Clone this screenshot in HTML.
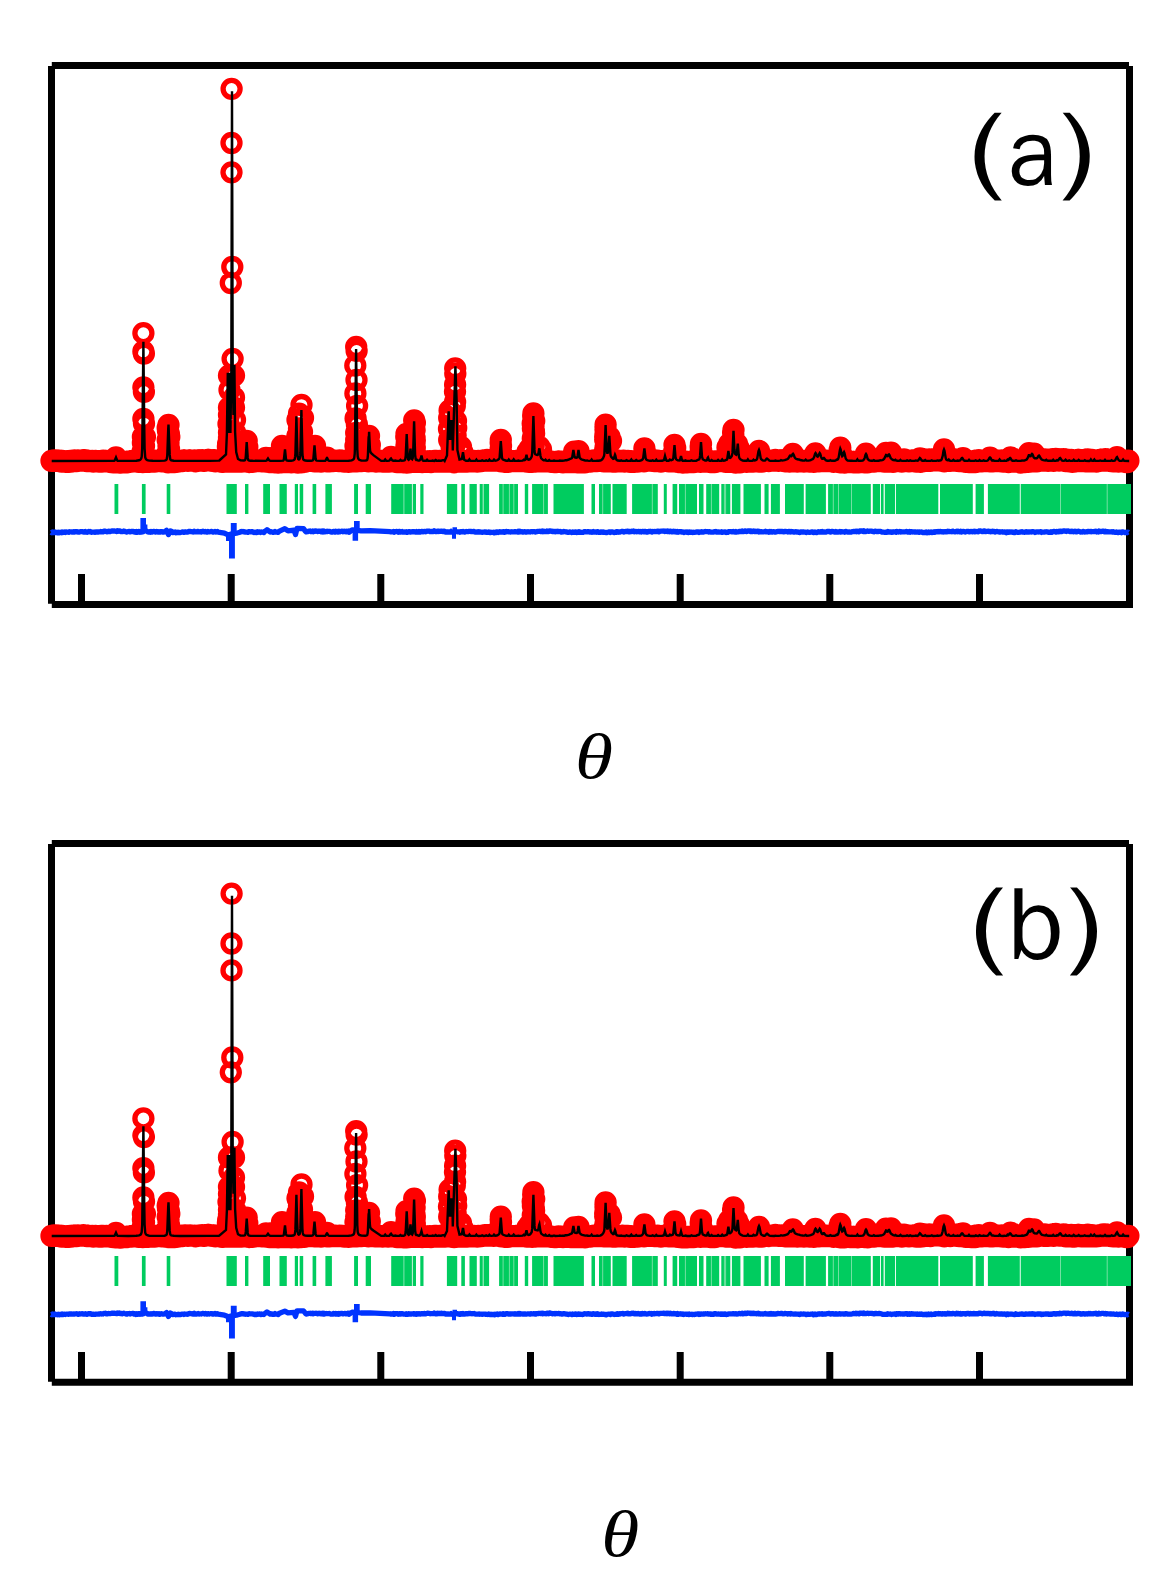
<!DOCTYPE html>
<html><head><meta charset="utf-8"><style>
html,body{margin:0;padding:0;background:#fff;}
body{width:1170px;height:1578px;overflow:hidden;position:relative;}
svg{position:absolute;left:0;top:0;}
.lab{font-family:"WenQuanYi Zen Hei","Liberation Sans",sans-serif;font-size:100px;fill:#000;}
.th{font-family:"Liberation Serif",serif;font-style:italic;font-size:100px;fill:#000;}
</style></head><body>
<svg width="1170" height="1578" viewBox="0 0 1170 1578">
<rect width="1170" height="1578" fill="#fff"/>
<path d="M51.8 65.5H1129M51.5 66V603.7M1129.5 66V607.7M51.8 604.4H1133" stroke="#000" stroke-width="7" fill="none"/>
<path d="M81.5 574V601M231.2 574V601M380.8 574V601M530.5 574V601M680.2 574V601M829.8 574V601M979.5 574V601" stroke="#000" stroke-width="7"/>
<path d="M43 460.8a8.5 8.5 0 1 0 17 0a8.5 8.5 0 1 0-17 0M44.1 460.6a8.5 8.5 0 1 0 17 0a8.5 8.5 0 1 0-17 0M45.2 460.3a8.5 8.5 0 1 0 17 0a8.5 8.5 0 1 0-17 0M46.3 460.8a8.5 8.5 0 1 0 17 0a8.5 8.5 0 1 0-17 0M47.4 460.4a8.5 8.5 0 1 0 17 0a8.5 8.5 0 1 0-17 0M48.5 460.9a8.5 8.5 0 1 0 17 0a8.5 8.5 0 1 0-17 0M49.6 460.6a8.5 8.5 0 1 0 17 0a8.5 8.5 0 1 0-17 0M50.7 460.7a8.5 8.5 0 1 0 17 0a8.5 8.5 0 1 0-17 0M51.8 461.1a8.5 8.5 0 1 0 17 0a8.5 8.5 0 1 0-17 0M52.9 461.6a8.5 8.5 0 1 0 17 0a8.5 8.5 0 1 0-17 0M54 461a8.5 8.5 0 1 0 17 0a8.5 8.5 0 1 0-17 0M55.1 461.1a8.5 8.5 0 1 0 17 0a8.5 8.5 0 1 0-17 0M56.2 461.6a8.5 8.5 0 1 0 17 0a8.5 8.5 0 1 0-17 0M57.3 461.9a8.5 8.5 0 1 0 17 0a8.5 8.5 0 1 0-17 0M58.4 461.5a8.5 8.5 0 1 0 17 0a8.5 8.5 0 1 0-17 0M59.5 461.3a8.5 8.5 0 1 0 17 0a8.5 8.5 0 1 0-17 0M60.6 461.9a8.5 8.5 0 1 0 17 0a8.5 8.5 0 1 0-17 0M61.7 460.9a8.5 8.5 0 1 0 17 0a8.5 8.5 0 1 0-17 0M62.8 461.6a8.5 8.5 0 1 0 17 0a8.5 8.5 0 1 0-17 0M63.9 460.9a8.5 8.5 0 1 0 17 0a8.5 8.5 0 1 0-17 0M65 460.7a8.5 8.5 0 1 0 17 0a8.5 8.5 0 1 0-17 0M66.1 460.5a8.5 8.5 0 1 0 17 0a8.5 8.5 0 1 0-17 0M67.2 460.6a8.5 8.5 0 1 0 17 0a8.5 8.5 0 1 0-17 0M68.3 461a8.5 8.5 0 1 0 17 0a8.5 8.5 0 1 0-17 0M69.4 460.3a8.5 8.5 0 1 0 17 0a8.5 8.5 0 1 0-17 0M70.5 460.7a8.5 8.5 0 1 0 17 0a8.5 8.5 0 1 0-17 0M71.6 460.7a8.5 8.5 0 1 0 17 0a8.5 8.5 0 1 0-17 0M72.7 460.4a8.5 8.5 0 1 0 17 0a8.5 8.5 0 1 0-17 0M73.8 460.6a8.5 8.5 0 1 0 17 0a8.5 8.5 0 1 0-17 0M74.9 460.2a8.5 8.5 0 1 0 17 0a8.5 8.5 0 1 0-17 0M76 460.2a8.5 8.5 0 1 0 17 0a8.5 8.5 0 1 0-17 0M77.1 460.4a8.5 8.5 0 1 0 17 0a8.5 8.5 0 1 0-17 0M78.2 461a8.5 8.5 0 1 0 17 0a8.5 8.5 0 1 0-17 0M79.3 460.8a8.5 8.5 0 1 0 17 0a8.5 8.5 0 1 0-17 0M80.4 460.8a8.5 8.5 0 1 0 17 0a8.5 8.5 0 1 0-17 0M81.5 461.1a8.5 8.5 0 1 0 17 0a8.5 8.5 0 1 0-17 0M82.6 461.1a8.5 8.5 0 1 0 17 0a8.5 8.5 0 1 0-17 0M83.7 460.9a8.5 8.5 0 1 0 17 0a8.5 8.5 0 1 0-17 0M84.8 461.5a8.5 8.5 0 1 0 17 0a8.5 8.5 0 1 0-17 0M85.9 461.4a8.5 8.5 0 1 0 17 0a8.5 8.5 0 1 0-17 0M87 460.9a8.5 8.5 0 1 0 17 0a8.5 8.5 0 1 0-17 0M88.1 461.3a8.5 8.5 0 1 0 17 0a8.5 8.5 0 1 0-17 0M89.2 461.2a8.5 8.5 0 1 0 17 0a8.5 8.5 0 1 0-17 0M90.3 461.5a8.5 8.5 0 1 0 17 0a8.5 8.5 0 1 0-17 0M91.4 461.3a8.5 8.5 0 1 0 17 0a8.5 8.5 0 1 0-17 0M92.5 460.9a8.5 8.5 0 1 0 17 0a8.5 8.5 0 1 0-17 0M93.6 461.6a8.5 8.5 0 1 0 17 0a8.5 8.5 0 1 0-17 0M94.7 460.7a8.5 8.5 0 1 0 17 0a8.5 8.5 0 1 0-17 0M95.8 461a8.5 8.5 0 1 0 17 0a8.5 8.5 0 1 0-17 0M96.9 461.4a8.5 8.5 0 1 0 17 0a8.5 8.5 0 1 0-17 0M98 460.9a8.5 8.5 0 1 0 17 0a8.5 8.5 0 1 0-17 0M99.1 461.3a8.5 8.5 0 1 0 17 0a8.5 8.5 0 1 0-17 0M100.2 461a8.5 8.5 0 1 0 17 0a8.5 8.5 0 1 0-17 0M101.3 461.7a8.5 8.5 0 1 0 17 0a8.5 8.5 0 1 0-17 0M102.4 462a8.5 8.5 0 1 0 17 0a8.5 8.5 0 1 0-17 0M103.5 461.9a8.5 8.5 0 1 0 17 0a8.5 8.5 0 1 0-17 0M104.6 462.3a8.5 8.5 0 1 0 17 0a8.5 8.5 0 1 0-17 0M105.7 461.9a8.5 8.5 0 1 0 17 0a8.5 8.5 0 1 0-17 0M106.8 462.3a8.5 8.5 0 1 0 17 0a8.5 8.5 0 1 0-17 0M107.9 462.3a8.5 8.5 0 1 0 17 0a8.5 8.5 0 1 0-17 0M109 462.4a8.5 8.5 0 1 0 17 0a8.5 8.5 0 1 0-17 0M110.1 462.3a8.5 8.5 0 1 0 17 0a8.5 8.5 0 1 0-17 0M111.2 462.6a8.5 8.5 0 1 0 17 0a8.5 8.5 0 1 0-17 0M112.3 462.7a8.5 8.5 0 1 0 17 0a8.5 8.5 0 1 0-17 0M113.4 462.2a8.5 8.5 0 1 0 17 0a8.5 8.5 0 1 0-17 0M114.5 462.3a8.5 8.5 0 1 0 17 0a8.5 8.5 0 1 0-17 0M115.6 461.6a8.5 8.5 0 1 0 17 0a8.5 8.5 0 1 0-17 0M116.7 462.2a8.5 8.5 0 1 0 17 0a8.5 8.5 0 1 0-17 0M117.8 462a8.5 8.5 0 1 0 17 0a8.5 8.5 0 1 0-17 0M118.9 462.3a8.5 8.5 0 1 0 17 0a8.5 8.5 0 1 0-17 0M120 462a8.5 8.5 0 1 0 17 0a8.5 8.5 0 1 0-17 0M121.1 461.4a8.5 8.5 0 1 0 17 0a8.5 8.5 0 1 0-17 0M122.2 461.4a8.5 8.5 0 1 0 17 0a8.5 8.5 0 1 0-17 0M123.3 461.7a8.5 8.5 0 1 0 17 0a8.5 8.5 0 1 0-17 0M124.4 461a8.5 8.5 0 1 0 17 0a8.5 8.5 0 1 0-17 0M125.5 461.4a8.5 8.5 0 1 0 17 0a8.5 8.5 0 1 0-17 0M126.6 461.1a8.5 8.5 0 1 0 17 0a8.5 8.5 0 1 0-17 0M127.7 461.1a8.5 8.5 0 1 0 17 0a8.5 8.5 0 1 0-17 0M128.8 461.1a8.5 8.5 0 1 0 17 0a8.5 8.5 0 1 0-17 0M129.9 461.9a8.5 8.5 0 1 0 17 0a8.5 8.5 0 1 0-17 0M131 461.3a8.5 8.5 0 1 0 17 0a8.5 8.5 0 1 0-17 0M132.1 461.4a8.5 8.5 0 1 0 17 0a8.5 8.5 0 1 0-17 0M133.2 461.6a8.5 8.5 0 1 0 17 0a8.5 8.5 0 1 0-17 0M134.3 462.1a8.5 8.5 0 1 0 17 0a8.5 8.5 0 1 0-17 0M135.4 461.3a8.5 8.5 0 1 0 17 0a8.5 8.5 0 1 0-17 0M136.5 461.6a8.5 8.5 0 1 0 17 0a8.5 8.5 0 1 0-17 0M137.6 461.7a8.5 8.5 0 1 0 17 0a8.5 8.5 0 1 0-17 0M138.7 461.9a8.5 8.5 0 1 0 17 0a8.5 8.5 0 1 0-17 0M139.8 461.8a8.5 8.5 0 1 0 17 0a8.5 8.5 0 1 0-17 0M140.9 461.8a8.5 8.5 0 1 0 17 0a8.5 8.5 0 1 0-17 0M142 461.1a8.5 8.5 0 1 0 17 0a8.5 8.5 0 1 0-17 0M143.1 461.2a8.5 8.5 0 1 0 17 0a8.5 8.5 0 1 0-17 0M144.2 461a8.5 8.5 0 1 0 17 0a8.5 8.5 0 1 0-17 0M145.3 461.5a8.5 8.5 0 1 0 17 0a8.5 8.5 0 1 0-17 0M146.4 461.6a8.5 8.5 0 1 0 17 0a8.5 8.5 0 1 0-17 0M147.5 460.7a8.5 8.5 0 1 0 17 0a8.5 8.5 0 1 0-17 0M148.6 460.8a8.5 8.5 0 1 0 17 0a8.5 8.5 0 1 0-17 0M149.7 460.9a8.5 8.5 0 1 0 17 0a8.5 8.5 0 1 0-17 0M150.8 460.9a8.5 8.5 0 1 0 17 0a8.5 8.5 0 1 0-17 0M151.9 461.2a8.5 8.5 0 1 0 17 0a8.5 8.5 0 1 0-17 0M153 461.4a8.5 8.5 0 1 0 17 0a8.5 8.5 0 1 0-17 0M154.1 461.2a8.5 8.5 0 1 0 17 0a8.5 8.5 0 1 0-17 0M155.2 461a8.5 8.5 0 1 0 17 0a8.5 8.5 0 1 0-17 0M156.3 461.5a8.5 8.5 0 1 0 17 0a8.5 8.5 0 1 0-17 0M157.4 461.6a8.5 8.5 0 1 0 17 0a8.5 8.5 0 1 0-17 0M158.5 461.9a8.5 8.5 0 1 0 17 0a8.5 8.5 0 1 0-17 0M159.6 462.3a8.5 8.5 0 1 0 17 0a8.5 8.5 0 1 0-17 0M160.7 462.1a8.5 8.5 0 1 0 17 0a8.5 8.5 0 1 0-17 0M161.8 461.9a8.5 8.5 0 1 0 17 0a8.5 8.5 0 1 0-17 0M162.9 462a8.5 8.5 0 1 0 17 0a8.5 8.5 0 1 0-17 0M164 462a8.5 8.5 0 1 0 17 0a8.5 8.5 0 1 0-17 0M165.1 461.3a8.5 8.5 0 1 0 17 0a8.5 8.5 0 1 0-17 0M166.2 462.1a8.5 8.5 0 1 0 17 0a8.5 8.5 0 1 0-17 0M167.3 461.9a8.5 8.5 0 1 0 17 0a8.5 8.5 0 1 0-17 0M168.4 461.9a8.5 8.5 0 1 0 17 0a8.5 8.5 0 1 0-17 0M169.5 461.7a8.5 8.5 0 1 0 17 0a8.5 8.5 0 1 0-17 0M170.6 461.2a8.5 8.5 0 1 0 17 0a8.5 8.5 0 1 0-17 0M171.7 461.1a8.5 8.5 0 1 0 17 0a8.5 8.5 0 1 0-17 0M172.8 460.7a8.5 8.5 0 1 0 17 0a8.5 8.5 0 1 0-17 0M173.9 461.2a8.5 8.5 0 1 0 17 0a8.5 8.5 0 1 0-17 0M175 460.5a8.5 8.5 0 1 0 17 0a8.5 8.5 0 1 0-17 0M176.1 460.5a8.5 8.5 0 1 0 17 0a8.5 8.5 0 1 0-17 0M177.2 460.6a8.5 8.5 0 1 0 17 0a8.5 8.5 0 1 0-17 0M178.3 460.6a8.5 8.5 0 1 0 17 0a8.5 8.5 0 1 0-17 0M179.4 460.8a8.5 8.5 0 1 0 17 0a8.5 8.5 0 1 0-17 0M180.5 460.5a8.5 8.5 0 1 0 17 0a8.5 8.5 0 1 0-17 0M181.6 460.5a8.5 8.5 0 1 0 17 0a8.5 8.5 0 1 0-17 0M182.7 460.7a8.5 8.5 0 1 0 17 0a8.5 8.5 0 1 0-17 0M183.8 460.6a8.5 8.5 0 1 0 17 0a8.5 8.5 0 1 0-17 0M184.9 460.9a8.5 8.5 0 1 0 17 0a8.5 8.5 0 1 0-17 0M186 460.5a8.5 8.5 0 1 0 17 0a8.5 8.5 0 1 0-17 0M187.1 461.3a8.5 8.5 0 1 0 17 0a8.5 8.5 0 1 0-17 0M188.2 461a8.5 8.5 0 1 0 17 0a8.5 8.5 0 1 0-17 0M189.3 460.5a8.5 8.5 0 1 0 17 0a8.5 8.5 0 1 0-17 0M190.4 460.5a8.5 8.5 0 1 0 17 0a8.5 8.5 0 1 0-17 0M191.5 460.5a8.5 8.5 0 1 0 17 0a8.5 8.5 0 1 0-17 0M192.6 460.5a8.5 8.5 0 1 0 17 0a8.5 8.5 0 1 0-17 0M193.7 460.1a8.5 8.5 0 1 0 17 0a8.5 8.5 0 1 0-17 0M194.8 460.8a8.5 8.5 0 1 0 17 0a8.5 8.5 0 1 0-17 0M195.9 460.8a8.5 8.5 0 1 0 17 0a8.5 8.5 0 1 0-17 0M197 460.3a8.5 8.5 0 1 0 17 0a8.5 8.5 0 1 0-17 0M198.1 460.2a8.5 8.5 0 1 0 17 0a8.5 8.5 0 1 0-17 0M199.2 459.8a8.5 8.5 0 1 0 17 0a8.5 8.5 0 1 0-17 0M200.3 459.9a8.5 8.5 0 1 0 17 0a8.5 8.5 0 1 0-17 0M201.4 460.1a8.5 8.5 0 1 0 17 0a8.5 8.5 0 1 0-17 0M202.5 460.1a8.5 8.5 0 1 0 17 0a8.5 8.5 0 1 0-17 0M203.6 460.8a8.5 8.5 0 1 0 17 0a8.5 8.5 0 1 0-17 0M204.7 460.2a8.5 8.5 0 1 0 17 0a8.5 8.5 0 1 0-17 0M205.8 460.2a8.5 8.5 0 1 0 17 0a8.5 8.5 0 1 0-17 0M206.9 461.3a8.5 8.5 0 1 0 17 0a8.5 8.5 0 1 0-17 0M208 461a8.5 8.5 0 1 0 17 0a8.5 8.5 0 1 0-17 0M209.1 460.7a8.5 8.5 0 1 0 17 0a8.5 8.5 0 1 0-17 0M210.2 461.2a8.5 8.5 0 1 0 17 0a8.5 8.5 0 1 0-17 0M211.3 460.8a8.5 8.5 0 1 0 17 0a8.5 8.5 0 1 0-17 0M212.4 461.4a8.5 8.5 0 1 0 17 0a8.5 8.5 0 1 0-17 0M213.5 461.9a8.5 8.5 0 1 0 17 0a8.5 8.5 0 1 0-17 0M214.6 461.8a8.5 8.5 0 1 0 17 0a8.5 8.5 0 1 0-17 0M215.7 461.6a8.5 8.5 0 1 0 17 0a8.5 8.5 0 1 0-17 0M216.8 461.2a8.5 8.5 0 1 0 17 0a8.5 8.5 0 1 0-17 0M217.9 461.3a8.5 8.5 0 1 0 17 0a8.5 8.5 0 1 0-17 0M219 461a8.5 8.5 0 1 0 17 0a8.5 8.5 0 1 0-17 0M220.1 461.6a8.5 8.5 0 1 0 17 0a8.5 8.5 0 1 0-17 0M221.2 461.3a8.5 8.5 0 1 0 17 0a8.5 8.5 0 1 0-17 0M222.3 461.5a8.5 8.5 0 1 0 17 0a8.5 8.5 0 1 0-17 0M223.4 461a8.5 8.5 0 1 0 17 0a8.5 8.5 0 1 0-17 0M224.5 460.9a8.5 8.5 0 1 0 17 0a8.5 8.5 0 1 0-17 0M225.6 461.5a8.5 8.5 0 1 0 17 0a8.5 8.5 0 1 0-17 0M226.7 461.7a8.5 8.5 0 1 0 17 0a8.5 8.5 0 1 0-17 0M227.8 461.6a8.5 8.5 0 1 0 17 0a8.5 8.5 0 1 0-17 0M228.9 461.6a8.5 8.5 0 1 0 17 0a8.5 8.5 0 1 0-17 0M230 461.6a8.5 8.5 0 1 0 17 0a8.5 8.5 0 1 0-17 0M231.1 461.6a8.5 8.5 0 1 0 17 0a8.5 8.5 0 1 0-17 0M232.2 461.2a8.5 8.5 0 1 0 17 0a8.5 8.5 0 1 0-17 0M233.3 461.5a8.5 8.5 0 1 0 17 0a8.5 8.5 0 1 0-17 0M234.4 461.4a8.5 8.5 0 1 0 17 0a8.5 8.5 0 1 0-17 0M235.5 461.1a8.5 8.5 0 1 0 17 0a8.5 8.5 0 1 0-17 0M236.6 461.2a8.5 8.5 0 1 0 17 0a8.5 8.5 0 1 0-17 0M237.7 461.4a8.5 8.5 0 1 0 17 0a8.5 8.5 0 1 0-17 0M238.8 461.4a8.5 8.5 0 1 0 17 0a8.5 8.5 0 1 0-17 0M239.9 461.8a8.5 8.5 0 1 0 17 0a8.5 8.5 0 1 0-17 0M241 462a8.5 8.5 0 1 0 17 0a8.5 8.5 0 1 0-17 0M242.1 461.4a8.5 8.5 0 1 0 17 0a8.5 8.5 0 1 0-17 0M243.2 461.9a8.5 8.5 0 1 0 17 0a8.5 8.5 0 1 0-17 0M244.3 461.8a8.5 8.5 0 1 0 17 0a8.5 8.5 0 1 0-17 0M245.4 461.7a8.5 8.5 0 1 0 17 0a8.5 8.5 0 1 0-17 0M246.5 461a8.5 8.5 0 1 0 17 0a8.5 8.5 0 1 0-17 0M247.6 460.8a8.5 8.5 0 1 0 17 0a8.5 8.5 0 1 0-17 0M248.7 460.7a8.5 8.5 0 1 0 17 0a8.5 8.5 0 1 0-17 0M249.8 460.7a8.5 8.5 0 1 0 17 0a8.5 8.5 0 1 0-17 0M250.9 460.7a8.5 8.5 0 1 0 17 0a8.5 8.5 0 1 0-17 0M252 461.1a8.5 8.5 0 1 0 17 0a8.5 8.5 0 1 0-17 0M253.1 461.4a8.5 8.5 0 1 0 17 0a8.5 8.5 0 1 0-17 0M254.2 461.4a8.5 8.5 0 1 0 17 0a8.5 8.5 0 1 0-17 0M255.3 461.1a8.5 8.5 0 1 0 17 0a8.5 8.5 0 1 0-17 0M256.4 461.4a8.5 8.5 0 1 0 17 0a8.5 8.5 0 1 0-17 0M257.5 461.7a8.5 8.5 0 1 0 17 0a8.5 8.5 0 1 0-17 0M258.6 461.1a8.5 8.5 0 1 0 17 0a8.5 8.5 0 1 0-17 0M259.7 461.8a8.5 8.5 0 1 0 17 0a8.5 8.5 0 1 0-17 0M260.8 462.1a8.5 8.5 0 1 0 17 0a8.5 8.5 0 1 0-17 0M261.9 462.1a8.5 8.5 0 1 0 17 0a8.5 8.5 0 1 0-17 0M263 462.2a8.5 8.5 0 1 0 17 0a8.5 8.5 0 1 0-17 0M264.1 461.9a8.5 8.5 0 1 0 17 0a8.5 8.5 0 1 0-17 0M265.2 461.7a8.5 8.5 0 1 0 17 0a8.5 8.5 0 1 0-17 0M266.3 462.3a8.5 8.5 0 1 0 17 0a8.5 8.5 0 1 0-17 0M267.4 461.9a8.5 8.5 0 1 0 17 0a8.5 8.5 0 1 0-17 0M268.5 462.3a8.5 8.5 0 1 0 17 0a8.5 8.5 0 1 0-17 0M269.6 462.5a8.5 8.5 0 1 0 17 0a8.5 8.5 0 1 0-17 0M270.7 461.9a8.5 8.5 0 1 0 17 0a8.5 8.5 0 1 0-17 0M271.8 461.8a8.5 8.5 0 1 0 17 0a8.5 8.5 0 1 0-17 0M272.9 462.3a8.5 8.5 0 1 0 17 0a8.5 8.5 0 1 0-17 0M274 462a8.5 8.5 0 1 0 17 0a8.5 8.5 0 1 0-17 0M275.1 461.5a8.5 8.5 0 1 0 17 0a8.5 8.5 0 1 0-17 0M276.2 461.4a8.5 8.5 0 1 0 17 0a8.5 8.5 0 1 0-17 0M277.3 461.4a8.5 8.5 0 1 0 17 0a8.5 8.5 0 1 0-17 0M278.4 462.2a8.5 8.5 0 1 0 17 0a8.5 8.5 0 1 0-17 0M279.5 462.1a8.5 8.5 0 1 0 17 0a8.5 8.5 0 1 0-17 0M280.6 461.5a8.5 8.5 0 1 0 17 0a8.5 8.5 0 1 0-17 0M281.7 462.2a8.5 8.5 0 1 0 17 0a8.5 8.5 0 1 0-17 0M282.8 462.4a8.5 8.5 0 1 0 17 0a8.5 8.5 0 1 0-17 0M283.9 462.1a8.5 8.5 0 1 0 17 0a8.5 8.5 0 1 0-17 0M285 461.9a8.5 8.5 0 1 0 17 0a8.5 8.5 0 1 0-17 0M286.1 462.1a8.5 8.5 0 1 0 17 0a8.5 8.5 0 1 0-17 0M287.2 461.7a8.5 8.5 0 1 0 17 0a8.5 8.5 0 1 0-17 0M288.3 461.6a8.5 8.5 0 1 0 17 0a8.5 8.5 0 1 0-17 0M289.4 462.5a8.5 8.5 0 1 0 17 0a8.5 8.5 0 1 0-17 0M290.5 462.2a8.5 8.5 0 1 0 17 0a8.5 8.5 0 1 0-17 0M291.6 462a8.5 8.5 0 1 0 17 0a8.5 8.5 0 1 0-17 0M292.7 462.3a8.5 8.5 0 1 0 17 0a8.5 8.5 0 1 0-17 0M293.8 461.7a8.5 8.5 0 1 0 17 0a8.5 8.5 0 1 0-17 0M294.9 462a8.5 8.5 0 1 0 17 0a8.5 8.5 0 1 0-17 0M296 461.8a8.5 8.5 0 1 0 17 0a8.5 8.5 0 1 0-17 0M297.1 461a8.5 8.5 0 1 0 17 0a8.5 8.5 0 1 0-17 0M298.2 460.9a8.5 8.5 0 1 0 17 0a8.5 8.5 0 1 0-17 0M299.3 460.9a8.5 8.5 0 1 0 17 0a8.5 8.5 0 1 0-17 0M300.4 460.7a8.5 8.5 0 1 0 17 0a8.5 8.5 0 1 0-17 0M301.5 460.9a8.5 8.5 0 1 0 17 0a8.5 8.5 0 1 0-17 0M302.6 460.5a8.5 8.5 0 1 0 17 0a8.5 8.5 0 1 0-17 0M303.7 460.7a8.5 8.5 0 1 0 17 0a8.5 8.5 0 1 0-17 0M304.8 460.4a8.5 8.5 0 1 0 17 0a8.5 8.5 0 1 0-17 0M305.9 461.1a8.5 8.5 0 1 0 17 0a8.5 8.5 0 1 0-17 0M307 460.6a8.5 8.5 0 1 0 17 0a8.5 8.5 0 1 0-17 0M308.1 460.8a8.5 8.5 0 1 0 17 0a8.5 8.5 0 1 0-17 0M309.2 460.9a8.5 8.5 0 1 0 17 0a8.5 8.5 0 1 0-17 0M310.3 461.3a8.5 8.5 0 1 0 17 0a8.5 8.5 0 1 0-17 0M311.4 460.9a8.5 8.5 0 1 0 17 0a8.5 8.5 0 1 0-17 0M312.5 461.5a8.5 8.5 0 1 0 17 0a8.5 8.5 0 1 0-17 0M313.6 461.1a8.5 8.5 0 1 0 17 0a8.5 8.5 0 1 0-17 0M314.7 461.2a8.5 8.5 0 1 0 17 0a8.5 8.5 0 1 0-17 0M315.8 461.2a8.5 8.5 0 1 0 17 0a8.5 8.5 0 1 0-17 0M316.9 460.7a8.5 8.5 0 1 0 17 0a8.5 8.5 0 1 0-17 0M318 461.1a8.5 8.5 0 1 0 17 0a8.5 8.5 0 1 0-17 0M319.1 460.8a8.5 8.5 0 1 0 17 0a8.5 8.5 0 1 0-17 0M320.2 460.6a8.5 8.5 0 1 0 17 0a8.5 8.5 0 1 0-17 0M321.3 461.4a8.5 8.5 0 1 0 17 0a8.5 8.5 0 1 0-17 0M322.4 460.7a8.5 8.5 0 1 0 17 0a8.5 8.5 0 1 0-17 0M323.5 460.9a8.5 8.5 0 1 0 17 0a8.5 8.5 0 1 0-17 0M324.6 461.1a8.5 8.5 0 1 0 17 0a8.5 8.5 0 1 0-17 0M325.7 460.9a8.5 8.5 0 1 0 17 0a8.5 8.5 0 1 0-17 0M326.8 460.7a8.5 8.5 0 1 0 17 0a8.5 8.5 0 1 0-17 0M327.9 460.9a8.5 8.5 0 1 0 17 0a8.5 8.5 0 1 0-17 0M329 460.9a8.5 8.5 0 1 0 17 0a8.5 8.5 0 1 0-17 0M330.1 461.2a8.5 8.5 0 1 0 17 0a8.5 8.5 0 1 0-17 0M331.2 460.5a8.5 8.5 0 1 0 17 0a8.5 8.5 0 1 0-17 0M332.3 461.1a8.5 8.5 0 1 0 17 0a8.5 8.5 0 1 0-17 0M333.4 460.8a8.5 8.5 0 1 0 17 0a8.5 8.5 0 1 0-17 0M334.5 460.9a8.5 8.5 0 1 0 17 0a8.5 8.5 0 1 0-17 0M335.6 461.5a8.5 8.5 0 1 0 17 0a8.5 8.5 0 1 0-17 0M336.7 461.3a8.5 8.5 0 1 0 17 0a8.5 8.5 0 1 0-17 0M337.8 461.4a8.5 8.5 0 1 0 17 0a8.5 8.5 0 1 0-17 0M338.9 461.7a8.5 8.5 0 1 0 17 0a8.5 8.5 0 1 0-17 0M340 461.9a8.5 8.5 0 1 0 17 0a8.5 8.5 0 1 0-17 0M341.1 461.4a8.5 8.5 0 1 0 17 0a8.5 8.5 0 1 0-17 0M342.2 461.5a8.5 8.5 0 1 0 17 0a8.5 8.5 0 1 0-17 0M343.3 461.4a8.5 8.5 0 1 0 17 0a8.5 8.5 0 1 0-17 0M344.4 461.3a8.5 8.5 0 1 0 17 0a8.5 8.5 0 1 0-17 0M345.5 461.4a8.5 8.5 0 1 0 17 0a8.5 8.5 0 1 0-17 0M346.6 461.1a8.5 8.5 0 1 0 17 0a8.5 8.5 0 1 0-17 0M347.7 461a8.5 8.5 0 1 0 17 0a8.5 8.5 0 1 0-17 0M348.8 460.9a8.5 8.5 0 1 0 17 0a8.5 8.5 0 1 0-17 0M349.9 461.2a8.5 8.5 0 1 0 17 0a8.5 8.5 0 1 0-17 0M351 460.9a8.5 8.5 0 1 0 17 0a8.5 8.5 0 1 0-17 0M352.1 461a8.5 8.5 0 1 0 17 0a8.5 8.5 0 1 0-17 0M353.2 461a8.5 8.5 0 1 0 17 0a8.5 8.5 0 1 0-17 0M354.3 460.2a8.5 8.5 0 1 0 17 0a8.5 8.5 0 1 0-17 0M355.4 460.5a8.5 8.5 0 1 0 17 0a8.5 8.5 0 1 0-17 0M356.5 460.9a8.5 8.5 0 1 0 17 0a8.5 8.5 0 1 0-17 0M357.6 460.8a8.5 8.5 0 1 0 17 0a8.5 8.5 0 1 0-17 0M358.7 460.2a8.5 8.5 0 1 0 17 0a8.5 8.5 0 1 0-17 0M359.8 460.2a8.5 8.5 0 1 0 17 0a8.5 8.5 0 1 0-17 0M360.9 460.6a8.5 8.5 0 1 0 17 0a8.5 8.5 0 1 0-17 0M362 460.3a8.5 8.5 0 1 0 17 0a8.5 8.5 0 1 0-17 0M363.1 460.6a8.5 8.5 0 1 0 17 0a8.5 8.5 0 1 0-17 0M364.2 460.5a8.5 8.5 0 1 0 17 0a8.5 8.5 0 1 0-17 0M365.3 461.1a8.5 8.5 0 1 0 17 0a8.5 8.5 0 1 0-17 0M366.4 461.3a8.5 8.5 0 1 0 17 0a8.5 8.5 0 1 0-17 0M367.5 461.5a8.5 8.5 0 1 0 17 0a8.5 8.5 0 1 0-17 0M368.6 460.7a8.5 8.5 0 1 0 17 0a8.5 8.5 0 1 0-17 0M369.7 461.3a8.5 8.5 0 1 0 17 0a8.5 8.5 0 1 0-17 0M370.8 461.3a8.5 8.5 0 1 0 17 0a8.5 8.5 0 1 0-17 0M371.9 460.7a8.5 8.5 0 1 0 17 0a8.5 8.5 0 1 0-17 0M373 461.4a8.5 8.5 0 1 0 17 0a8.5 8.5 0 1 0-17 0M374.1 461.5a8.5 8.5 0 1 0 17 0a8.5 8.5 0 1 0-17 0M375.2 460.7a8.5 8.5 0 1 0 17 0a8.5 8.5 0 1 0-17 0M376.3 461.5a8.5 8.5 0 1 0 17 0a8.5 8.5 0 1 0-17 0M377.4 460.9a8.5 8.5 0 1 0 17 0a8.5 8.5 0 1 0-17 0M378.5 461a8.5 8.5 0 1 0 17 0a8.5 8.5 0 1 0-17 0M379.6 461.6a8.5 8.5 0 1 0 17 0a8.5 8.5 0 1 0-17 0M380.7 461.5a8.5 8.5 0 1 0 17 0a8.5 8.5 0 1 0-17 0M381.8 460.9a8.5 8.5 0 1 0 17 0a8.5 8.5 0 1 0-17 0M382.9 461.2a8.5 8.5 0 1 0 17 0a8.5 8.5 0 1 0-17 0M384 461.4a8.5 8.5 0 1 0 17 0a8.5 8.5 0 1 0-17 0M385.1 461.4a8.5 8.5 0 1 0 17 0a8.5 8.5 0 1 0-17 0M386.2 461.4a8.5 8.5 0 1 0 17 0a8.5 8.5 0 1 0-17 0M387.3 461.6a8.5 8.5 0 1 0 17 0a8.5 8.5 0 1 0-17 0M388.4 462.1a8.5 8.5 0 1 0 17 0a8.5 8.5 0 1 0-17 0M389.5 461.5a8.5 8.5 0 1 0 17 0a8.5 8.5 0 1 0-17 0M390.6 462.2a8.5 8.5 0 1 0 17 0a8.5 8.5 0 1 0-17 0M391.7 462.1a8.5 8.5 0 1 0 17 0a8.5 8.5 0 1 0-17 0M392.8 461.7a8.5 8.5 0 1 0 17 0a8.5 8.5 0 1 0-17 0M393.9 462.1a8.5 8.5 0 1 0 17 0a8.5 8.5 0 1 0-17 0M395 462.3a8.5 8.5 0 1 0 17 0a8.5 8.5 0 1 0-17 0M396.1 462.2a8.5 8.5 0 1 0 17 0a8.5 8.5 0 1 0-17 0M397.2 461.7a8.5 8.5 0 1 0 17 0a8.5 8.5 0 1 0-17 0M398.3 462.5a8.5 8.5 0 1 0 17 0a8.5 8.5 0 1 0-17 0M399.4 462.2a8.5 8.5 0 1 0 17 0a8.5 8.5 0 1 0-17 0M400.5 462.3a8.5 8.5 0 1 0 17 0a8.5 8.5 0 1 0-17 0M401.6 461.4a8.5 8.5 0 1 0 17 0a8.5 8.5 0 1 0-17 0M402.7 461.4a8.5 8.5 0 1 0 17 0a8.5 8.5 0 1 0-17 0M403.8 461.1a8.5 8.5 0 1 0 17 0a8.5 8.5 0 1 0-17 0M404.9 461.8a8.5 8.5 0 1 0 17 0a8.5 8.5 0 1 0-17 0M406 461.2a8.5 8.5 0 1 0 17 0a8.5 8.5 0 1 0-17 0M407.1 461.1a8.5 8.5 0 1 0 17 0a8.5 8.5 0 1 0-17 0M408.2 461.3a8.5 8.5 0 1 0 17 0a8.5 8.5 0 1 0-17 0M409.3 461.8a8.5 8.5 0 1 0 17 0a8.5 8.5 0 1 0-17 0M410.4 461.8a8.5 8.5 0 1 0 17 0a8.5 8.5 0 1 0-17 0M411.5 461.3a8.5 8.5 0 1 0 17 0a8.5 8.5 0 1 0-17 0M412.6 461.2a8.5 8.5 0 1 0 17 0a8.5 8.5 0 1 0-17 0M413.7 462a8.5 8.5 0 1 0 17 0a8.5 8.5 0 1 0-17 0M414.8 461.7a8.5 8.5 0 1 0 17 0a8.5 8.5 0 1 0-17 0M415.9 461.9a8.5 8.5 0 1 0 17 0a8.5 8.5 0 1 0-17 0M417 461.3a8.5 8.5 0 1 0 17 0a8.5 8.5 0 1 0-17 0M418.1 461.3a8.5 8.5 0 1 0 17 0a8.5 8.5 0 1 0-17 0M419.2 461.9a8.5 8.5 0 1 0 17 0a8.5 8.5 0 1 0-17 0M420.3 461.6a8.5 8.5 0 1 0 17 0a8.5 8.5 0 1 0-17 0M421.4 461.2a8.5 8.5 0 1 0 17 0a8.5 8.5 0 1 0-17 0M422.5 462a8.5 8.5 0 1 0 17 0a8.5 8.5 0 1 0-17 0M423.6 461.6a8.5 8.5 0 1 0 17 0a8.5 8.5 0 1 0-17 0M424.7 461.7a8.5 8.5 0 1 0 17 0a8.5 8.5 0 1 0-17 0M425.8 461a8.5 8.5 0 1 0 17 0a8.5 8.5 0 1 0-17 0M426.9 461.7a8.5 8.5 0 1 0 17 0a8.5 8.5 0 1 0-17 0M428 460.8a8.5 8.5 0 1 0 17 0a8.5 8.5 0 1 0-17 0M429.1 461.6a8.5 8.5 0 1 0 17 0a8.5 8.5 0 1 0-17 0M430.2 461.1a8.5 8.5 0 1 0 17 0a8.5 8.5 0 1 0-17 0M431.3 461a8.5 8.5 0 1 0 17 0a8.5 8.5 0 1 0-17 0M432.4 461.3a8.5 8.5 0 1 0 17 0a8.5 8.5 0 1 0-17 0M433.5 461.7a8.5 8.5 0 1 0 17 0a8.5 8.5 0 1 0-17 0M434.6 461.1a8.5 8.5 0 1 0 17 0a8.5 8.5 0 1 0-17 0M435.7 461a8.5 8.5 0 1 0 17 0a8.5 8.5 0 1 0-17 0M436.8 461.5a8.5 8.5 0 1 0 17 0a8.5 8.5 0 1 0-17 0M437.9 461.3a8.5 8.5 0 1 0 17 0a8.5 8.5 0 1 0-17 0M439 461.3a8.5 8.5 0 1 0 17 0a8.5 8.5 0 1 0-17 0M440.1 461.5a8.5 8.5 0 1 0 17 0a8.5 8.5 0 1 0-17 0M441.2 461.4a8.5 8.5 0 1 0 17 0a8.5 8.5 0 1 0-17 0M442.3 461.6a8.5 8.5 0 1 0 17 0a8.5 8.5 0 1 0-17 0M443.4 461.8a8.5 8.5 0 1 0 17 0a8.5 8.5 0 1 0-17 0M444.5 461.8a8.5 8.5 0 1 0 17 0a8.5 8.5 0 1 0-17 0M445.6 462.3a8.5 8.5 0 1 0 17 0a8.5 8.5 0 1 0-17 0M446.7 461.8a8.5 8.5 0 1 0 17 0a8.5 8.5 0 1 0-17 0M447.8 461.9a8.5 8.5 0 1 0 17 0a8.5 8.5 0 1 0-17 0M448.9 461.5a8.5 8.5 0 1 0 17 0a8.5 8.5 0 1 0-17 0M450 461.6a8.5 8.5 0 1 0 17 0a8.5 8.5 0 1 0-17 0M451.1 461.2a8.5 8.5 0 1 0 17 0a8.5 8.5 0 1 0-17 0M452.2 461.3a8.5 8.5 0 1 0 17 0a8.5 8.5 0 1 0-17 0M453.3 460.9a8.5 8.5 0 1 0 17 0a8.5 8.5 0 1 0-17 0M454.4 461.6a8.5 8.5 0 1 0 17 0a8.5 8.5 0 1 0-17 0M455.5 461.3a8.5 8.5 0 1 0 17 0a8.5 8.5 0 1 0-17 0M456.6 460.8a8.5 8.5 0 1 0 17 0a8.5 8.5 0 1 0-17 0M457.7 461.1a8.5 8.5 0 1 0 17 0a8.5 8.5 0 1 0-17 0M458.8 461.5a8.5 8.5 0 1 0 17 0a8.5 8.5 0 1 0-17 0M459.9 460.6a8.5 8.5 0 1 0 17 0a8.5 8.5 0 1 0-17 0M461 461.3a8.5 8.5 0 1 0 17 0a8.5 8.5 0 1 0-17 0M462.1 460.9a8.5 8.5 0 1 0 17 0a8.5 8.5 0 1 0-17 0M463.2 461a8.5 8.5 0 1 0 17 0a8.5 8.5 0 1 0-17 0M464.3 461.4a8.5 8.5 0 1 0 17 0a8.5 8.5 0 1 0-17 0M465.4 460.9a8.5 8.5 0 1 0 17 0a8.5 8.5 0 1 0-17 0M466.5 461.1a8.5 8.5 0 1 0 17 0a8.5 8.5 0 1 0-17 0M467.6 461.3a8.5 8.5 0 1 0 17 0a8.5 8.5 0 1 0-17 0M468.7 461.5a8.5 8.5 0 1 0 17 0a8.5 8.5 0 1 0-17 0M469.8 460.9a8.5 8.5 0 1 0 17 0a8.5 8.5 0 1 0-17 0M470.9 461.3a8.5 8.5 0 1 0 17 0a8.5 8.5 0 1 0-17 0M472 461.1a8.5 8.5 0 1 0 17 0a8.5 8.5 0 1 0-17 0M473.1 461a8.5 8.5 0 1 0 17 0a8.5 8.5 0 1 0-17 0M474.2 460.7a8.5 8.5 0 1 0 17 0a8.5 8.5 0 1 0-17 0M475.3 460.5a8.5 8.5 0 1 0 17 0a8.5 8.5 0 1 0-17 0M476.4 460.2a8.5 8.5 0 1 0 17 0a8.5 8.5 0 1 0-17 0M477.5 460.1a8.5 8.5 0 1 0 17 0a8.5 8.5 0 1 0-17 0M478.6 460a8.5 8.5 0 1 0 17 0a8.5 8.5 0 1 0-17 0M479.7 460.6a8.5 8.5 0 1 0 17 0a8.5 8.5 0 1 0-17 0M480.8 460.1a8.5 8.5 0 1 0 17 0a8.5 8.5 0 1 0-17 0M481.9 459.9a8.5 8.5 0 1 0 17 0a8.5 8.5 0 1 0-17 0M483 459.8a8.5 8.5 0 1 0 17 0a8.5 8.5 0 1 0-17 0M484.1 460.6a8.5 8.5 0 1 0 17 0a8.5 8.5 0 1 0-17 0M485.2 460.7a8.5 8.5 0 1 0 17 0a8.5 8.5 0 1 0-17 0M486.3 460.6a8.5 8.5 0 1 0 17 0a8.5 8.5 0 1 0-17 0M487.4 460.3a8.5 8.5 0 1 0 17 0a8.5 8.5 0 1 0-17 0M488.5 460.4a8.5 8.5 0 1 0 17 0a8.5 8.5 0 1 0-17 0M489.6 460.5a8.5 8.5 0 1 0 17 0a8.5 8.5 0 1 0-17 0M490.7 460.8a8.5 8.5 0 1 0 17 0a8.5 8.5 0 1 0-17 0M491.8 460.6a8.5 8.5 0 1 0 17 0a8.5 8.5 0 1 0-17 0M492.9 461a8.5 8.5 0 1 0 17 0a8.5 8.5 0 1 0-17 0M494 461a8.5 8.5 0 1 0 17 0a8.5 8.5 0 1 0-17 0M495.1 461.7a8.5 8.5 0 1 0 17 0a8.5 8.5 0 1 0-17 0M496.2 461.8a8.5 8.5 0 1 0 17 0a8.5 8.5 0 1 0-17 0M497.3 461.4a8.5 8.5 0 1 0 17 0a8.5 8.5 0 1 0-17 0M498.4 461.1a8.5 8.5 0 1 0 17 0a8.5 8.5 0 1 0-17 0M499.5 461.9a8.5 8.5 0 1 0 17 0a8.5 8.5 0 1 0-17 0M500.6 461.2a8.5 8.5 0 1 0 17 0a8.5 8.5 0 1 0-17 0M501.7 461.2a8.5 8.5 0 1 0 17 0a8.5 8.5 0 1 0-17 0M502.8 460.8a8.5 8.5 0 1 0 17 0a8.5 8.5 0 1 0-17 0M503.9 461.1a8.5 8.5 0 1 0 17 0a8.5 8.5 0 1 0-17 0M505 461.2a8.5 8.5 0 1 0 17 0a8.5 8.5 0 1 0-17 0M506.1 461.1a8.5 8.5 0 1 0 17 0a8.5 8.5 0 1 0-17 0M507.2 460.8a8.5 8.5 0 1 0 17 0a8.5 8.5 0 1 0-17 0M508.3 461.1a8.5 8.5 0 1 0 17 0a8.5 8.5 0 1 0-17 0M509.4 460.6a8.5 8.5 0 1 0 17 0a8.5 8.5 0 1 0-17 0M510.5 460.9a8.5 8.5 0 1 0 17 0a8.5 8.5 0 1 0-17 0M511.6 460.7a8.5 8.5 0 1 0 17 0a8.5 8.5 0 1 0-17 0M512.7 461.1a8.5 8.5 0 1 0 17 0a8.5 8.5 0 1 0-17 0M513.8 460.8a8.5 8.5 0 1 0 17 0a8.5 8.5 0 1 0-17 0M514.9 460.8a8.5 8.5 0 1 0 17 0a8.5 8.5 0 1 0-17 0M516 461.2a8.5 8.5 0 1 0 17 0a8.5 8.5 0 1 0-17 0M517.1 461.1a8.5 8.5 0 1 0 17 0a8.5 8.5 0 1 0-17 0M518.2 461.5a8.5 8.5 0 1 0 17 0a8.5 8.5 0 1 0-17 0M519.3 461.5a8.5 8.5 0 1 0 17 0a8.5 8.5 0 1 0-17 0M520.4 461.8a8.5 8.5 0 1 0 17 0a8.5 8.5 0 1 0-17 0M521.5 461.7a8.5 8.5 0 1 0 17 0a8.5 8.5 0 1 0-17 0M522.6 461.7a8.5 8.5 0 1 0 17 0a8.5 8.5 0 1 0-17 0M523.7 461.8a8.5 8.5 0 1 0 17 0a8.5 8.5 0 1 0-17 0M524.8 461.3a8.5 8.5 0 1 0 17 0a8.5 8.5 0 1 0-17 0M525.9 461.2a8.5 8.5 0 1 0 17 0a8.5 8.5 0 1 0-17 0M527 461.7a8.5 8.5 0 1 0 17 0a8.5 8.5 0 1 0-17 0M528.1 460.8a8.5 8.5 0 1 0 17 0a8.5 8.5 0 1 0-17 0M529.2 461.3a8.5 8.5 0 1 0 17 0a8.5 8.5 0 1 0-17 0M530.3 461.2a8.5 8.5 0 1 0 17 0a8.5 8.5 0 1 0-17 0M531.4 460.5a8.5 8.5 0 1 0 17 0a8.5 8.5 0 1 0-17 0M532.5 461.2a8.5 8.5 0 1 0 17 0a8.5 8.5 0 1 0-17 0M533.6 461.3a8.5 8.5 0 1 0 17 0a8.5 8.5 0 1 0-17 0M534.7 461a8.5 8.5 0 1 0 17 0a8.5 8.5 0 1 0-17 0M535.8 461.1a8.5 8.5 0 1 0 17 0a8.5 8.5 0 1 0-17 0M536.9 461.3a8.5 8.5 0 1 0 17 0a8.5 8.5 0 1 0-17 0M538 460.7a8.5 8.5 0 1 0 17 0a8.5 8.5 0 1 0-17 0M539.1 461.2a8.5 8.5 0 1 0 17 0a8.5 8.5 0 1 0-17 0M540.2 461.2a8.5 8.5 0 1 0 17 0a8.5 8.5 0 1 0-17 0M541.3 461.7a8.5 8.5 0 1 0 17 0a8.5 8.5 0 1 0-17 0M542.4 461.8a8.5 8.5 0 1 0 17 0a8.5 8.5 0 1 0-17 0M543.5 461.9a8.5 8.5 0 1 0 17 0a8.5 8.5 0 1 0-17 0M544.6 461.8a8.5 8.5 0 1 0 17 0a8.5 8.5 0 1 0-17 0M545.7 462.2a8.5 8.5 0 1 0 17 0a8.5 8.5 0 1 0-17 0M546.8 462.1a8.5 8.5 0 1 0 17 0a8.5 8.5 0 1 0-17 0M547.9 462.2a8.5 8.5 0 1 0 17 0a8.5 8.5 0 1 0-17 0M549 461.7a8.5 8.5 0 1 0 17 0a8.5 8.5 0 1 0-17 0M550.1 461.6a8.5 8.5 0 1 0 17 0a8.5 8.5 0 1 0-17 0M551.2 461.7a8.5 8.5 0 1 0 17 0a8.5 8.5 0 1 0-17 0M552.3 461.9a8.5 8.5 0 1 0 17 0a8.5 8.5 0 1 0-17 0M553.4 461.6a8.5 8.5 0 1 0 17 0a8.5 8.5 0 1 0-17 0M554.5 462.3a8.5 8.5 0 1 0 17 0a8.5 8.5 0 1 0-17 0M555.6 462a8.5 8.5 0 1 0 17 0a8.5 8.5 0 1 0-17 0M556.7 462a8.5 8.5 0 1 0 17 0a8.5 8.5 0 1 0-17 0M557.8 462a8.5 8.5 0 1 0 17 0a8.5 8.5 0 1 0-17 0M558.9 462a8.5 8.5 0 1 0 17 0a8.5 8.5 0 1 0-17 0M560 461.8a8.5 8.5 0 1 0 17 0a8.5 8.5 0 1 0-17 0M561.1 461.3a8.5 8.5 0 1 0 17 0a8.5 8.5 0 1 0-17 0M562.2 462.1a8.5 8.5 0 1 0 17 0a8.5 8.5 0 1 0-17 0M563.3 462.1a8.5 8.5 0 1 0 17 0a8.5 8.5 0 1 0-17 0M564.4 461.9a8.5 8.5 0 1 0 17 0a8.5 8.5 0 1 0-17 0M565.5 462a8.5 8.5 0 1 0 17 0a8.5 8.5 0 1 0-17 0M566.6 462.2a8.5 8.5 0 1 0 17 0a8.5 8.5 0 1 0-17 0M567.7 461.6a8.5 8.5 0 1 0 17 0a8.5 8.5 0 1 0-17 0M568.8 462.3a8.5 8.5 0 1 0 17 0a8.5 8.5 0 1 0-17 0M569.9 461.9a8.5 8.5 0 1 0 17 0a8.5 8.5 0 1 0-17 0M571 461.7a8.5 8.5 0 1 0 17 0a8.5 8.5 0 1 0-17 0M572.1 461.9a8.5 8.5 0 1 0 17 0a8.5 8.5 0 1 0-17 0M573.2 462.3a8.5 8.5 0 1 0 17 0a8.5 8.5 0 1 0-17 0M574.3 461.7a8.5 8.5 0 1 0 17 0a8.5 8.5 0 1 0-17 0M575.4 462.2a8.5 8.5 0 1 0 17 0a8.5 8.5 0 1 0-17 0M576.5 462.3a8.5 8.5 0 1 0 17 0a8.5 8.5 0 1 0-17 0M577.6 461.7a8.5 8.5 0 1 0 17 0a8.5 8.5 0 1 0-17 0M578.7 461.5a8.5 8.5 0 1 0 17 0a8.5 8.5 0 1 0-17 0M579.8 461.5a8.5 8.5 0 1 0 17 0a8.5 8.5 0 1 0-17 0M580.9 461.5a8.5 8.5 0 1 0 17 0a8.5 8.5 0 1 0-17 0M582 461.5a8.5 8.5 0 1 0 17 0a8.5 8.5 0 1 0-17 0M583.1 461.2a8.5 8.5 0 1 0 17 0a8.5 8.5 0 1 0-17 0M584.2 461.1a8.5 8.5 0 1 0 17 0a8.5 8.5 0 1 0-17 0M585.3 460.5a8.5 8.5 0 1 0 17 0a8.5 8.5 0 1 0-17 0M586.4 460.5a8.5 8.5 0 1 0 17 0a8.5 8.5 0 1 0-17 0M587.5 460.6a8.5 8.5 0 1 0 17 0a8.5 8.5 0 1 0-17 0M588.6 461.1a8.5 8.5 0 1 0 17 0a8.5 8.5 0 1 0-17 0M589.7 460.6a8.5 8.5 0 1 0 17 0a8.5 8.5 0 1 0-17 0M590.8 460.9a8.5 8.5 0 1 0 17 0a8.5 8.5 0 1 0-17 0M591.9 460.4a8.5 8.5 0 1 0 17 0a8.5 8.5 0 1 0-17 0M593 460.6a8.5 8.5 0 1 0 17 0a8.5 8.5 0 1 0-17 0M594.1 460.8a8.5 8.5 0 1 0 17 0a8.5 8.5 0 1 0-17 0M595.2 461.3a8.5 8.5 0 1 0 17 0a8.5 8.5 0 1 0-17 0M596.3 461.4a8.5 8.5 0 1 0 17 0a8.5 8.5 0 1 0-17 0M597.4 461.4a8.5 8.5 0 1 0 17 0a8.5 8.5 0 1 0-17 0M598.5 461.1a8.5 8.5 0 1 0 17 0a8.5 8.5 0 1 0-17 0M599.6 461.3a8.5 8.5 0 1 0 17 0a8.5 8.5 0 1 0-17 0M600.7 461.3a8.5 8.5 0 1 0 17 0a8.5 8.5 0 1 0-17 0M601.8 461.3a8.5 8.5 0 1 0 17 0a8.5 8.5 0 1 0-17 0M602.9 460.9a8.5 8.5 0 1 0 17 0a8.5 8.5 0 1 0-17 0M604 461.6a8.5 8.5 0 1 0 17 0a8.5 8.5 0 1 0-17 0M605.1 460.9a8.5 8.5 0 1 0 17 0a8.5 8.5 0 1 0-17 0M606.2 461.6a8.5 8.5 0 1 0 17 0a8.5 8.5 0 1 0-17 0M607.3 461.5a8.5 8.5 0 1 0 17 0a8.5 8.5 0 1 0-17 0M608.4 460.5a8.5 8.5 0 1 0 17 0a8.5 8.5 0 1 0-17 0M609.5 460.9a8.5 8.5 0 1 0 17 0a8.5 8.5 0 1 0-17 0M610.6 461.3a8.5 8.5 0 1 0 17 0a8.5 8.5 0 1 0-17 0M611.7 461.4a8.5 8.5 0 1 0 17 0a8.5 8.5 0 1 0-17 0M612.8 460.9a8.5 8.5 0 1 0 17 0a8.5 8.5 0 1 0-17 0M613.9 460.8a8.5 8.5 0 1 0 17 0a8.5 8.5 0 1 0-17 0M615 460.7a8.5 8.5 0 1 0 17 0a8.5 8.5 0 1 0-17 0M616.1 461.5a8.5 8.5 0 1 0 17 0a8.5 8.5 0 1 0-17 0M617.2 460.9a8.5 8.5 0 1 0 17 0a8.5 8.5 0 1 0-17 0M618.3 461.3a8.5 8.5 0 1 0 17 0a8.5 8.5 0 1 0-17 0M619.4 460.9a8.5 8.5 0 1 0 17 0a8.5 8.5 0 1 0-17 0M620.5 461.4a8.5 8.5 0 1 0 17 0a8.5 8.5 0 1 0-17 0M621.6 461.9a8.5 8.5 0 1 0 17 0a8.5 8.5 0 1 0-17 0M622.7 461.1a8.5 8.5 0 1 0 17 0a8.5 8.5 0 1 0-17 0M623.8 461.8a8.5 8.5 0 1 0 17 0a8.5 8.5 0 1 0-17 0M624.9 461.5a8.5 8.5 0 1 0 17 0a8.5 8.5 0 1 0-17 0M626 461.8a8.5 8.5 0 1 0 17 0a8.5 8.5 0 1 0-17 0M627.1 461.6a8.5 8.5 0 1 0 17 0a8.5 8.5 0 1 0-17 0M628.2 461a8.5 8.5 0 1 0 17 0a8.5 8.5 0 1 0-17 0M629.3 461.6a8.5 8.5 0 1 0 17 0a8.5 8.5 0 1 0-17 0M630.4 461a8.5 8.5 0 1 0 17 0a8.5 8.5 0 1 0-17 0M631.5 460.5a8.5 8.5 0 1 0 17 0a8.5 8.5 0 1 0-17 0M632.6 460.3a8.5 8.5 0 1 0 17 0a8.5 8.5 0 1 0-17 0M633.7 460.7a8.5 8.5 0 1 0 17 0a8.5 8.5 0 1 0-17 0M634.8 460.5a8.5 8.5 0 1 0 17 0a8.5 8.5 0 1 0-17 0M635.9 460.3a8.5 8.5 0 1 0 17 0a8.5 8.5 0 1 0-17 0M637 460.1a8.5 8.5 0 1 0 17 0a8.5 8.5 0 1 0-17 0M638.1 460.2a8.5 8.5 0 1 0 17 0a8.5 8.5 0 1 0-17 0M639.2 460.2a8.5 8.5 0 1 0 17 0a8.5 8.5 0 1 0-17 0M640.3 460.7a8.5 8.5 0 1 0 17 0a8.5 8.5 0 1 0-17 0M641.4 459.9a8.5 8.5 0 1 0 17 0a8.5 8.5 0 1 0-17 0M642.5 460.7a8.5 8.5 0 1 0 17 0a8.5 8.5 0 1 0-17 0M643.6 460.9a8.5 8.5 0 1 0 17 0a8.5 8.5 0 1 0-17 0M644.7 460.2a8.5 8.5 0 1 0 17 0a8.5 8.5 0 1 0-17 0M645.8 461.1a8.5 8.5 0 1 0 17 0a8.5 8.5 0 1 0-17 0M646.9 461a8.5 8.5 0 1 0 17 0a8.5 8.5 0 1 0-17 0M648 461.2a8.5 8.5 0 1 0 17 0a8.5 8.5 0 1 0-17 0M649.1 460.7a8.5 8.5 0 1 0 17 0a8.5 8.5 0 1 0-17 0M650.2 460.8a8.5 8.5 0 1 0 17 0a8.5 8.5 0 1 0-17 0M651.3 460.9a8.5 8.5 0 1 0 17 0a8.5 8.5 0 1 0-17 0M652.4 461.5a8.5 8.5 0 1 0 17 0a8.5 8.5 0 1 0-17 0M653.5 461.1a8.5 8.5 0 1 0 17 0a8.5 8.5 0 1 0-17 0M654.6 460.9a8.5 8.5 0 1 0 17 0a8.5 8.5 0 1 0-17 0M655.7 460.9a8.5 8.5 0 1 0 17 0a8.5 8.5 0 1 0-17 0M656.8 460.7a8.5 8.5 0 1 0 17 0a8.5 8.5 0 1 0-17 0M657.9 460.5a8.5 8.5 0 1 0 17 0a8.5 8.5 0 1 0-17 0M659 460.5a8.5 8.5 0 1 0 17 0a8.5 8.5 0 1 0-17 0M660.1 461.3a8.5 8.5 0 1 0 17 0a8.5 8.5 0 1 0-17 0M661.2 460.7a8.5 8.5 0 1 0 17 0a8.5 8.5 0 1 0-17 0M662.3 461.4a8.5 8.5 0 1 0 17 0a8.5 8.5 0 1 0-17 0M663.4 460.7a8.5 8.5 0 1 0 17 0a8.5 8.5 0 1 0-17 0M664.5 460.8a8.5 8.5 0 1 0 17 0a8.5 8.5 0 1 0-17 0M665.6 461.2a8.5 8.5 0 1 0 17 0a8.5 8.5 0 1 0-17 0M666.7 460.9a8.5 8.5 0 1 0 17 0a8.5 8.5 0 1 0-17 0M667.8 461.2a8.5 8.5 0 1 0 17 0a8.5 8.5 0 1 0-17 0M668.9 461.9a8.5 8.5 0 1 0 17 0a8.5 8.5 0 1 0-17 0M670 462a8.5 8.5 0 1 0 17 0a8.5 8.5 0 1 0-17 0M671.1 462.1a8.5 8.5 0 1 0 17 0a8.5 8.5 0 1 0-17 0M672.2 462a8.5 8.5 0 1 0 17 0a8.5 8.5 0 1 0-17 0M673.3 462.4a8.5 8.5 0 1 0 17 0a8.5 8.5 0 1 0-17 0M674.4 462.5a8.5 8.5 0 1 0 17 0a8.5 8.5 0 1 0-17 0M675.5 462.1a8.5 8.5 0 1 0 17 0a8.5 8.5 0 1 0-17 0M676.6 462.3a8.5 8.5 0 1 0 17 0a8.5 8.5 0 1 0-17 0M677.7 461.7a8.5 8.5 0 1 0 17 0a8.5 8.5 0 1 0-17 0M678.8 462.3a8.5 8.5 0 1 0 17 0a8.5 8.5 0 1 0-17 0M679.9 462a8.5 8.5 0 1 0 17 0a8.5 8.5 0 1 0-17 0M681 462.2a8.5 8.5 0 1 0 17 0a8.5 8.5 0 1 0-17 0M682.1 462.1a8.5 8.5 0 1 0 17 0a8.5 8.5 0 1 0-17 0M683.2 461.6a8.5 8.5 0 1 0 17 0a8.5 8.5 0 1 0-17 0M684.3 461.3a8.5 8.5 0 1 0 17 0a8.5 8.5 0 1 0-17 0M685.4 462.1a8.5 8.5 0 1 0 17 0a8.5 8.5 0 1 0-17 0M686.5 461.2a8.5 8.5 0 1 0 17 0a8.5 8.5 0 1 0-17 0M687.6 461.4a8.5 8.5 0 1 0 17 0a8.5 8.5 0 1 0-17 0M688.7 461.3a8.5 8.5 0 1 0 17 0a8.5 8.5 0 1 0-17 0M689.8 461.2a8.5 8.5 0 1 0 17 0a8.5 8.5 0 1 0-17 0M690.9 461.6a8.5 8.5 0 1 0 17 0a8.5 8.5 0 1 0-17 0M692 461.8a8.5 8.5 0 1 0 17 0a8.5 8.5 0 1 0-17 0M693.1 461.1a8.5 8.5 0 1 0 17 0a8.5 8.5 0 1 0-17 0M694.2 461.6a8.5 8.5 0 1 0 17 0a8.5 8.5 0 1 0-17 0M695.3 461.3a8.5 8.5 0 1 0 17 0a8.5 8.5 0 1 0-17 0M696.4 461.6a8.5 8.5 0 1 0 17 0a8.5 8.5 0 1 0-17 0M697.5 461.5a8.5 8.5 0 1 0 17 0a8.5 8.5 0 1 0-17 0M698.6 461.3a8.5 8.5 0 1 0 17 0a8.5 8.5 0 1 0-17 0M699.7 461.3a8.5 8.5 0 1 0 17 0a8.5 8.5 0 1 0-17 0M700.8 461.4a8.5 8.5 0 1 0 17 0a8.5 8.5 0 1 0-17 0M701.9 462.1a8.5 8.5 0 1 0 17 0a8.5 8.5 0 1 0-17 0M703 461.7a8.5 8.5 0 1 0 17 0a8.5 8.5 0 1 0-17 0M704.1 461.4a8.5 8.5 0 1 0 17 0a8.5 8.5 0 1 0-17 0M705.2 462a8.5 8.5 0 1 0 17 0a8.5 8.5 0 1 0-17 0M706.3 462.1a8.5 8.5 0 1 0 17 0a8.5 8.5 0 1 0-17 0M707.4 461.5a8.5 8.5 0 1 0 17 0a8.5 8.5 0 1 0-17 0M708.5 461.1a8.5 8.5 0 1 0 17 0a8.5 8.5 0 1 0-17 0M709.6 461.1a8.5 8.5 0 1 0 17 0a8.5 8.5 0 1 0-17 0M710.7 460.9a8.5 8.5 0 1 0 17 0a8.5 8.5 0 1 0-17 0M711.8 461.1a8.5 8.5 0 1 0 17 0a8.5 8.5 0 1 0-17 0M712.9 460.9a8.5 8.5 0 1 0 17 0a8.5 8.5 0 1 0-17 0M714 461a8.5 8.5 0 1 0 17 0a8.5 8.5 0 1 0-17 0M715.1 461a8.5 8.5 0 1 0 17 0a8.5 8.5 0 1 0-17 0M716.2 461.4a8.5 8.5 0 1 0 17 0a8.5 8.5 0 1 0-17 0M717.3 461.8a8.5 8.5 0 1 0 17 0a8.5 8.5 0 1 0-17 0M718.4 461.7a8.5 8.5 0 1 0 17 0a8.5 8.5 0 1 0-17 0M719.5 461.5a8.5 8.5 0 1 0 17 0a8.5 8.5 0 1 0-17 0M720.6 461.6a8.5 8.5 0 1 0 17 0a8.5 8.5 0 1 0-17 0M721.7 461.8a8.5 8.5 0 1 0 17 0a8.5 8.5 0 1 0-17 0M722.8 461.7a8.5 8.5 0 1 0 17 0a8.5 8.5 0 1 0-17 0M723.9 461.8a8.5 8.5 0 1 0 17 0a8.5 8.5 0 1 0-17 0M725 461.6a8.5 8.5 0 1 0 17 0a8.5 8.5 0 1 0-17 0M726.1 461.9a8.5 8.5 0 1 0 17 0a8.5 8.5 0 1 0-17 0M727.2 462.6a8.5 8.5 0 1 0 17 0a8.5 8.5 0 1 0-17 0M728.3 461.8a8.5 8.5 0 1 0 17 0a8.5 8.5 0 1 0-17 0M729.4 462.1a8.5 8.5 0 1 0 17 0a8.5 8.5 0 1 0-17 0M730.5 462.2a8.5 8.5 0 1 0 17 0a8.5 8.5 0 1 0-17 0M731.6 462.4a8.5 8.5 0 1 0 17 0a8.5 8.5 0 1 0-17 0M732.7 461.6a8.5 8.5 0 1 0 17 0a8.5 8.5 0 1 0-17 0M733.8 461.6a8.5 8.5 0 1 0 17 0a8.5 8.5 0 1 0-17 0M734.9 461.5a8.5 8.5 0 1 0 17 0a8.5 8.5 0 1 0-17 0M736 461.5a8.5 8.5 0 1 0 17 0a8.5 8.5 0 1 0-17 0M737.1 461.4a8.5 8.5 0 1 0 17 0a8.5 8.5 0 1 0-17 0M738.2 461.8a8.5 8.5 0 1 0 17 0a8.5 8.5 0 1 0-17 0M739.3 461.6a8.5 8.5 0 1 0 17 0a8.5 8.5 0 1 0-17 0M740.4 461.6a8.5 8.5 0 1 0 17 0a8.5 8.5 0 1 0-17 0M741.5 460.7a8.5 8.5 0 1 0 17 0a8.5 8.5 0 1 0-17 0M742.6 460.6a8.5 8.5 0 1 0 17 0a8.5 8.5 0 1 0-17 0M743.7 461.3a8.5 8.5 0 1 0 17 0a8.5 8.5 0 1 0-17 0M744.8 461.5a8.5 8.5 0 1 0 17 0a8.5 8.5 0 1 0-17 0M745.9 461.1a8.5 8.5 0 1 0 17 0a8.5 8.5 0 1 0-17 0M747 461.2a8.5 8.5 0 1 0 17 0a8.5 8.5 0 1 0-17 0M748.1 460.6a8.5 8.5 0 1 0 17 0a8.5 8.5 0 1 0-17 0M749.2 461a8.5 8.5 0 1 0 17 0a8.5 8.5 0 1 0-17 0M750.3 461.6a8.5 8.5 0 1 0 17 0a8.5 8.5 0 1 0-17 0M751.4 461.5a8.5 8.5 0 1 0 17 0a8.5 8.5 0 1 0-17 0M752.5 461.5a8.5 8.5 0 1 0 17 0a8.5 8.5 0 1 0-17 0M753.6 461.6a8.5 8.5 0 1 0 17 0a8.5 8.5 0 1 0-17 0M754.7 460.8a8.5 8.5 0 1 0 17 0a8.5 8.5 0 1 0-17 0M755.8 460.6a8.5 8.5 0 1 0 17 0a8.5 8.5 0 1 0-17 0M756.9 460.6a8.5 8.5 0 1 0 17 0a8.5 8.5 0 1 0-17 0M758 460.8a8.5 8.5 0 1 0 17 0a8.5 8.5 0 1 0-17 0M759.1 460.9a8.5 8.5 0 1 0 17 0a8.5 8.5 0 1 0-17 0M760.2 461.1a8.5 8.5 0 1 0 17 0a8.5 8.5 0 1 0-17 0M761.3 460.7a8.5 8.5 0 1 0 17 0a8.5 8.5 0 1 0-17 0M762.4 460.6a8.5 8.5 0 1 0 17 0a8.5 8.5 0 1 0-17 0M763.5 460.6a8.5 8.5 0 1 0 17 0a8.5 8.5 0 1 0-17 0M764.6 460.3a8.5 8.5 0 1 0 17 0a8.5 8.5 0 1 0-17 0M765.7 460.4a8.5 8.5 0 1 0 17 0a8.5 8.5 0 1 0-17 0M766.8 459.9a8.5 8.5 0 1 0 17 0a8.5 8.5 0 1 0-17 0M767.9 460.6a8.5 8.5 0 1 0 17 0a8.5 8.5 0 1 0-17 0M769 460.1a8.5 8.5 0 1 0 17 0a8.5 8.5 0 1 0-17 0M770.1 460.9a8.5 8.5 0 1 0 17 0a8.5 8.5 0 1 0-17 0M771.2 460.7a8.5 8.5 0 1 0 17 0a8.5 8.5 0 1 0-17 0M772.3 460.5a8.5 8.5 0 1 0 17 0a8.5 8.5 0 1 0-17 0M773.4 460.4a8.5 8.5 0 1 0 17 0a8.5 8.5 0 1 0-17 0M774.5 460.7a8.5 8.5 0 1 0 17 0a8.5 8.5 0 1 0-17 0M775.6 461.2a8.5 8.5 0 1 0 17 0a8.5 8.5 0 1 0-17 0M776.7 461.3a8.5 8.5 0 1 0 17 0a8.5 8.5 0 1 0-17 0M777.8 460.8a8.5 8.5 0 1 0 17 0a8.5 8.5 0 1 0-17 0M778.9 460.9a8.5 8.5 0 1 0 17 0a8.5 8.5 0 1 0-17 0M780 461.4a8.5 8.5 0 1 0 17 0a8.5 8.5 0 1 0-17 0M781.1 461.5a8.5 8.5 0 1 0 17 0a8.5 8.5 0 1 0-17 0M782.2 461.3a8.5 8.5 0 1 0 17 0a8.5 8.5 0 1 0-17 0M783.3 461.1a8.5 8.5 0 1 0 17 0a8.5 8.5 0 1 0-17 0M784.4 461.4a8.5 8.5 0 1 0 17 0a8.5 8.5 0 1 0-17 0M785.5 460.8a8.5 8.5 0 1 0 17 0a8.5 8.5 0 1 0-17 0M786.6 461a8.5 8.5 0 1 0 17 0a8.5 8.5 0 1 0-17 0M787.7 461.1a8.5 8.5 0 1 0 17 0a8.5 8.5 0 1 0-17 0M788.8 461.6a8.5 8.5 0 1 0 17 0a8.5 8.5 0 1 0-17 0M789.9 461.2a8.5 8.5 0 1 0 17 0a8.5 8.5 0 1 0-17 0M791 461.4a8.5 8.5 0 1 0 17 0a8.5 8.5 0 1 0-17 0M792.1 461a8.5 8.5 0 1 0 17 0a8.5 8.5 0 1 0-17 0M793.2 460.7a8.5 8.5 0 1 0 17 0a8.5 8.5 0 1 0-17 0M794.3 460.7a8.5 8.5 0 1 0 17 0a8.5 8.5 0 1 0-17 0M795.4 461.5a8.5 8.5 0 1 0 17 0a8.5 8.5 0 1 0-17 0M796.5 461.3a8.5 8.5 0 1 0 17 0a8.5 8.5 0 1 0-17 0M797.6 460.9a8.5 8.5 0 1 0 17 0a8.5 8.5 0 1 0-17 0M798.7 460.7a8.5 8.5 0 1 0 17 0a8.5 8.5 0 1 0-17 0M799.8 461.2a8.5 8.5 0 1 0 17 0a8.5 8.5 0 1 0-17 0M800.9 461.5a8.5 8.5 0 1 0 17 0a8.5 8.5 0 1 0-17 0M802 461.3a8.5 8.5 0 1 0 17 0a8.5 8.5 0 1 0-17 0M803.1 461.1a8.5 8.5 0 1 0 17 0a8.5 8.5 0 1 0-17 0M804.2 461.6a8.5 8.5 0 1 0 17 0a8.5 8.5 0 1 0-17 0M805.3 461.8a8.5 8.5 0 1 0 17 0a8.5 8.5 0 1 0-17 0M806.4 461.1a8.5 8.5 0 1 0 17 0a8.5 8.5 0 1 0-17 0M807.5 460.8a8.5 8.5 0 1 0 17 0a8.5 8.5 0 1 0-17 0M808.6 461.1a8.5 8.5 0 1 0 17 0a8.5 8.5 0 1 0-17 0M809.7 461.1a8.5 8.5 0 1 0 17 0a8.5 8.5 0 1 0-17 0M810.8 461.3a8.5 8.5 0 1 0 17 0a8.5 8.5 0 1 0-17 0M811.9 460.7a8.5 8.5 0 1 0 17 0a8.5 8.5 0 1 0-17 0M813 461.2a8.5 8.5 0 1 0 17 0a8.5 8.5 0 1 0-17 0M814.1 461.1a8.5 8.5 0 1 0 17 0a8.5 8.5 0 1 0-17 0M815.2 460.8a8.5 8.5 0 1 0 17 0a8.5 8.5 0 1 0-17 0M816.3 460.5a8.5 8.5 0 1 0 17 0a8.5 8.5 0 1 0-17 0M817.4 461.2a8.5 8.5 0 1 0 17 0a8.5 8.5 0 1 0-17 0M818.5 460.6a8.5 8.5 0 1 0 17 0a8.5 8.5 0 1 0-17 0M819.6 461.1a8.5 8.5 0 1 0 17 0a8.5 8.5 0 1 0-17 0M820.7 460.6a8.5 8.5 0 1 0 17 0a8.5 8.5 0 1 0-17 0M821.8 460.7a8.5 8.5 0 1 0 17 0a8.5 8.5 0 1 0-17 0M822.9 461.4a8.5 8.5 0 1 0 17 0a8.5 8.5 0 1 0-17 0M824 461a8.5 8.5 0 1 0 17 0a8.5 8.5 0 1 0-17 0M825.1 461.8a8.5 8.5 0 1 0 17 0a8.5 8.5 0 1 0-17 0M826.2 461.5a8.5 8.5 0 1 0 17 0a8.5 8.5 0 1 0-17 0M827.3 461.3a8.5 8.5 0 1 0 17 0a8.5 8.5 0 1 0-17 0M828.4 461.4a8.5 8.5 0 1 0 17 0a8.5 8.5 0 1 0-17 0M829.5 461.7a8.5 8.5 0 1 0 17 0a8.5 8.5 0 1 0-17 0M830.6 462.1a8.5 8.5 0 1 0 17 0a8.5 8.5 0 1 0-17 0M831.7 462.4a8.5 8.5 0 1 0 17 0a8.5 8.5 0 1 0-17 0M832.8 461.6a8.5 8.5 0 1 0 17 0a8.5 8.5 0 1 0-17 0M833.9 461.9a8.5 8.5 0 1 0 17 0a8.5 8.5 0 1 0-17 0M835 461.7a8.5 8.5 0 1 0 17 0a8.5 8.5 0 1 0-17 0M836.1 462.5a8.5 8.5 0 1 0 17 0a8.5 8.5 0 1 0-17 0M837.2 461.6a8.5 8.5 0 1 0 17 0a8.5 8.5 0 1 0-17 0M838.3 461.5a8.5 8.5 0 1 0 17 0a8.5 8.5 0 1 0-17 0M839.4 461.4a8.5 8.5 0 1 0 17 0a8.5 8.5 0 1 0-17 0M840.5 461.7a8.5 8.5 0 1 0 17 0a8.5 8.5 0 1 0-17 0M841.6 462.2a8.5 8.5 0 1 0 17 0a8.5 8.5 0 1 0-17 0M842.7 462.2a8.5 8.5 0 1 0 17 0a8.5 8.5 0 1 0-17 0M843.8 462a8.5 8.5 0 1 0 17 0a8.5 8.5 0 1 0-17 0M844.9 462.3a8.5 8.5 0 1 0 17 0a8.5 8.5 0 1 0-17 0M846 462.3a8.5 8.5 0 1 0 17 0a8.5 8.5 0 1 0-17 0M847.1 461.7a8.5 8.5 0 1 0 17 0a8.5 8.5 0 1 0-17 0M848.2 461.6a8.5 8.5 0 1 0 17 0a8.5 8.5 0 1 0-17 0M849.3 462.4a8.5 8.5 0 1 0 17 0a8.5 8.5 0 1 0-17 0M850.4 462.3a8.5 8.5 0 1 0 17 0a8.5 8.5 0 1 0-17 0M851.5 461.4a8.5 8.5 0 1 0 17 0a8.5 8.5 0 1 0-17 0M852.6 461.3a8.5 8.5 0 1 0 17 0a8.5 8.5 0 1 0-17 0M853.7 460.9a8.5 8.5 0 1 0 17 0a8.5 8.5 0 1 0-17 0M854.8 460.8a8.5 8.5 0 1 0 17 0a8.5 8.5 0 1 0-17 0M855.9 462.3a8.5 8.5 0 1 0 17 0a8.5 8.5 0 1 0-17 0M857 462.1a8.5 8.5 0 1 0 17 0a8.5 8.5 0 1 0-17 0M858.1 461a8.5 8.5 0 1 0 17 0a8.5 8.5 0 1 0-17 0M859.2 462.4a8.5 8.5 0 1 0 17 0a8.5 8.5 0 1 0-17 0M860.3 460.5a8.5 8.5 0 1 0 17 0a8.5 8.5 0 1 0-17 0M861.4 461a8.5 8.5 0 1 0 17 0a8.5 8.5 0 1 0-17 0M862.5 461a8.5 8.5 0 1 0 17 0a8.5 8.5 0 1 0-17 0M863.6 461.6a8.5 8.5 0 1 0 17 0a8.5 8.5 0 1 0-17 0M864.7 460.2a8.5 8.5 0 1 0 17 0a8.5 8.5 0 1 0-17 0M865.8 461.5a8.5 8.5 0 1 0 17 0a8.5 8.5 0 1 0-17 0M866.9 459.3a8.5 8.5 0 1 0 17 0a8.5 8.5 0 1 0-17 0M868 460.9a8.5 8.5 0 1 0 17 0a8.5 8.5 0 1 0-17 0M869.1 460.7a8.5 8.5 0 1 0 17 0a8.5 8.5 0 1 0-17 0M870.2 460.5a8.5 8.5 0 1 0 17 0a8.5 8.5 0 1 0-17 0M871.3 461a8.5 8.5 0 1 0 17 0a8.5 8.5 0 1 0-17 0M872.4 460.1a8.5 8.5 0 1 0 17 0a8.5 8.5 0 1 0-17 0M873.5 460.3a8.5 8.5 0 1 0 17 0a8.5 8.5 0 1 0-17 0M874.6 459.4a8.5 8.5 0 1 0 17 0a8.5 8.5 0 1 0-17 0M875.7 461.6a8.5 8.5 0 1 0 17 0a8.5 8.5 0 1 0-17 0M876.8 461.6a8.5 8.5 0 1 0 17 0a8.5 8.5 0 1 0-17 0M877.9 459.8a8.5 8.5 0 1 0 17 0a8.5 8.5 0 1 0-17 0M879 461.6a8.5 8.5 0 1 0 17 0a8.5 8.5 0 1 0-17 0M880.1 461.1a8.5 8.5 0 1 0 17 0a8.5 8.5 0 1 0-17 0M881.2 460.5a8.5 8.5 0 1 0 17 0a8.5 8.5 0 1 0-17 0M882.3 461.7a8.5 8.5 0 1 0 17 0a8.5 8.5 0 1 0-17 0M883.4 461.2a8.5 8.5 0 1 0 17 0a8.5 8.5 0 1 0-17 0M884.5 461.8a8.5 8.5 0 1 0 17 0a8.5 8.5 0 1 0-17 0M885.6 461.4a8.5 8.5 0 1 0 17 0a8.5 8.5 0 1 0-17 0M886.7 460.4a8.5 8.5 0 1 0 17 0a8.5 8.5 0 1 0-17 0M887.8 461.2a8.5 8.5 0 1 0 17 0a8.5 8.5 0 1 0-17 0M888.9 459.8a8.5 8.5 0 1 0 17 0a8.5 8.5 0 1 0-17 0M890 460.5a8.5 8.5 0 1 0 17 0a8.5 8.5 0 1 0-17 0M891.1 459.4a8.5 8.5 0 1 0 17 0a8.5 8.5 0 1 0-17 0M892.2 460.4a8.5 8.5 0 1 0 17 0a8.5 8.5 0 1 0-17 0M893.3 461.7a8.5 8.5 0 1 0 17 0a8.5 8.5 0 1 0-17 0M894.4 460.6a8.5 8.5 0 1 0 17 0a8.5 8.5 0 1 0-17 0M895.5 459.4a8.5 8.5 0 1 0 17 0a8.5 8.5 0 1 0-17 0M896.6 460.9a8.5 8.5 0 1 0 17 0a8.5 8.5 0 1 0-17 0M897.7 460.1a8.5 8.5 0 1 0 17 0a8.5 8.5 0 1 0-17 0M898.8 460.8a8.5 8.5 0 1 0 17 0a8.5 8.5 0 1 0-17 0M899.9 461.3a8.5 8.5 0 1 0 17 0a8.5 8.5 0 1 0-17 0M901 461.4a8.5 8.5 0 1 0 17 0a8.5 8.5 0 1 0-17 0M902.1 461.1a8.5 8.5 0 1 0 17 0a8.5 8.5 0 1 0-17 0M903.2 460.8a8.5 8.5 0 1 0 17 0a8.5 8.5 0 1 0-17 0M904.3 461.2a8.5 8.5 0 1 0 17 0a8.5 8.5 0 1 0-17 0M905.4 460.2a8.5 8.5 0 1 0 17 0a8.5 8.5 0 1 0-17 0M906.5 460.1a8.5 8.5 0 1 0 17 0a8.5 8.5 0 1 0-17 0M907.6 461.5a8.5 8.5 0 1 0 17 0a8.5 8.5 0 1 0-17 0M908.7 460.6a8.5 8.5 0 1 0 17 0a8.5 8.5 0 1 0-17 0M909.8 461.4a8.5 8.5 0 1 0 17 0a8.5 8.5 0 1 0-17 0M910.9 461.1a8.5 8.5 0 1 0 17 0a8.5 8.5 0 1 0-17 0M912 461.8a8.5 8.5 0 1 0 17 0a8.5 8.5 0 1 0-17 0M913.1 460.2a8.5 8.5 0 1 0 17 0a8.5 8.5 0 1 0-17 0M914.2 461.4a8.5 8.5 0 1 0 17 0a8.5 8.5 0 1 0-17 0M915.3 460a8.5 8.5 0 1 0 17 0a8.5 8.5 0 1 0-17 0M916.4 459.4a8.5 8.5 0 1 0 17 0a8.5 8.5 0 1 0-17 0M917.5 460.7a8.5 8.5 0 1 0 17 0a8.5 8.5 0 1 0-17 0M918.6 460.9a8.5 8.5 0 1 0 17 0a8.5 8.5 0 1 0-17 0M919.7 460.5a8.5 8.5 0 1 0 17 0a8.5 8.5 0 1 0-17 0M920.8 459.4a8.5 8.5 0 1 0 17 0a8.5 8.5 0 1 0-17 0M921.9 460.9a8.5 8.5 0 1 0 17 0a8.5 8.5 0 1 0-17 0M923 459.6a8.5 8.5 0 1 0 17 0a8.5 8.5 0 1 0-17 0M924.1 459.5a8.5 8.5 0 1 0 17 0a8.5 8.5 0 1 0-17 0M925.2 459.1a8.5 8.5 0 1 0 17 0a8.5 8.5 0 1 0-17 0M926.3 459.2a8.5 8.5 0 1 0 17 0a8.5 8.5 0 1 0-17 0M927.4 460.4a8.5 8.5 0 1 0 17 0a8.5 8.5 0 1 0-17 0M928.5 458.9a8.5 8.5 0 1 0 17 0a8.5 8.5 0 1 0-17 0M929.6 460.3a8.5 8.5 0 1 0 17 0a8.5 8.5 0 1 0-17 0M930.7 459.6a8.5 8.5 0 1 0 17 0a8.5 8.5 0 1 0-17 0M931.8 460.5a8.5 8.5 0 1 0 17 0a8.5 8.5 0 1 0-17 0M932.9 459.6a8.5 8.5 0 1 0 17 0a8.5 8.5 0 1 0-17 0M934 459.8a8.5 8.5 0 1 0 17 0a8.5 8.5 0 1 0-17 0M935.1 460.7a8.5 8.5 0 1 0 17 0a8.5 8.5 0 1 0-17 0M936.2 459.4a8.5 8.5 0 1 0 17 0a8.5 8.5 0 1 0-17 0M937.3 460.5a8.5 8.5 0 1 0 17 0a8.5 8.5 0 1 0-17 0M938.4 459.9a8.5 8.5 0 1 0 17 0a8.5 8.5 0 1 0-17 0M939.5 460.5a8.5 8.5 0 1 0 17 0a8.5 8.5 0 1 0-17 0M940.6 460.2a8.5 8.5 0 1 0 17 0a8.5 8.5 0 1 0-17 0M941.7 460.9a8.5 8.5 0 1 0 17 0a8.5 8.5 0 1 0-17 0M942.8 460.6a8.5 8.5 0 1 0 17 0a8.5 8.5 0 1 0-17 0M943.9 460.5a8.5 8.5 0 1 0 17 0a8.5 8.5 0 1 0-17 0M945 459.2a8.5 8.5 0 1 0 17 0a8.5 8.5 0 1 0-17 0M946.1 460.7a8.5 8.5 0 1 0 17 0a8.5 8.5 0 1 0-17 0M947.2 460.6a8.5 8.5 0 1 0 17 0a8.5 8.5 0 1 0-17 0M948.3 460.8a8.5 8.5 0 1 0 17 0a8.5 8.5 0 1 0-17 0M949.4 459.4a8.5 8.5 0 1 0 17 0a8.5 8.5 0 1 0-17 0M950.5 461a8.5 8.5 0 1 0 17 0a8.5 8.5 0 1 0-17 0M951.6 460.5a8.5 8.5 0 1 0 17 0a8.5 8.5 0 1 0-17 0M952.7 460.8a8.5 8.5 0 1 0 17 0a8.5 8.5 0 1 0-17 0M953.8 460.4a8.5 8.5 0 1 0 17 0a8.5 8.5 0 1 0-17 0M954.9 461a8.5 8.5 0 1 0 17 0a8.5 8.5 0 1 0-17 0M956 461a8.5 8.5 0 1 0 17 0a8.5 8.5 0 1 0-17 0M957.1 461.9a8.5 8.5 0 1 0 17 0a8.5 8.5 0 1 0-17 0M958.2 461.4a8.5 8.5 0 1 0 17 0a8.5 8.5 0 1 0-17 0M959.3 461.9a8.5 8.5 0 1 0 17 0a8.5 8.5 0 1 0-17 0M960.4 462a8.5 8.5 0 1 0 17 0a8.5 8.5 0 1 0-17 0M961.5 461.8a8.5 8.5 0 1 0 17 0a8.5 8.5 0 1 0-17 0M962.6 462.1a8.5 8.5 0 1 0 17 0a8.5 8.5 0 1 0-17 0M963.7 462.1a8.5 8.5 0 1 0 17 0a8.5 8.5 0 1 0-17 0M964.8 461.5a8.5 8.5 0 1 0 17 0a8.5 8.5 0 1 0-17 0M965.9 460.8a8.5 8.5 0 1 0 17 0a8.5 8.5 0 1 0-17 0M967 462.1a8.5 8.5 0 1 0 17 0a8.5 8.5 0 1 0-17 0M968.1 460.3a8.5 8.5 0 1 0 17 0a8.5 8.5 0 1 0-17 0M969.2 460.9a8.5 8.5 0 1 0 17 0a8.5 8.5 0 1 0-17 0M970.3 460.1a8.5 8.5 0 1 0 17 0a8.5 8.5 0 1 0-17 0M971.4 461a8.5 8.5 0 1 0 17 0a8.5 8.5 0 1 0-17 0M972.5 460.4a8.5 8.5 0 1 0 17 0a8.5 8.5 0 1 0-17 0M973.6 461.3a8.5 8.5 0 1 0 17 0a8.5 8.5 0 1 0-17 0M974.7 460.9a8.5 8.5 0 1 0 17 0a8.5 8.5 0 1 0-17 0M975.8 460.6a8.5 8.5 0 1 0 17 0a8.5 8.5 0 1 0-17 0M976.9 461.1a8.5 8.5 0 1 0 17 0a8.5 8.5 0 1 0-17 0M978 460.5a8.5 8.5 0 1 0 17 0a8.5 8.5 0 1 0-17 0M979.1 460.9a8.5 8.5 0 1 0 17 0a8.5 8.5 0 1 0-17 0M980.2 461a8.5 8.5 0 1 0 17 0a8.5 8.5 0 1 0-17 0M981.3 460.1a8.5 8.5 0 1 0 17 0a8.5 8.5 0 1 0-17 0M982.4 461.2a8.5 8.5 0 1 0 17 0a8.5 8.5 0 1 0-17 0M983.5 461.3a8.5 8.5 0 1 0 17 0a8.5 8.5 0 1 0-17 0M984.6 461.4a8.5 8.5 0 1 0 17 0a8.5 8.5 0 1 0-17 0M985.7 460.8a8.5 8.5 0 1 0 17 0a8.5 8.5 0 1 0-17 0M986.8 460.1a8.5 8.5 0 1 0 17 0a8.5 8.5 0 1 0-17 0M987.9 460.4a8.5 8.5 0 1 0 17 0a8.5 8.5 0 1 0-17 0M989 461.1a8.5 8.5 0 1 0 17 0a8.5 8.5 0 1 0-17 0M990.1 460.9a8.5 8.5 0 1 0 17 0a8.5 8.5 0 1 0-17 0M991.2 461a8.5 8.5 0 1 0 17 0a8.5 8.5 0 1 0-17 0M992.3 461.3a8.5 8.5 0 1 0 17 0a8.5 8.5 0 1 0-17 0M993.4 460.5a8.5 8.5 0 1 0 17 0a8.5 8.5 0 1 0-17 0M994.5 461.6a8.5 8.5 0 1 0 17 0a8.5 8.5 0 1 0-17 0M995.6 461.1a8.5 8.5 0 1 0 17 0a8.5 8.5 0 1 0-17 0M996.7 461.7a8.5 8.5 0 1 0 17 0a8.5 8.5 0 1 0-17 0M997.8 460.6a8.5 8.5 0 1 0 17 0a8.5 8.5 0 1 0-17 0M998.9 461.3a8.5 8.5 0 1 0 17 0a8.5 8.5 0 1 0-17 0M1000 462.1a8.5 8.5 0 1 0 17 0a8.5 8.5 0 1 0-17 0M1001.1 461.2a8.5 8.5 0 1 0 17 0a8.5 8.5 0 1 0-17 0M1002.2 460.7a8.5 8.5 0 1 0 17 0a8.5 8.5 0 1 0-17 0M1003.3 461.5a8.5 8.5 0 1 0 17 0a8.5 8.5 0 1 0-17 0M1004.4 461.6a8.5 8.5 0 1 0 17 0a8.5 8.5 0 1 0-17 0M1005.5 461.7a8.5 8.5 0 1 0 17 0a8.5 8.5 0 1 0-17 0M1006.6 461.1a8.5 8.5 0 1 0 17 0a8.5 8.5 0 1 0-17 0M1007.7 461.5a8.5 8.5 0 1 0 17 0a8.5 8.5 0 1 0-17 0M1008.8 461.4a8.5 8.5 0 1 0 17 0a8.5 8.5 0 1 0-17 0M1009.9 460.7a8.5 8.5 0 1 0 17 0a8.5 8.5 0 1 0-17 0M1011 460.8a8.5 8.5 0 1 0 17 0a8.5 8.5 0 1 0-17 0M1012.1 462.5a8.5 8.5 0 1 0 17 0a8.5 8.5 0 1 0-17 0M1013.2 461.5a8.5 8.5 0 1 0 17 0a8.5 8.5 0 1 0-17 0M1014.3 461.2a8.5 8.5 0 1 0 17 0a8.5 8.5 0 1 0-17 0M1015.4 461.9a8.5 8.5 0 1 0 17 0a8.5 8.5 0 1 0-17 0M1016.5 462a8.5 8.5 0 1 0 17 0a8.5 8.5 0 1 0-17 0M1017.6 461.6a8.5 8.5 0 1 0 17 0a8.5 8.5 0 1 0-17 0M1018.7 460.9a8.5 8.5 0 1 0 17 0a8.5 8.5 0 1 0-17 0M1019.8 461.9a8.5 8.5 0 1 0 17 0a8.5 8.5 0 1 0-17 0M1020.9 461.5a8.5 8.5 0 1 0 17 0a8.5 8.5 0 1 0-17 0M1022 461.6a8.5 8.5 0 1 0 17 0a8.5 8.5 0 1 0-17 0M1023.1 460.7a8.5 8.5 0 1 0 17 0a8.5 8.5 0 1 0-17 0M1024.2 460.9a8.5 8.5 0 1 0 17 0a8.5 8.5 0 1 0-17 0M1025.3 460.8a8.5 8.5 0 1 0 17 0a8.5 8.5 0 1 0-17 0M1026.4 460.8a8.5 8.5 0 1 0 17 0a8.5 8.5 0 1 0-17 0M1027.5 460.7a8.5 8.5 0 1 0 17 0a8.5 8.5 0 1 0-17 0M1028.6 461.3a8.5 8.5 0 1 0 17 0a8.5 8.5 0 1 0-17 0M1029.7 460.5a8.5 8.5 0 1 0 17 0a8.5 8.5 0 1 0-17 0M1030.8 459.3a8.5 8.5 0 1 0 17 0a8.5 8.5 0 1 0-17 0M1031.9 460.6a8.5 8.5 0 1 0 17 0a8.5 8.5 0 1 0-17 0M1033 460.7a8.5 8.5 0 1 0 17 0a8.5 8.5 0 1 0-17 0M1034.1 460.5a8.5 8.5 0 1 0 17 0a8.5 8.5 0 1 0-17 0M1035.2 460.7a8.5 8.5 0 1 0 17 0a8.5 8.5 0 1 0-17 0M1036.3 459.3a8.5 8.5 0 1 0 17 0a8.5 8.5 0 1 0-17 0M1037.4 459.8a8.5 8.5 0 1 0 17 0a8.5 8.5 0 1 0-17 0M1038.5 460a8.5 8.5 0 1 0 17 0a8.5 8.5 0 1 0-17 0M1039.6 460.8a8.5 8.5 0 1 0 17 0a8.5 8.5 0 1 0-17 0M1040.7 460.4a8.5 8.5 0 1 0 17 0a8.5 8.5 0 1 0-17 0M1041.8 459.7a8.5 8.5 0 1 0 17 0a8.5 8.5 0 1 0-17 0M1042.9 460.2a8.5 8.5 0 1 0 17 0a8.5 8.5 0 1 0-17 0M1044 459.1a8.5 8.5 0 1 0 17 0a8.5 8.5 0 1 0-17 0M1045.1 460.9a8.5 8.5 0 1 0 17 0a8.5 8.5 0 1 0-17 0M1046.2 460.1a8.5 8.5 0 1 0 17 0a8.5 8.5 0 1 0-17 0M1047.3 458.8a8.5 8.5 0 1 0 17 0a8.5 8.5 0 1 0-17 0M1048.4 460.2a8.5 8.5 0 1 0 17 0a8.5 8.5 0 1 0-17 0M1049.5 460a8.5 8.5 0 1 0 17 0a8.5 8.5 0 1 0-17 0M1050.6 460.6a8.5 8.5 0 1 0 17 0a8.5 8.5 0 1 0-17 0M1051.7 459.7a8.5 8.5 0 1 0 17 0a8.5 8.5 0 1 0-17 0M1052.8 459.6a8.5 8.5 0 1 0 17 0a8.5 8.5 0 1 0-17 0M1053.9 459.9a8.5 8.5 0 1 0 17 0a8.5 8.5 0 1 0-17 0M1055 459.1a8.5 8.5 0 1 0 17 0a8.5 8.5 0 1 0-17 0M1056.1 459.7a8.5 8.5 0 1 0 17 0a8.5 8.5 0 1 0-17 0M1057.2 461.2a8.5 8.5 0 1 0 17 0a8.5 8.5 0 1 0-17 0M1058.3 459.6a8.5 8.5 0 1 0 17 0a8.5 8.5 0 1 0-17 0M1059.4 460.7a8.5 8.5 0 1 0 17 0a8.5 8.5 0 1 0-17 0M1060.5 461.4a8.5 8.5 0 1 0 17 0a8.5 8.5 0 1 0-17 0M1061.6 460.1a8.5 8.5 0 1 0 17 0a8.5 8.5 0 1 0-17 0M1062.7 459.8a8.5 8.5 0 1 0 17 0a8.5 8.5 0 1 0-17 0M1063.8 461.8a8.5 8.5 0 1 0 17 0a8.5 8.5 0 1 0-17 0M1064.9 460.2a8.5 8.5 0 1 0 17 0a8.5 8.5 0 1 0-17 0M1066 461.7a8.5 8.5 0 1 0 17 0a8.5 8.5 0 1 0-17 0M1067.1 461.2a8.5 8.5 0 1 0 17 0a8.5 8.5 0 1 0-17 0M1068.2 460.2a8.5 8.5 0 1 0 17 0a8.5 8.5 0 1 0-17 0M1069.3 459.8a8.5 8.5 0 1 0 17 0a8.5 8.5 0 1 0-17 0M1070.4 459.9a8.5 8.5 0 1 0 17 0a8.5 8.5 0 1 0-17 0M1071.5 461.2a8.5 8.5 0 1 0 17 0a8.5 8.5 0 1 0-17 0M1072.6 461.2a8.5 8.5 0 1 0 17 0a8.5 8.5 0 1 0-17 0M1073.7 460.3a8.5 8.5 0 1 0 17 0a8.5 8.5 0 1 0-17 0M1074.8 460.9a8.5 8.5 0 1 0 17 0a8.5 8.5 0 1 0-17 0M1075.9 460a8.5 8.5 0 1 0 17 0a8.5 8.5 0 1 0-17 0M1077 461.4a8.5 8.5 0 1 0 17 0a8.5 8.5 0 1 0-17 0M1078.1 460.8a8.5 8.5 0 1 0 17 0a8.5 8.5 0 1 0-17 0M1079.2 459.5a8.5 8.5 0 1 0 17 0a8.5 8.5 0 1 0-17 0M1080.3 460.7a8.5 8.5 0 1 0 17 0a8.5 8.5 0 1 0-17 0M1081.4 461.4a8.5 8.5 0 1 0 17 0a8.5 8.5 0 1 0-17 0M1082.5 461.1a8.5 8.5 0 1 0 17 0a8.5 8.5 0 1 0-17 0M1083.6 460a8.5 8.5 0 1 0 17 0a8.5 8.5 0 1 0-17 0M1084.7 461.3a8.5 8.5 0 1 0 17 0a8.5 8.5 0 1 0-17 0M1085.8 461.2a8.5 8.5 0 1 0 17 0a8.5 8.5 0 1 0-17 0M1086.9 461.2a8.5 8.5 0 1 0 17 0a8.5 8.5 0 1 0-17 0M1088 461.5a8.5 8.5 0 1 0 17 0a8.5 8.5 0 1 0-17 0M1089.1 461a8.5 8.5 0 1 0 17 0a8.5 8.5 0 1 0-17 0M1090.2 461.1a8.5 8.5 0 1 0 17 0a8.5 8.5 0 1 0-17 0M1091.3 460a8.5 8.5 0 1 0 17 0a8.5 8.5 0 1 0-17 0M1092.4 460a8.5 8.5 0 1 0 17 0a8.5 8.5 0 1 0-17 0M1093.5 460.3a8.5 8.5 0 1 0 17 0a8.5 8.5 0 1 0-17 0M1094.6 459.3a8.5 8.5 0 1 0 17 0a8.5 8.5 0 1 0-17 0M1095.7 460.5a8.5 8.5 0 1 0 17 0a8.5 8.5 0 1 0-17 0M1096.8 459.1a8.5 8.5 0 1 0 17 0a8.5 8.5 0 1 0-17 0M1097.9 460.1a8.5 8.5 0 1 0 17 0a8.5 8.5 0 1 0-17 0M1099 460.7a8.5 8.5 0 1 0 17 0a8.5 8.5 0 1 0-17 0M1100.1 459.6a8.5 8.5 0 1 0 17 0a8.5 8.5 0 1 0-17 0M1101.2 460a8.5 8.5 0 1 0 17 0a8.5 8.5 0 1 0-17 0M1102.3 461.1a8.5 8.5 0 1 0 17 0a8.5 8.5 0 1 0-17 0M1103.4 459.9a8.5 8.5 0 1 0 17 0a8.5 8.5 0 1 0-17 0M1104.5 461.4a8.5 8.5 0 1 0 17 0a8.5 8.5 0 1 0-17 0M1105.6 460.2a8.5 8.5 0 1 0 17 0a8.5 8.5 0 1 0-17 0M1106.7 459.6a8.5 8.5 0 1 0 17 0a8.5 8.5 0 1 0-17 0M1107.8 460.8a8.5 8.5 0 1 0 17 0a8.5 8.5 0 1 0-17 0M1108.9 461.4a8.5 8.5 0 1 0 17 0a8.5 8.5 0 1 0-17 0M1110 461.5a8.5 8.5 0 1 0 17 0a8.5 8.5 0 1 0-17 0M1111.1 460.1a8.5 8.5 0 1 0 17 0a8.5 8.5 0 1 0-17 0M1112.2 461.3a8.5 8.5 0 1 0 17 0a8.5 8.5 0 1 0-17 0M1113.3 460.7a8.5 8.5 0 1 0 17 0a8.5 8.5 0 1 0-17 0M1114.4 460.4a8.5 8.5 0 1 0 17 0a8.5 8.5 0 1 0-17 0M1115.5 460.8a8.5 8.5 0 1 0 17 0a8.5 8.5 0 1 0-17 0M1116.6 461.4a8.5 8.5 0 1 0 17 0a8.5 8.5 0 1 0-17 0M1117.7 462.1a8.5 8.5 0 1 0 17 0a8.5 8.5 0 1 0-17 0M1118.8 462.1a8.5 8.5 0 1 0 17 0a8.5 8.5 0 1 0-17 0M1119.9 460.7a8.5 8.5 0 1 0 17 0a8.5 8.5 0 1 0-17 0M107.5 457.5a8.5 8.5 0 1 0 17 0a8.5 8.5 0 1 0-17 0M107.4 460.5a8.5 8.5 0 1 0 17 0a8.5 8.5 0 1 0-17 0M107.8 461.3a8.5 8.5 0 1 0 17 0a8.5 8.5 0 1 0-17 0M134.9 333.2a8.5 8.5 0 1 0 17 0a8.5 8.5 0 1 0-17 0M134.9 351.5a8.5 8.5 0 1 0 17 0a8.5 8.5 0 1 0-17 0M135.4 353.5a8.5 8.5 0 1 0 17 0a8.5 8.5 0 1 0-17 0M134.9 387.3a8.5 8.5 0 1 0 17 0a8.5 8.5 0 1 0-17 0M135.4 391.8a8.5 8.5 0 1 0 17 0a8.5 8.5 0 1 0-17 0M134.9 419a8.5 8.5 0 1 0 17 0a8.5 8.5 0 1 0-17 0M135.5 423.5a8.5 8.5 0 1 0 17 0a8.5 8.5 0 1 0-17 0M134.4 437a8.5 8.5 0 1 0 17 0a8.5 8.5 0 1 0-17 0M136.4 437a8.5 8.5 0 1 0 17 0a8.5 8.5 0 1 0-17 0M134.9 440a8.5 8.5 0 1 0 17 0a8.5 8.5 0 1 0-17 0M134.4 443a8.5 8.5 0 1 0 17 0a8.5 8.5 0 1 0-17 0M135.5 446a8.5 8.5 0 1 0 17 0a8.5 8.5 0 1 0-17 0M135 449a8.5 8.5 0 1 0 17 0a8.5 8.5 0 1 0-17 0M134 452a8.5 8.5 0 1 0 17 0a8.5 8.5 0 1 0-17 0M136 455a8.5 8.5 0 1 0 17 0a8.5 8.5 0 1 0-17 0M133.7 458a8.5 8.5 0 1 0 17 0a8.5 8.5 0 1 0-17 0M135.9 461a8.5 8.5 0 1 0 17 0a8.5 8.5 0 1 0-17 0M133.9 461.3a8.5 8.5 0 1 0 17 0a8.5 8.5 0 1 0-17 0M160 425a8.5 8.5 0 1 0 17 0a8.5 8.5 0 1 0-17 0M159.2 428a8.5 8.5 0 1 0 17 0a8.5 8.5 0 1 0-17 0M159.5 431a8.5 8.5 0 1 0 17 0a8.5 8.5 0 1 0-17 0M160.4 434a8.5 8.5 0 1 0 17 0a8.5 8.5 0 1 0-17 0M160.8 437a8.5 8.5 0 1 0 17 0a8.5 8.5 0 1 0-17 0M159.2 440a8.5 8.5 0 1 0 17 0a8.5 8.5 0 1 0-17 0M160 443a8.5 8.5 0 1 0 17 0a8.5 8.5 0 1 0-17 0M160 446a8.5 8.5 0 1 0 17 0a8.5 8.5 0 1 0-17 0M160.5 449a8.5 8.5 0 1 0 17 0a8.5 8.5 0 1 0-17 0M159.5 452a8.5 8.5 0 1 0 17 0a8.5 8.5 0 1 0-17 0M160 455a8.5 8.5 0 1 0 17 0a8.5 8.5 0 1 0-17 0M159.8 458a8.5 8.5 0 1 0 17 0a8.5 8.5 0 1 0-17 0M160.5 461a8.5 8.5 0 1 0 17 0a8.5 8.5 0 1 0-17 0M159.6 461.3a8.5 8.5 0 1 0 17 0a8.5 8.5 0 1 0-17 0M223.1 88.8a8.5 8.5 0 1 0 17 0a8.5 8.5 0 1 0-17 0M223 143a8.5 8.5 0 1 0 17 0a8.5 8.5 0 1 0-17 0M223 172.3a8.5 8.5 0 1 0 17 0a8.5 8.5 0 1 0-17 0M223.8 267a8.5 8.5 0 1 0 17 0a8.5 8.5 0 1 0-17 0M222.3 283a8.5 8.5 0 1 0 17 0a8.5 8.5 0 1 0-17 0M224.1 358.8a8.5 8.5 0 1 0 17 0a8.5 8.5 0 1 0-17 0M220.5 375.6a8.5 8.5 0 1 0 17 0a8.5 8.5 0 1 0-17 0M225.5 375.6a8.5 8.5 0 1 0 17 0a8.5 8.5 0 1 0-17 0M221 390a8.5 8.5 0 1 0 17 0a8.5 8.5 0 1 0-17 0M225.5 397.4a8.5 8.5 0 1 0 17 0a8.5 8.5 0 1 0-17 0M220.5 407.6a8.5 8.5 0 1 0 17 0a8.5 8.5 0 1 0-17 0M225.5 407.6a8.5 8.5 0 1 0 17 0a8.5 8.5 0 1 0-17 0M220.5 415a8.5 8.5 0 1 0 17 0a8.5 8.5 0 1 0-17 0M220.5 432.4a8.5 8.5 0 1 0 17 0a8.5 8.5 0 1 0-17 0M226.5 432.4a8.5 8.5 0 1 0 17 0a8.5 8.5 0 1 0-17 0M226.5 420a8.5 8.5 0 1 0 17 0a8.5 8.5 0 1 0-17 0M220 424a8.5 8.5 0 1 0 17 0a8.5 8.5 0 1 0-17 0M220.5 438a8.5 8.5 0 1 0 17 0a8.5 8.5 0 1 0-17 0M222.3 441a8.5 8.5 0 1 0 17 0a8.5 8.5 0 1 0-17 0M219.6 444a8.5 8.5 0 1 0 17 0a8.5 8.5 0 1 0-17 0M219.4 447a8.5 8.5 0 1 0 17 0a8.5 8.5 0 1 0-17 0M221.3 450a8.5 8.5 0 1 0 17 0a8.5 8.5 0 1 0-17 0M220.5 453a8.5 8.5 0 1 0 17 0a8.5 8.5 0 1 0-17 0M218.9 456a8.5 8.5 0 1 0 17 0a8.5 8.5 0 1 0-17 0M221 459a8.5 8.5 0 1 0 17 0a8.5 8.5 0 1 0-17 0M218.8 461.3a8.5 8.5 0 1 0 17 0a8.5 8.5 0 1 0-17 0M226 440a8.5 8.5 0 1 0 17 0a8.5 8.5 0 1 0-17 0M227.2 443a8.5 8.5 0 1 0 17 0a8.5 8.5 0 1 0-17 0M226.8 446a8.5 8.5 0 1 0 17 0a8.5 8.5 0 1 0-17 0M227.1 449a8.5 8.5 0 1 0 17 0a8.5 8.5 0 1 0-17 0M226.5 452a8.5 8.5 0 1 0 17 0a8.5 8.5 0 1 0-17 0M225.4 455a8.5 8.5 0 1 0 17 0a8.5 8.5 0 1 0-17 0M225.6 458a8.5 8.5 0 1 0 17 0a8.5 8.5 0 1 0-17 0M225.6 461a8.5 8.5 0 1 0 17 0a8.5 8.5 0 1 0-17 0M227.6 461.3a8.5 8.5 0 1 0 17 0a8.5 8.5 0 1 0-17 0M238.2 441a8.5 8.5 0 1 0 17 0a8.5 8.5 0 1 0-17 0M237.5 444a8.5 8.5 0 1 0 17 0a8.5 8.5 0 1 0-17 0M238.8 447a8.5 8.5 0 1 0 17 0a8.5 8.5 0 1 0-17 0M237.4 450a8.5 8.5 0 1 0 17 0a8.5 8.5 0 1 0-17 0M237.7 453a8.5 8.5 0 1 0 17 0a8.5 8.5 0 1 0-17 0M237.8 456a8.5 8.5 0 1 0 17 0a8.5 8.5 0 1 0-17 0M238.8 459a8.5 8.5 0 1 0 17 0a8.5 8.5 0 1 0-17 0M238.2 461.3a8.5 8.5 0 1 0 17 0a8.5 8.5 0 1 0-17 0M257.5 458a8.5 8.5 0 1 0 17 0a8.5 8.5 0 1 0-17 0M257.9 461a8.5 8.5 0 1 0 17 0a8.5 8.5 0 1 0-17 0M257.2 461.3a8.5 8.5 0 1 0 17 0a8.5 8.5 0 1 0-17 0M261.5 458.1a8.5 8.5 0 1 0 17 0a8.5 8.5 0 1 0-17 0M261.5 461.1a8.5 8.5 0 1 0 17 0a8.5 8.5 0 1 0-17 0M261.8 461.3a8.5 8.5 0 1 0 17 0a8.5 8.5 0 1 0-17 0M273.5 446a8.5 8.5 0 1 0 17 0a8.5 8.5 0 1 0-17 0M273.9 449a8.5 8.5 0 1 0 17 0a8.5 8.5 0 1 0-17 0M273.7 452a8.5 8.5 0 1 0 17 0a8.5 8.5 0 1 0-17 0M273.3 455a8.5 8.5 0 1 0 17 0a8.5 8.5 0 1 0-17 0M273.2 458a8.5 8.5 0 1 0 17 0a8.5 8.5 0 1 0-17 0M272.9 461a8.5 8.5 0 1 0 17 0a8.5 8.5 0 1 0-17 0M274 461.3a8.5 8.5 0 1 0 17 0a8.5 8.5 0 1 0-17 0M293 405a8.5 8.5 0 1 0 17 0a8.5 8.5 0 1 0-17 0M290.5 413.7a8.5 8.5 0 1 0 17 0a8.5 8.5 0 1 0-17 0M290.5 428.5a8.5 8.5 0 1 0 17 0a8.5 8.5 0 1 0-17 0M289 420a8.5 8.5 0 1 0 17 0a8.5 8.5 0 1 0-17 0M294.5 418a8.5 8.5 0 1 0 17 0a8.5 8.5 0 1 0-17 0M293.5 432a8.5 8.5 0 1 0 17 0a8.5 8.5 0 1 0-17 0M289 436a8.5 8.5 0 1 0 17 0a8.5 8.5 0 1 0-17 0M289.5 439a8.5 8.5 0 1 0 17 0a8.5 8.5 0 1 0-17 0M289.7 442a8.5 8.5 0 1 0 17 0a8.5 8.5 0 1 0-17 0M288 445a8.5 8.5 0 1 0 17 0a8.5 8.5 0 1 0-17 0M288.8 448a8.5 8.5 0 1 0 17 0a8.5 8.5 0 1 0-17 0M289.8 451a8.5 8.5 0 1 0 17 0a8.5 8.5 0 1 0-17 0M289.2 454a8.5 8.5 0 1 0 17 0a8.5 8.5 0 1 0-17 0M287.9 457a8.5 8.5 0 1 0 17 0a8.5 8.5 0 1 0-17 0M288.9 460a8.5 8.5 0 1 0 17 0a8.5 8.5 0 1 0-17 0M290.2 461.3a8.5 8.5 0 1 0 17 0a8.5 8.5 0 1 0-17 0M306.5 446a8.5 8.5 0 1 0 17 0a8.5 8.5 0 1 0-17 0M306.1 449a8.5 8.5 0 1 0 17 0a8.5 8.5 0 1 0-17 0M306 452a8.5 8.5 0 1 0 17 0a8.5 8.5 0 1 0-17 0M306.2 455a8.5 8.5 0 1 0 17 0a8.5 8.5 0 1 0-17 0M306.8 458a8.5 8.5 0 1 0 17 0a8.5 8.5 0 1 0-17 0M307 461a8.5 8.5 0 1 0 17 0a8.5 8.5 0 1 0-17 0M305.9 461.3a8.5 8.5 0 1 0 17 0a8.5 8.5 0 1 0-17 0M318.5 457.7a8.5 8.5 0 1 0 17 0a8.5 8.5 0 1 0-17 0M318.2 460.7a8.5 8.5 0 1 0 17 0a8.5 8.5 0 1 0-17 0M318.3 461.3a8.5 8.5 0 1 0 17 0a8.5 8.5 0 1 0-17 0M347.7 347a8.5 8.5 0 1 0 17 0a8.5 8.5 0 1 0-17 0M348.1 350.8a8.5 8.5 0 1 0 17 0a8.5 8.5 0 1 0-17 0M346.8 365.5a8.5 8.5 0 1 0 17 0a8.5 8.5 0 1 0-17 0M348 380a8.5 8.5 0 1 0 17 0a8.5 8.5 0 1 0-17 0M346.9 393.5a8.5 8.5 0 1 0 17 0a8.5 8.5 0 1 0-17 0M348.6 405.8a8.5 8.5 0 1 0 17 0a8.5 8.5 0 1 0-17 0M347.1 418.5a8.5 8.5 0 1 0 17 0a8.5 8.5 0 1 0-17 0M348.4 424.5a8.5 8.5 0 1 0 17 0a8.5 8.5 0 1 0-17 0M347.7 433a8.5 8.5 0 1 0 17 0a8.5 8.5 0 1 0-17 0M347.7 440a8.5 8.5 0 1 0 17 0a8.5 8.5 0 1 0-17 0M347.7 443a8.5 8.5 0 1 0 17 0a8.5 8.5 0 1 0-17 0M347 446a8.5 8.5 0 1 0 17 0a8.5 8.5 0 1 0-17 0M347.4 449a8.5 8.5 0 1 0 17 0a8.5 8.5 0 1 0-17 0M347.1 452a8.5 8.5 0 1 0 17 0a8.5 8.5 0 1 0-17 0M348.7 455a8.5 8.5 0 1 0 17 0a8.5 8.5 0 1 0-17 0M348.2 458a8.5 8.5 0 1 0 17 0a8.5 8.5 0 1 0-17 0M346.9 461a8.5 8.5 0 1 0 17 0a8.5 8.5 0 1 0-17 0M348.6 461.3a8.5 8.5 0 1 0 17 0a8.5 8.5 0 1 0-17 0M360.5 436a8.5 8.5 0 1 0 17 0a8.5 8.5 0 1 0-17 0M359.9 439a8.5 8.5 0 1 0 17 0a8.5 8.5 0 1 0-17 0M360.3 442a8.5 8.5 0 1 0 17 0a8.5 8.5 0 1 0-17 0M361.3 445a8.5 8.5 0 1 0 17 0a8.5 8.5 0 1 0-17 0M361 448a8.5 8.5 0 1 0 17 0a8.5 8.5 0 1 0-17 0M360.9 451a8.5 8.5 0 1 0 17 0a8.5 8.5 0 1 0-17 0M360.4 454a8.5 8.5 0 1 0 17 0a8.5 8.5 0 1 0-17 0M360 457a8.5 8.5 0 1 0 17 0a8.5 8.5 0 1 0-17 0M360.7 460a8.5 8.5 0 1 0 17 0a8.5 8.5 0 1 0-17 0M359.9 461.3a8.5 8.5 0 1 0 17 0a8.5 8.5 0 1 0-17 0M382.5 456.8a8.5 8.5 0 1 0 17 0a8.5 8.5 0 1 0-17 0M382.4 459.8a8.5 8.5 0 1 0 17 0a8.5 8.5 0 1 0-17 0M382 461.3a8.5 8.5 0 1 0 17 0a8.5 8.5 0 1 0-17 0M398 434a8.5 8.5 0 1 0 17 0a8.5 8.5 0 1 0-17 0M397.8 437a8.5 8.5 0 1 0 17 0a8.5 8.5 0 1 0-17 0M398.5 440a8.5 8.5 0 1 0 17 0a8.5 8.5 0 1 0-17 0M398.3 443a8.5 8.5 0 1 0 17 0a8.5 8.5 0 1 0-17 0M398 446a8.5 8.5 0 1 0 17 0a8.5 8.5 0 1 0-17 0M398.2 449a8.5 8.5 0 1 0 17 0a8.5 8.5 0 1 0-17 0M397.9 452a8.5 8.5 0 1 0 17 0a8.5 8.5 0 1 0-17 0M397.4 455a8.5 8.5 0 1 0 17 0a8.5 8.5 0 1 0-17 0M398.2 458a8.5 8.5 0 1 0 17 0a8.5 8.5 0 1 0-17 0M397.8 461a8.5 8.5 0 1 0 17 0a8.5 8.5 0 1 0-17 0M398.4 461.3a8.5 8.5 0 1 0 17 0a8.5 8.5 0 1 0-17 0M405.7 420.3a8.5 8.5 0 1 0 17 0a8.5 8.5 0 1 0-17 0M406.4 422.8a8.5 8.5 0 1 0 17 0a8.5 8.5 0 1 0-17 0M405.6 425.3a8.5 8.5 0 1 0 17 0a8.5 8.5 0 1 0-17 0M405.8 427.8a8.5 8.5 0 1 0 17 0a8.5 8.5 0 1 0-17 0M406.1 430.3a8.5 8.5 0 1 0 17 0a8.5 8.5 0 1 0-17 0M405.6 432.8a8.5 8.5 0 1 0 17 0a8.5 8.5 0 1 0-17 0M405.3 435.3a8.5 8.5 0 1 0 17 0a8.5 8.5 0 1 0-17 0M406.1 437.8a8.5 8.5 0 1 0 17 0a8.5 8.5 0 1 0-17 0M406.3 440.3a8.5 8.5 0 1 0 17 0a8.5 8.5 0 1 0-17 0M406.1 442.8a8.5 8.5 0 1 0 17 0a8.5 8.5 0 1 0-17 0M406 445.3a8.5 8.5 0 1 0 17 0a8.5 8.5 0 1 0-17 0M406.3 447.8a8.5 8.5 0 1 0 17 0a8.5 8.5 0 1 0-17 0M406 450.3a8.5 8.5 0 1 0 17 0a8.5 8.5 0 1 0-17 0M405.9 452.8a8.5 8.5 0 1 0 17 0a8.5 8.5 0 1 0-17 0M405.6 455.3a8.5 8.5 0 1 0 17 0a8.5 8.5 0 1 0-17 0M405.4 457.8a8.5 8.5 0 1 0 17 0a8.5 8.5 0 1 0-17 0M405.9 460.3a8.5 8.5 0 1 0 17 0a8.5 8.5 0 1 0-17 0M405.1 461.3a8.5 8.5 0 1 0 17 0a8.5 8.5 0 1 0-17 0M446.7 368.3a8.5 8.5 0 1 0 17 0a8.5 8.5 0 1 0-17 0M446.8 373.8a8.5 8.5 0 1 0 17 0a8.5 8.5 0 1 0-17 0M446.6 384.6a8.5 8.5 0 1 0 17 0a8.5 8.5 0 1 0-17 0M446.5 391.6a8.5 8.5 0 1 0 17 0a8.5 8.5 0 1 0-17 0M446.6 401.9a8.5 8.5 0 1 0 17 0a8.5 8.5 0 1 0-17 0M446.3 406a8.5 8.5 0 1 0 17 0a8.5 8.5 0 1 0-17 0M441.1 410.5a8.5 8.5 0 1 0 17 0a8.5 8.5 0 1 0-17 0M440.7 418a8.5 8.5 0 1 0 17 0a8.5 8.5 0 1 0-17 0M447.5 421a8.5 8.5 0 1 0 17 0a8.5 8.5 0 1 0-17 0M447.7 428a8.5 8.5 0 1 0 17 0a8.5 8.5 0 1 0-17 0M440.5 429a8.5 8.5 0 1 0 17 0a8.5 8.5 0 1 0-17 0M447.1 435.5a8.5 8.5 0 1 0 17 0a8.5 8.5 0 1 0-17 0M440.7 440a8.5 8.5 0 1 0 17 0a8.5 8.5 0 1 0-17 0M446.5 444a8.5 8.5 0 1 0 17 0a8.5 8.5 0 1 0-17 0M454 452.5a8.5 8.5 0 1 0 17 0a8.5 8.5 0 1 0-17 0M452.5 447a8.5 8.5 0 1 0 17 0a8.5 8.5 0 1 0-17 0M443.5 444a8.5 8.5 0 1 0 17 0a8.5 8.5 0 1 0-17 0M443.1 447a8.5 8.5 0 1 0 17 0a8.5 8.5 0 1 0-17 0M444.9 450a8.5 8.5 0 1 0 17 0a8.5 8.5 0 1 0-17 0M444.6 453a8.5 8.5 0 1 0 17 0a8.5 8.5 0 1 0-17 0M444.1 456a8.5 8.5 0 1 0 17 0a8.5 8.5 0 1 0-17 0M442.3 459a8.5 8.5 0 1 0 17 0a8.5 8.5 0 1 0-17 0M443.1 461.3a8.5 8.5 0 1 0 17 0a8.5 8.5 0 1 0-17 0M492.3 440a8.5 8.5 0 1 0 17 0a8.5 8.5 0 1 0-17 0M492.2 443a8.5 8.5 0 1 0 17 0a8.5 8.5 0 1 0-17 0M492.5 446a8.5 8.5 0 1 0 17 0a8.5 8.5 0 1 0-17 0M492.2 449a8.5 8.5 0 1 0 17 0a8.5 8.5 0 1 0-17 0M492.6 452a8.5 8.5 0 1 0 17 0a8.5 8.5 0 1 0-17 0M493 455a8.5 8.5 0 1 0 17 0a8.5 8.5 0 1 0-17 0M491.8 458a8.5 8.5 0 1 0 17 0a8.5 8.5 0 1 0-17 0M492.5 461a8.5 8.5 0 1 0 17 0a8.5 8.5 0 1 0-17 0M492.7 461.3a8.5 8.5 0 1 0 17 0a8.5 8.5 0 1 0-17 0M524.9 413.4a8.5 8.5 0 1 0 17 0a8.5 8.5 0 1 0-17 0M524.7 415.9a8.5 8.5 0 1 0 17 0a8.5 8.5 0 1 0-17 0M524.9 418.4a8.5 8.5 0 1 0 17 0a8.5 8.5 0 1 0-17 0M525.7 420.9a8.5 8.5 0 1 0 17 0a8.5 8.5 0 1 0-17 0M524.2 423.4a8.5 8.5 0 1 0 17 0a8.5 8.5 0 1 0-17 0M525 425.9a8.5 8.5 0 1 0 17 0a8.5 8.5 0 1 0-17 0M524.4 428.4a8.5 8.5 0 1 0 17 0a8.5 8.5 0 1 0-17 0M525.4 430.9a8.5 8.5 0 1 0 17 0a8.5 8.5 0 1 0-17 0M525.6 433.4a8.5 8.5 0 1 0 17 0a8.5 8.5 0 1 0-17 0M524.9 435.9a8.5 8.5 0 1 0 17 0a8.5 8.5 0 1 0-17 0M524.3 438.4a8.5 8.5 0 1 0 17 0a8.5 8.5 0 1 0-17 0M525 440.9a8.5 8.5 0 1 0 17 0a8.5 8.5 0 1 0-17 0M525 443.4a8.5 8.5 0 1 0 17 0a8.5 8.5 0 1 0-17 0M525.2 445.9a8.5 8.5 0 1 0 17 0a8.5 8.5 0 1 0-17 0M524.9 448.4a8.5 8.5 0 1 0 17 0a8.5 8.5 0 1 0-17 0M525.1 450.9a8.5 8.5 0 1 0 17 0a8.5 8.5 0 1 0-17 0M525.4 453.4a8.5 8.5 0 1 0 17 0a8.5 8.5 0 1 0-17 0M524.9 455.9a8.5 8.5 0 1 0 17 0a8.5 8.5 0 1 0-17 0M524.8 458.4a8.5 8.5 0 1 0 17 0a8.5 8.5 0 1 0-17 0M525.6 460.9a8.5 8.5 0 1 0 17 0a8.5 8.5 0 1 0-17 0M524.4 461.3a8.5 8.5 0 1 0 17 0a8.5 8.5 0 1 0-17 0M530.9 447a8.5 8.5 0 1 0 17 0a8.5 8.5 0 1 0-17 0M532.5 449.5a8.5 8.5 0 1 0 17 0a8.5 8.5 0 1 0-17 0M519 452a8.5 8.5 0 1 0 17 0a8.5 8.5 0 1 0-17 0M521 449a8.5 8.5 0 1 0 17 0a8.5 8.5 0 1 0-17 0M601 437a8.5 8.5 0 1 0 17 0a8.5 8.5 0 1 0-17 0M602.5 441a8.5 8.5 0 1 0 17 0a8.5 8.5 0 1 0-17 0M565.7 451.6a8.5 8.5 0 1 0 17 0a8.5 8.5 0 1 0-17 0M565.6 454.6a8.5 8.5 0 1 0 17 0a8.5 8.5 0 1 0-17 0M566 457.6a8.5 8.5 0 1 0 17 0a8.5 8.5 0 1 0-17 0M565.3 460.6a8.5 8.5 0 1 0 17 0a8.5 8.5 0 1 0-17 0M566.2 461.3a8.5 8.5 0 1 0 17 0a8.5 8.5 0 1 0-17 0M570 451.2a8.5 8.5 0 1 0 17 0a8.5 8.5 0 1 0-17 0M569.6 454.2a8.5 8.5 0 1 0 17 0a8.5 8.5 0 1 0-17 0M569.8 457.2a8.5 8.5 0 1 0 17 0a8.5 8.5 0 1 0-17 0M569.9 460.2a8.5 8.5 0 1 0 17 0a8.5 8.5 0 1 0-17 0M569.5 461.3a8.5 8.5 0 1 0 17 0a8.5 8.5 0 1 0-17 0M597.1 424.6a8.5 8.5 0 1 0 17 0a8.5 8.5 0 1 0-17 0M597 427.1a8.5 8.5 0 1 0 17 0a8.5 8.5 0 1 0-17 0M597 429.6a8.5 8.5 0 1 0 17 0a8.5 8.5 0 1 0-17 0M597.4 432.1a8.5 8.5 0 1 0 17 0a8.5 8.5 0 1 0-17 0M596.9 434.6a8.5 8.5 0 1 0 17 0a8.5 8.5 0 1 0-17 0M596.7 437.1a8.5 8.5 0 1 0 17 0a8.5 8.5 0 1 0-17 0M596.7 439.6a8.5 8.5 0 1 0 17 0a8.5 8.5 0 1 0-17 0M597.5 442.1a8.5 8.5 0 1 0 17 0a8.5 8.5 0 1 0-17 0M597.8 444.6a8.5 8.5 0 1 0 17 0a8.5 8.5 0 1 0-17 0M597.1 447.1a8.5 8.5 0 1 0 17 0a8.5 8.5 0 1 0-17 0M596.7 449.6a8.5 8.5 0 1 0 17 0a8.5 8.5 0 1 0-17 0M597.6 452.1a8.5 8.5 0 1 0 17 0a8.5 8.5 0 1 0-17 0M596.9 454.6a8.5 8.5 0 1 0 17 0a8.5 8.5 0 1 0-17 0M596.6 457.1a8.5 8.5 0 1 0 17 0a8.5 8.5 0 1 0-17 0M596.5 459.6a8.5 8.5 0 1 0 17 0a8.5 8.5 0 1 0-17 0M597.5 461.3a8.5 8.5 0 1 0 17 0a8.5 8.5 0 1 0-17 0M635.9 448.5a8.5 8.5 0 1 0 17 0a8.5 8.5 0 1 0-17 0M636.4 451.5a8.5 8.5 0 1 0 17 0a8.5 8.5 0 1 0-17 0M636.1 454.5a8.5 8.5 0 1 0 17 0a8.5 8.5 0 1 0-17 0M635.9 457.5a8.5 8.5 0 1 0 17 0a8.5 8.5 0 1 0-17 0M636 460.5a8.5 8.5 0 1 0 17 0a8.5 8.5 0 1 0-17 0M635.5 461.3a8.5 8.5 0 1 0 17 0a8.5 8.5 0 1 0-17 0M666 445a8.5 8.5 0 1 0 17 0a8.5 8.5 0 1 0-17 0M666.7 448a8.5 8.5 0 1 0 17 0a8.5 8.5 0 1 0-17 0M665.8 451a8.5 8.5 0 1 0 17 0a8.5 8.5 0 1 0-17 0M666.2 454a8.5 8.5 0 1 0 17 0a8.5 8.5 0 1 0-17 0M666.5 457a8.5 8.5 0 1 0 17 0a8.5 8.5 0 1 0-17 0M666.5 460a8.5 8.5 0 1 0 17 0a8.5 8.5 0 1 0-17 0M665.9 461.3a8.5 8.5 0 1 0 17 0a8.5 8.5 0 1 0-17 0M692.5 444a8.5 8.5 0 1 0 17 0a8.5 8.5 0 1 0-17 0M692.2 447a8.5 8.5 0 1 0 17 0a8.5 8.5 0 1 0-17 0M692.6 450a8.5 8.5 0 1 0 17 0a8.5 8.5 0 1 0-17 0M691.9 453a8.5 8.5 0 1 0 17 0a8.5 8.5 0 1 0-17 0M693 456a8.5 8.5 0 1 0 17 0a8.5 8.5 0 1 0-17 0M692.3 459a8.5 8.5 0 1 0 17 0a8.5 8.5 0 1 0-17 0M693.1 461.3a8.5 8.5 0 1 0 17 0a8.5 8.5 0 1 0-17 0M725 430a8.5 8.5 0 1 0 17 0a8.5 8.5 0 1 0-17 0M724.6 432.5a8.5 8.5 0 1 0 17 0a8.5 8.5 0 1 0-17 0M724.8 435a8.5 8.5 0 1 0 17 0a8.5 8.5 0 1 0-17 0M724.6 437.5a8.5 8.5 0 1 0 17 0a8.5 8.5 0 1 0-17 0M724.9 440a8.5 8.5 0 1 0 17 0a8.5 8.5 0 1 0-17 0M724.5 442.5a8.5 8.5 0 1 0 17 0a8.5 8.5 0 1 0-17 0M724.2 445a8.5 8.5 0 1 0 17 0a8.5 8.5 0 1 0-17 0M725.4 447.5a8.5 8.5 0 1 0 17 0a8.5 8.5 0 1 0-17 0M724.6 450a8.5 8.5 0 1 0 17 0a8.5 8.5 0 1 0-17 0M724.6 452.5a8.5 8.5 0 1 0 17 0a8.5 8.5 0 1 0-17 0M724.7 455a8.5 8.5 0 1 0 17 0a8.5 8.5 0 1 0-17 0M725 457.5a8.5 8.5 0 1 0 17 0a8.5 8.5 0 1 0-17 0M724.9 460a8.5 8.5 0 1 0 17 0a8.5 8.5 0 1 0-17 0M725.2 461.3a8.5 8.5 0 1 0 17 0a8.5 8.5 0 1 0-17 0M719 447.5a8.5 8.5 0 1 0 17 0a8.5 8.5 0 1 0-17 0M720.7 444a8.5 8.5 0 1 0 17 0a8.5 8.5 0 1 0-17 0M730 448a8.5 8.5 0 1 0 17 0a8.5 8.5 0 1 0-17 0M728.5 444a8.5 8.5 0 1 0 17 0a8.5 8.5 0 1 0-17 0M750.5 451a8.5 8.5 0 1 0 17 0a8.5 8.5 0 1 0-17 0M750.8 454a8.5 8.5 0 1 0 17 0a8.5 8.5 0 1 0-17 0M750.3 457a8.5 8.5 0 1 0 17 0a8.5 8.5 0 1 0-17 0M751.2 460a8.5 8.5 0 1 0 17 0a8.5 8.5 0 1 0-17 0M751.1 461.3a8.5 8.5 0 1 0 17 0a8.5 8.5 0 1 0-17 0M784.3 453.8a8.5 8.5 0 1 0 17 0a8.5 8.5 0 1 0-17 0M784.6 456.8a8.5 8.5 0 1 0 17 0a8.5 8.5 0 1 0-17 0M784.7 459.8a8.5 8.5 0 1 0 17 0a8.5 8.5 0 1 0-17 0M784.6 461.3a8.5 8.5 0 1 0 17 0a8.5 8.5 0 1 0-17 0M806.9 453.3a8.5 8.5 0 1 0 17 0a8.5 8.5 0 1 0-17 0M807.2 456.3a8.5 8.5 0 1 0 17 0a8.5 8.5 0 1 0-17 0M807 459.3a8.5 8.5 0 1 0 17 0a8.5 8.5 0 1 0-17 0M806.4 461.3a8.5 8.5 0 1 0 17 0a8.5 8.5 0 1 0-17 0M831.8 447.7a8.5 8.5 0 1 0 17 0a8.5 8.5 0 1 0-17 0M831 450.7a8.5 8.5 0 1 0 17 0a8.5 8.5 0 1 0-17 0M832.5 453.7a8.5 8.5 0 1 0 17 0a8.5 8.5 0 1 0-17 0M832 456.7a8.5 8.5 0 1 0 17 0a8.5 8.5 0 1 0-17 0M831.4 459.7a8.5 8.5 0 1 0 17 0a8.5 8.5 0 1 0-17 0M831.2 461.3a8.5 8.5 0 1 0 17 0a8.5 8.5 0 1 0-17 0M857.5 453.6a8.5 8.5 0 1 0 17 0a8.5 8.5 0 1 0-17 0M856.9 456.6a8.5 8.5 0 1 0 17 0a8.5 8.5 0 1 0-17 0M857.1 459.6a8.5 8.5 0 1 0 17 0a8.5 8.5 0 1 0-17 0M857.9 461.3a8.5 8.5 0 1 0 17 0a8.5 8.5 0 1 0-17 0M877.5 453a8.5 8.5 0 1 0 17 0a8.5 8.5 0 1 0-17 0M877.2 456a8.5 8.5 0 1 0 17 0a8.5 8.5 0 1 0-17 0M877.9 459a8.5 8.5 0 1 0 17 0a8.5 8.5 0 1 0-17 0M877.8 461.3a8.5 8.5 0 1 0 17 0a8.5 8.5 0 1 0-17 0M882.5 452.7a8.5 8.5 0 1 0 17 0a8.5 8.5 0 1 0-17 0M882.9 455.7a8.5 8.5 0 1 0 17 0a8.5 8.5 0 1 0-17 0M882.6 458.7a8.5 8.5 0 1 0 17 0a8.5 8.5 0 1 0-17 0M882.8 461.3a8.5 8.5 0 1 0 17 0a8.5 8.5 0 1 0-17 0M911.5 458.4a8.5 8.5 0 1 0 17 0a8.5 8.5 0 1 0-17 0M911.9 461.3a8.5 8.5 0 1 0 17 0a8.5 8.5 0 1 0-17 0M935.5 449.4a8.5 8.5 0 1 0 17 0a8.5 8.5 0 1 0-17 0M936 452.4a8.5 8.5 0 1 0 17 0a8.5 8.5 0 1 0-17 0M936 455.4a8.5 8.5 0 1 0 17 0a8.5 8.5 0 1 0-17 0M935 458.4a8.5 8.5 0 1 0 17 0a8.5 8.5 0 1 0-17 0M935.8 461.3a8.5 8.5 0 1 0 17 0a8.5 8.5 0 1 0-17 0M954.5 458.2a8.5 8.5 0 1 0 17 0a8.5 8.5 0 1 0-17 0M954.7 461.2a8.5 8.5 0 1 0 17 0a8.5 8.5 0 1 0-17 0M954.4 461.3a8.5 8.5 0 1 0 17 0a8.5 8.5 0 1 0-17 0M981.5 457.6a8.5 8.5 0 1 0 17 0a8.5 8.5 0 1 0-17 0M981.6 460.6a8.5 8.5 0 1 0 17 0a8.5 8.5 0 1 0-17 0M981.3 461.3a8.5 8.5 0 1 0 17 0a8.5 8.5 0 1 0-17 0M1002.2 457.4a8.5 8.5 0 1 0 17 0a8.5 8.5 0 1 0-17 0M1001.8 460.4a8.5 8.5 0 1 0 17 0a8.5 8.5 0 1 0-17 0M1002.2 461.3a8.5 8.5 0 1 0 17 0a8.5 8.5 0 1 0-17 0M1020.5 453.2a8.5 8.5 0 1 0 17 0a8.5 8.5 0 1 0-17 0M1020.5 456.2a8.5 8.5 0 1 0 17 0a8.5 8.5 0 1 0-17 0M1020.1 459.2a8.5 8.5 0 1 0 17 0a8.5 8.5 0 1 0-17 0M1020.5 461.3a8.5 8.5 0 1 0 17 0a8.5 8.5 0 1 0-17 0M1025.5 453.7a8.5 8.5 0 1 0 17 0a8.5 8.5 0 1 0-17 0M1025.5 456.7a8.5 8.5 0 1 0 17 0a8.5 8.5 0 1 0-17 0M1025.9 459.7a8.5 8.5 0 1 0 17 0a8.5 8.5 0 1 0-17 0M1025 461.3a8.5 8.5 0 1 0 17 0a8.5 8.5 0 1 0-17 0M1108.5 457.1a8.5 8.5 0 1 0 17 0a8.5 8.5 0 1 0-17 0M1108.5 460.1a8.5 8.5 0 1 0 17 0a8.5 8.5 0 1 0-17 0M1108.6 461.3a8.5 8.5 0 1 0 17 0a8.5 8.5 0 1 0-17 0" fill="none" stroke="#ff0000" stroke-width="5.3"/>
<path d="M51.7 461 113.2 460.9 114.2 460.8 114.7 460.5 116 457.4 117.2 460.4 117.7 460.8 118.2 460.9 128.2 460.9 136.2 460.7 139.2 460.3 140.2 459.8 140.7 459.3 141.2 458.5 141.7 456.7 142.2 448.6 142.3 442.2 143.4 341.7 144.2 423.7 144.6 448.6 145.2 457.2 145.7 458.7 146.2 459.4 147.2 460.1 149.2 460.6 152.7 460.8 159.2 460.9 164.7 460.6 166.2 460 166.7 459.3 167.2 456.2 167.4 452.2 168.2 429.2 168.5 424.5 169.7 454.9 170.2 459 170.7 459.9 171.2 460.3 173.7 460.8 179.7 460.9 209.2 460.9 218.7 460.6 219.3 460.5 226 454.5 226.9 433 227.8 372.8 228.6 433 229.5 372.8 230.4 433 231.3 372.8 232 91.2 232.7 372.8 233.5 415 234.4 365 235.1 432 236.2 452 238 459 240.5 460.4 243.7 460.5 244.7 460.3 245.2 459.8 245.5 458.8 245.8 456.3 246.7 442 247.7 457.4 248.2 459.9 248.7 460.4 250.2 460.7 252.7 460.8 265.7 460.9 266.7 460.5 268 458.5 269.2 460.4 270.2 460.9 280.2 460.9 283.2 460.6 283.7 460 283.9 459.1 285 449.3 285.9 458.1 286.2 459.7 286.7 460.5 288.2 460.8 291.2 460.7 293.2 460.4 294.2 459.9 294.7 459.2 295.2 456.2 295.4 453.8 296.4 416.2 297.2 446.8 297.6 456 298.2 459.1 298.7 459.4 299.2 459.3 299.7 458.7 300.2 455.4 300.4 452.7 301.4 410 302.4 452.8 302.7 456.8 303.2 459.3 303.7 459.9 305.2 460.5 307.2 460.7 311.2 460.8 312.7 460.4 313.2 459.7 313.4 458.5 314.5 445.3 315.6 458.5 315.7 459.3 316.2 460.4 316.7 460.6 320.2 460.9 325.2 460.7 325.8 460.2 326.7 458.3 327 458 327.3 458.3 328.2 460.2 328.7 460.7 329.7 460.9 348.7 460.8 351.7 460.4 353.2 459.6 353.7 459 354.2 457.9 354.7 454 354.9 449.4 356.1 349 357.3 449.3 357.7 456.3 358.2 458.4 359.2 459.7 360.2 460.2 361.2 460.5 365.2 460.6 366.7 460.3 367.2 459.9 367.6 458.4 367.9 455.1 368.6 437.7 368.8 436.5 368.9 437.7 369.1 431.8 369.9 448.7 370.2 451.3 370.7 452.5 371.7 453.7 373.7 455.4 381.2 460.9 384.2 460.8 385.2 459.5 386.2 460.8 387.7 460.9 389.2 460.7 389.7 460.3 390.7 458.7 391 458.5 392.2 460.4 393.2 460.8 394.7 460.8 395.4 460.5 396.7 460.9 399.2 460.8 399.7 460.7 400.5 459.9 401.2 460.6 401.7 460.8 403.7 460.6 404.7 460.2 405.2 459.5 405.7 456 406.7 434.1 407.6 454.4 407.9 457.9 408.2 459.3 408.7 459.8 409.3 459.2 409.7 456.8 410.5 448.5 411.4 457.3 411.7 458.9 412.2 459.3 412.7 458.2 413.1 454.5 414.1 421.3 415.1 454.6 415.7 459.2 416.2 459.9 417.1 459.8 418.2 460.6 418.7 460.6 419.2 460.6 419.7 460.3 420.7 458.7 421.5 455.6 422.4 459.6 422.7 460.3 423.2 460.7 426.2 460.8 427.1 459.8 428.2 460.8 428.7 460.9 431.7 460.9 432.6 460.5 434.2 460.9 434.7 460.8 435.7 460 436.7 460.8 437.2 460.9 438.2 460.8 438.9 460.5 439.7 460.7 441.2 460.7 442.9 460.2 444.2 460.1 444.7 460.8 447 455.5 448.7 411.2 449.6 440 450.5 420 451.4 440 452.3 420 452.8 450.5 455.4 366.3 456.6 400 457.4 450 459.5 459.5 461.8 459 463 452.3 464.2 459.8 466 460.8 468.2 460.8 468.7 460.5 469.4 459.4 470.2 460.6 470.7 460.8 471.7 460.9 475.2 460.9 475.7 460.6 476.4 459.6 477.2 460.7 477.7 460.9 478.7 460.9 481.2 460.9 482.2 460.3 483.2 460.9 483.7 460.9 485.2 460.9 486.2 460.3 487.2 460.9 488.2 460.9 488.7 460.6 489.4 459.7 490.2 460.7 491.2 460.9 492.7 460.9 493.2 460.7 494 459.6 494.7 460.4 495.2 460.7 496.7 460.4 497.7 460 499.2 458.8 499.6 457.6 500.8 441 501.9 456.6 502.2 458.5 502.7 459.3 503.2 459.6 506.2 460.7 507.2 460.8 507.7 460.8 508.2 460.4 508.8 459.5 509.7 460.7 510.2 460.9 512.2 460.9 512.7 460.8 513.7 459.4 514.7 460.8 515.2 460.9 517.2 460.9 518.3 460.6 519.7 460.9 522.7 460.7 523.8 459.7 524.7 460.2 525.3 459.8 526.5 454.7 527.2 458.2 527.7 459.3 528.7 459.8 529.7 459.4 530.7 458.5 531.7 456.6 532.2 453.2 533.4 416.1 534.5 449.4 534.7 452.5 535.2 454.2 536.2 454.7 537.2 455 537.7 454.9 538.4 453.6 539.1 449.1 539.4 448.3 540.5 456 541.2 458.4 543.2 460.1 543.7 460.4 544.7 460.4 545.5 459.7 546.2 460.6 547.2 460.9 548.2 460.8 549.2 460 550.2 460.9 550.7 460.9 552.7 460.9 554 460.5 555.2 460.9 558.7 460.9 559.9 460.5 560.7 460.8 562.2 460.8 564.2 460.6 565.5 460.2 566.7 460.2 569.2 459.5 570.2 458.8 571.7 458.3 572.2 457.5 573.4 450 574.5 456.4 574.7 457.1 575.2 457.6 576.7 457.7 577.3 457.2 577.7 455.5 578.5 450 579.7 457.8 581.2 459.2 582.2 459.7 585.2 460.5 586.2 460.6 587 460.4 587.7 460.7 589.2 460.9 590.7 460.7 591.6 459.6 592.2 460.5 592.7 460.8 593.2 460.9 596.2 460.9 597.1 460.6 598.7 460.8 600.2 460.5 601.2 460.1 602.2 459.3 603.2 458 604.1 455.6 604.4 453.7 605.6 425 606.5 447.4 606.8 451.3 607.2 452.9 607.7 452.9 608.2 450.9 609.3 435.8 610.4 453.3 610.7 455.6 611.2 456.8 611.7 457.5 613.2 458.9 613.7 458.8 615 454.6 615.3 455.3 616 458.8 616.7 460.1 617.7 460.5 619.7 460.8 620.2 460.8 621.1 460.4 622.2 460.9 625.2 460.9 625.7 460.8 626.5 460.2 627.7 460.9 629.7 460.9 630.2 460.8 631.3 459.5 632.2 460.8 632.7 460.9 635.2 460.9 636.2 460 637.2 460.8 637.7 460.9 639.7 460.7 641.7 460.2 642.7 459.2 643.2 458 644.4 448.3 645.6 458 646.2 459.4 647.2 460.2 649.7 460.8 651.7 460.8 652.6 460.4 653.7 460.9 654.7 460.9 655.2 460.9 655.7 460.5 656.3 459.7 657.2 460.8 657.7 460.9 662.2 460.8 663.1 460.4 663.7 460.4 664 460.1 665 456 666.2 460.4 666.7 460.8 668.7 460.8 669.2 460.4 669.9 459.6 670.7 460.2 671.2 460.3 672.7 459.5 673.3 458.3 674.5 445 675.5 457.2 676.2 459.4 676.7 459.8 677.7 460.2 679.7 460.4 680.1 459.6 681 456 681.9 459.8 682.2 460.4 682.7 460.8 684.7 460.8 685.6 460.4 686.2 460.8 687.2 460.9 690.2 460.9 691.4 460.4 692.7 460.9 696.2 460.7 697.7 459.9 698.7 459.6 699.2 459.3 699.7 458.3 700.1 455.4 701 442 702 456.6 702.7 459.1 703.2 459.6 705.2 460.5 706.2 460.6 706.7 460.5 707.1 460 707.7 457.9 708 457.5 708.9 460.2 709.2 460.6 709.7 460.8 710.7 460.8 711.6 460 712.7 460.9 716.7 460.9 717.2 460.8 718.1 459.9 719.2 460.9 720.7 460.9 721.2 460.8 722.2 459.5 723.2 460.7 724.7 460.6 726 459.9 726.7 459.8 727.2 459.1 728.4 451 729.2 456.4 729.6 457.8 730.1 457.9 730.7 457.6 731.7 456.3 732.2 454.6 732.5 452.4 733.5 430.7 734.4 449.2 734.7 452.5 735.2 454.1 736.2 454.8 736.7 454.1 737.8 443.5 738.7 454.8 739.2 457.7 739.7 458.6 740.7 459.5 742.7 460.6 744.2 460.8 746.7 460.8 747.2 460.5 747.9 459.4 748.7 460.6 749.2 460.9 752.2 460.8 752.7 460.7 753.5 459.8 754.2 460.4 754.7 460.5 756.2 460 756.7 459.5 757.2 458.4 758.5 451.2 759 450 759.5 451.4 760.7 458.1 761.2 459.3 762.7 460.3 763.7 460.6 764.7 460.6 765.2 460.4 766.7 458.6 767 458.5 768.6 459.8 769.2 460.5 770.2 460.9 774.2 460.9 775.5 460.6 776.7 460.9 778.7 460.9 780.2 460.7 781 460.1 782.2 460.6 784.7 460.2 787.7 459 788.7 457.8 789.9 455.6 790.3 455.5 791.2 456.2 791.7 455.9 792.5 454.2 793 453.8 793.6 454.6 794.7 457.5 795.2 458.2 796.2 458.8 798.2 459.5 799.1 459.5 800.2 460 802.7 460.5 804.7 460.6 805.7 459.7 806.7 460.6 808.7 460.6 810.7 460.1 811.5 459.5 812.7 459.2 813.2 458.8 814.2 456.9 815.1 453.8 815.6 453 816 453.5 817.2 456.4 817.7 456.7 818.6 455.4 819.4 453.5 819.7 453 820.2 453.7 821.2 457.1 821.7 458.3 822.2 458.8 822.8 458.8 823.7 458 824 458 825.7 460.2 827.2 460.7 829.2 460.8 830.4 460.2 831.2 460.7 831.7 460.8 834.7 460.7 835.7 460.5 836.6 459.6 837.2 459.8 837.7 459.6 838.2 458.8 838.7 457.2 839.9 450 840.3 448.6 840.7 449.5 841.7 455 842.2 456.2 842.7 455.8 843.5 452.7 844 452 844.5 453.1 845.7 458.4 846.2 459.3 847.2 460.2 847.7 460.5 850.2 460.8 851.9 460.6 853.2 460.9 856.2 460.8 856.7 460.5 857.4 459.4 858.2 460.6 858.7 460.8 860.7 460.8 862.7 460.5 863.2 460.3 864.2 459.1 864.7 457.9 865.5 454.8 866 454 866.5 454.8 867.7 459 869.2 460.4 871.2 460.8 872.7 460.8 873.8 460.1 874.7 460.8 875.7 460.9 878.7 460.8 880.2 460.3 881.2 460.4 882.2 460.1 883.2 459.7 884.2 458.8 886 455 886.3 455.1 887.2 456.3 887.7 456.2 888.7 454.4 889 454.3 889.5 455 890.7 458.2 891.2 458.7 892.2 459.5 893.2 460 894.7 460.3 895.5 459.8 896.2 460.5 897.2 460.8 899.2 460.9 899.7 460.7 900.5 459.9 901.2 460.7 902.2 460.9 906.2 460.9 907.1 460.4 908.2 460.9 908.7 460.9 909.2 460.9 910.2 460.3 911.2 460.9 911.7 460.9 914.7 460.9 915.9 460.4 917.2 460.8 918.2 460.4 919.9 458 920.3 458.3 921.7 460.4 922.7 460.8 924.2 460.8 925.2 460.1 926.2 460.9 926.7 460.9 930.7 460.9 931.8 460.3 932.7 460.9 933.2 460.9 936.2 460.9 937.5 460.4 938.7 460.7 940.7 460.3 941.2 460 941.7 459.3 942.7 455.9 943.5 450.8 944 449.5 944.5 450.8 945.7 457.9 946.2 459.3 946.7 459.9 947.7 460.3 948.2 460.2 948.8 459.6 949.7 460.6 950.7 460.8 952.2 460.9 952.7 460.6 953.4 459.9 954.2 460.7 954.7 460.9 956.7 460.9 957.6 460.5 958.7 460.8 959.7 460.7 960.2 460.4 961.7 458.2 962.1 458 962.6 458.4 963.7 460.3 964.7 460.8 967.7 460.9 968.2 460.7 969 459.8 969.7 460.6 970.7 460.9 974.7 460.9 975.8 460.3 976.7 460.9 978.2 460.9 978.7 460.8 979.5 460.1 980.7 460.9 982.7 460.9 983.6 460.4 984.7 460.9 986.7 460.9 987.7 460.5 988.7 459.4 989.5 457.9 990 457.5 990.5 457.9 991.7 460.2 992.2 460.6 993.2 460.3 994.2 460.8 994.7 460.9 998.2 460.9 998.7 460.7 999.6 459.4 1000.7 460.8 1003.2 460.9 1004.4 460.6 1005.2 460.9 1006.2 460.9 1006.7 460.7 1007.5 459.6 1008.2 460.1 1008.7 459.8 1009.7 458.2 1010.1 458 1010.6 458.4 1011.7 460.3 1012.7 460.8 1014.7 460.9 1016 460.3 1017.2 460.9 1020.7 460.9 1022.1 460.5 1023.2 460.6 1024.2 460.5 1026.7 459.5 1027.7 458 1028.8 455.1 1029.2 455.1 1030.2 456.2 1030.7 456.1 1031.7 454.1 1032 453.8 1032.3 454 1032.6 454.5 1033.7 457.3 1034.2 457.9 1034.7 458.2 1035.9 458.1 1036.7 458.2 1037.2 458 1038.5 455.8 1039 455.5 1039.3 455.8 1040.7 458.3 1041.7 459.5 1043.2 460.1 1045.2 460.5 1046.3 459.7 1047.2 460.6 1048.2 460.8 1052.2 460.8 1053.2 459.8 1054.2 460.8 1055.7 460.9 1056.2 460.7 1057 460.1 1057.7 460.5 1058.2 460.4 1059.7 458.2 1060.2 458 1060.6 458.4 1061.7 460.3 1062.2 460.7 1063.2 460.9 1064.7 460.7 1065.6 459.8 1066.7 460.9 1068.2 460.9 1069.3 460.3 1070.2 460.9 1072.2 460.9 1072.7 460.8 1073.7 459.8 1074.7 460.9 1075.2 460.9 1077.7 460.9 1078.7 459.9 1079.7 460.9 1080.2 460.9 1083.7 460.9 1084.8 460.2 1085.7 460.9 1089.2 461 1090.2 460.6 1090.9 459.5 1091.7 460.6 1092.7 460.9 1093.2 460.9 1094.3 459.5 1095.2 460.8 1095.7 460.9 1099.2 460.9 1100.2 460.5 1101.2 460.9 1103.7 460.9 1104.2 460.8 1105 459.9 1105.7 460.7 1106.2 460.9 1110.2 460.9 1110.7 460.9 1111.6 460.2 1112.7 460.9 1113.7 460.9 1114.7 460.7 1115.2 460.3 1116.7 457.2 1117 457 1118.7 460.2 1119.7 460.8 1121.2 460.9 1122.2 460.7 1123.1 459.5 1124.2 460.9 1129.2 461" fill="none" stroke="#000" stroke-width="2.4"/>
<path d="M114.5 484h3.8v30h-3.8zM141.9 484h3.7v30h-3.7zM166.7 484h3.6v30h-3.6zM226.5 484h10.3v30h-10.3zM245 484h3.4v30h-3.4zM263.2 484h6.8v30h-6.8zM279.5 484h7.3v30h-7.3zM294.8 484h3.2v30h-3.2zM299.7 484h3.5v30h-3.5zM312.6 484h3.6v30h-3.6zM325.4 484h6.5v30h-6.5zM354.1 484h3.9v30h-3.9zM365.7 484h5.3v30h-5.3zM391.2 484h12.5v30h-12.5zM404.2 484h7.7v30h-7.7zM412.7 484h3.3v30h-3.3zM420.3 484h3.2v30h-3.2zM446.9 484h10.3v30h-10.3zM461.3 484h3.6v30h-3.6zM469.5 484h7.3v30h-7.3zM479.7 484h3.5v30h-3.5zM483.7 484h5.4v30h-5.4zM499.1 484h18.9v30h-18.9zM524.8 484h3.4v30h-3.4zM532.1 484h15.8v30h-15.8zM553.5 484h30.4v30h-30.4zM591.5 484h3.5v30h-3.5zM599 484h11.8v30h-11.8zM612.5 484h14.2v30h-14.2zM632.1 484h25.7v30h-25.7zM663.8 484h3v30h-3zM672.6 484h4.6v30h-4.6zM679 484h18v30h-18zM699 484h4.5v30h-4.5zM706.2 484h13v30h-13zM721.3 484h9v30h-9zM731.9 484h8.5v30h-8.5zM743.5 484h17.4v30h-17.4zM764.5 484h4.1v30h-4.1zM770.9 484h9v30h-9zM785 484h18.8v30h-18.8zM805.6 484h20.3v30h-20.3zM828.1 484h42.7v30h-42.7zM872.8 484h7.2v30h-7.2zM880.9 484h2.7v30h-2.7zM884.8 484h10.2v30h-10.2zM895.9 484h42.4v30h-42.4zM940 484h32.8v30h-32.8zM975.6 484h8.3v30h-8.3zM987.9 484h31.9v30h-31.9zM1020.7 484h110.3v30h-110.3z" fill="#00cc5f"/>
<path d="M483 484v30M503.1 484v30M509.4 484v30M513.8 484v30M543.6 484v30M602.7 484v30M652.3 484v30M685.4 484v30M711.4 484v30M724.4 484v30M725.6 484v30M833.3 484v30M838.5 484v30M851.5 484v30M1060.5 484v30M1107.2 484v30" stroke="#80e2aa" stroke-width="0.9"/>
<path d="M51 532.2 51.8 532.7 52.6 531.9 53.4 532.5 54.2 532.5 55 531.9 55.8 532.5 56.6 532.5 57.4 532.8 58.2 532.2 59 532.8 59.8 532.4 60.6 532.3 61.4 532.7 62.2 531.9 63 532.5 63.8 532.3 64.6 532 65.4 532.5 66.2 532 67 532.1 67.8 532.1 68.6 532.3 69.4 531.7 70.2 531.9 71 531.9 71.8 531.9 72.6 532.2 73.4 531.7 74.2 532.1 75 531.7 75.8 531.8 76.6 531.6 77.4 531.8 78.2 532.2 79 531.9 79.8 532 80.6 531.6 81.4 531.6 82.2 531.6 83 531.9 83.8 532 84.6 532.1 85.4 531.5 86.2 532.1 87 532.3 87.8 532 88.6 531.5 89.4 531.8 90.2 531.5 91 531.7 91.8 532.3 92.6 532.1 93.4 532.1 94.2 532.2 95 532.3 95.8 532 96.6 532 97.4 532 98.2 532 99 531.9 99.8 531.9 100.6 531.5 101.4 531.9 102.2 531.6 103 531.9 103.8 531.2 104.6 531.3 105.4 531.1 106.2 531.7 107 531.8 107.8 531.5 108.6 531.2 109.4 531.6 110.2 531.6 111 531.3 111.8 531 112.6 531 113.4 531.1 114.2 531 115 531.1 115.8 531.3 116.6 531.6 117.4 530.8 118.2 531.3 119 530.8 119.8 530.9 120.6 531.6 121.4 531.4 122.2 531.7 123 531.4 123.8 531 124.6 531.4 125.4 531.6 126.2 532 127 532 127.8 531.6 128.6 531.6 129.4 531.4 130.2 531.9 131 531.5 131.8 531.5 132.6 531.4 133.4 531.4 134.2 532 135 531.6 135.8 532.3 136.6 531.6 137.4 532.3 138.2 531.6 139 531.5 139.8 532.1 139.8 531.6 142 532.1 143.2 531.7 144.5 530.6 146.5 531 147.5 531.8 147.8 531.9 148.6 532 149.4 531.7 150.2 532.2 151 531.5 151.8 532.2 152.6 532 153.4 531.3 154.2 531.3 155 531.9 155.8 532.1 156.6 531.4 157.4 531.7 158.2 532.1 159 531.6 159.8 532.2 160.6 531.9 161.4 531.6 162.2 531.9 163 532.1 163.8 532 164.5 531.9 166.5 530.4 168.5 534.5 170.5 530.9 172.5 531.9 172.6 532.6 173.4 532.4 174.2 532.2 175 532 175.8 532.8 176.6 532.5 177.4 532.6 178.2 532.2 179 532.4 179.8 532.7 180.6 532.5 181.4 532.3 182.2 532 183 532 183.8 532.4 184.6 531.9 185.4 532.1 186.2 532 187 532.2 187.8 532.1 188.6 531.6 189.4 531.3 190.2 531.5 191 531.6 191.8 531.7 192.6 531.9 193.4 532 194.2 531.2 195 531.9 195.8 531.8 196.6 531.9 197.4 531.6 198.2 531.3 199 531.9 199.8 531.8 200.6 531.7 201.4 532 202.2 531.5 203 531.2 203.8 531.7 204.6 531.9 205.4 531.4 206.2 531.9 207 532.1 207.8 531.5 208.6 531.8 209.4 531.9 210.2 531.7 211 531.5 211.8 531.5 212.6 532 213.4 532 214.2 531.7 215 531.4 215.8 532 216.6 531.9 217.4 531.4 218 532.1 224.5 533.2 226.6 534.1 228 535.1 232 533.9 236.5 533.2 238 532.8 240 532.2 240.6 531.8 241.4 531.5 242.2 531.7 243 531.4 243.8 531.9 244.6 531.7 245.4 532.2 246.2 532.1 247 532.2 247.8 532.3 248.6 531.7 249.4 531.6 250.2 531.8 251 531.8 251.8 531.7 252.6 531.7 253.4 532.2 254.2 532.5 255 532.1 255.8 532.6 256.6 532.5 257.4 531.8 258.2 532.3 259 532.1 259.8 531.8 260.6 532.5 261.4 531.9 262.2 532.2 263 532.2 263.8 532.5 264 532.1 267 529.7 270 531.9 270.2 531.5 271 531.7 271.8 531.8 272.6 532.3 273.4 532.3 274.2 532.2 275 531.5 275.8 532.2 276.6 532.1 277.4 532.1 278.2 532.4 279 531.4 284.8 528.7 288 530.8 294 530.1 295.5 534.5 297 528.4 303.5 528.6 305.5 531.3 306.2 531.9 307 531.6 307.8 531.6 308.6 531.2 309.4 531.2 310.2 531 311 531.6 311.8 531.4 312.6 531 313.4 531.7 314.2 531.1 315 531.3 315.8 531 316.6 531.1 317.4 531.6 318.2 531.2 319 531.1 319.8 531.4 320.6 531.2 321.4 531.8 322.2 531.1 323 531.9 323.8 531.1 324.6 531.9 325.4 531.7 326.2 531.3 327 531.6 327.8 531.4 328.6 531.4 329.4 531.4 330.2 531.6 331 532.1 331.8 532.1 332.6 532.1 333.4 531.3 334.2 531.5 335 532.1 335.8 531.3 336.6 531.9 337.4 531.5 338.2 532.1 339 531.2 339.8 531.9 340.6 531.5 341.4 531.3 342.2 531.1 343 531.8 343.8 531.6 344.6 531.2 345.4 531.4 346.2 531.8 347 531.2 347.8 531.5 348.6 531.1 349 532.2 352.5 529.8 355.2 530.8 357.6 530.3 361 530.8 370 530.7 390 531.7 390.2 531.9 391 531.9 391.8 531.9 392.6 531.9 393.4 531.4 394.2 532.3 395 531.6 395.8 531.6 396.6 531.5 397.4 531.6 398.2 532.2 399 531.5 399.8 531.5 400.6 532.1 401.4 531.7 402.2 531.5 403 532.1 403.8 532.1 404.6 532 405.4 532.2 406.2 531.7 407 532.4 407.8 532.2 408.6 531.6 409.4 531.7 410.2 532 411 532 411.8 531.8 412.6 531.6 413.4 531.9 414.2 531.6 415 532 415.8 532.2 416.6 531.5 417.4 531.9 418.2 532 419 531.4 419.8 532 420.6 532 421.4 531.5 422.2 531.5 423 531.8 423.8 531.5 424.6 531.3 425.4 531.8 426.2 531.6 427 531.2 427.8 531.1 428.6 531.1 429.4 531.2 430.2 531.7 431 531.5 431.8 531.6 432.6 531.5 433.4 531.5 434.2 530.8 435 531.2 435.8 531.7 436.6 531.7 437.4 531.1 438.2 531.2 439 531.5 439.8 531.3 440.6 531.4 441.4 531.1 442.2 531.4 443 531.5 443.8 531.1 444.6 531.3 445.4 532.1 446.2 531.9 447 532.1 447.8 531.9 448.6 532 449.4 532.1 450.2 532.1 451 531.4 451.5 532 453.5 532.5 455.5 531.2 456.5 531.5 458 531.9 458.2 531.8 459 531.8 459.8 532.2 460.6 531.6 461.4 531.6 462.2 531.9 463 531.4 463.8 531.8 464.6 532.1 465.4 531.7 466.2 531.5 467 531.7 467.8 531.7 468.6 531.4 469.4 531.4 470.2 531.4 471 531.5 471.8 531.6 472.6 531.6 473.4 531.5 474.2 531.4 475 531.9 475.8 532.2 476.6 532 477.4 532 478.2 532.1 479 531.7 479.8 532.2 480.6 532 481.4 532.2 482.2 532.3 483 532.2 483.8 532.1 484.6 532 485.4 532 486.2 532.3 487 532.2 487.8 532.4 488.6 531.9 489.4 532.3 490.2 532.7 491 532.2 491.8 532.4 492.6 532.4 493.4 532.2 494.2 532.8 495 532.2 495.8 532.6 496.6 532 497.4 531.9 498.2 532.6 499 532.1 499.8 531.7 500.6 532 501.4 532 502.2 532.2 503 531.6 503.8 531.7 504.6 532.3 505.4 532.1 506.2 531.5 507 531.6 507.8 531.6 508.6 531.9 509.4 531.8 510.2 532 511 531.9 511.8 531.7 512.6 531.9 513.4 531.8 514.2 531.9 515 531.6 515.8 531.9 516.6 531.8 517.4 532 518.2 531.3 519 532 519.8 531.2 520.6 531.9 521.4 531.8 522.2 531.7 523 532.2 523.8 531.8 524.6 531.7 525.4 532 526.2 532.1 527 531.9 527.8 531.7 528.6 531.8 529.4 531.8 530.2 532 531 531.6 531.8 531.7 532.6 531.8 533.4 531.6 534.2 531.6 535 531.9 535.8 532 536.6 531.6 537.4 531.5 538.2 531.3 539 531.4 539.8 531.2 540.6 531.5 541.4 531.5 542.2 531 543 531.7 543.8 531.2 544.6 531.6 545.4 531.6 546.2 531.7 547 531 547.8 531.2 548.6 531.6 549.4 530.8 550.2 530.8 551 531.3 551.8 531.2 552.6 531.6 553.4 531.5 554.2 531.3 555 531.8 555.8 531.4 556.6 531.4 557.4 531.6 558.2 531.4 559 531.4 559.8 531.7 560.6 531.5 561.4 532.1 562.2 531.9 563 531.8 563.8 531.4 564.6 531.7 565.4 531.8 566.2 532 567 532 567.8 532.3 568.6 532.4 569.4 532 570.2 532 571 532.2 571.8 532.5 572.6 532 573.4 532.1 574.2 532.4 575 531.8 575.8 531.9 576.6 532.5 577.4 532.4 578.2 532.1 579 531.7 579.8 532.4 580.6 532.2 581.4 532.3 582.2 532.4 583 532.3 583.8 531.9 584.6 531.6 585.4 531.7 586.2 531.9 587 531.9 587.8 531.6 588.6 531.6 589.4 532 590.2 532 591 531.8 591.8 532.3 592.6 532 593.4 531.5 594.2 531.9 595 532.2 595.8 531.8 596.6 532.2 597.4 531.6 598.2 531.9 599 532.4 599.8 532.2 600.6 532.3 601.4 531.9 602.2 532.2 603 532.3 603.8 532 604.6 532.4 605.4 532.3 606.2 532.7 607 532.4 607.8 532.2 608.6 532 609.4 532 610.2 532.5 611 531.9 611.8 531.9 612.6 531.9 613.4 532.2 614.2 532.5 615 532.2 615.8 532.4 616.6 531.7 617.4 531.6 618.2 532.2 619 531.8 619.8 532.1 620.6 531.7 621.4 531.5 622.2 531.5 623 531.3 623.8 532 624.6 531.7 625.4 531.4 626.2 531.5 627 531.4 627.8 531.1 628.6 531.8 629.4 531.5 630.2 531.8 631 531.3 631.8 531.5 632.6 531.2 633.4 531 634.2 531.8 635 531.7 635.8 531.3 636.6 531.8 637.4 531.7 638.2 531.3 639 531.6 639.8 531.9 640.6 531.5 641.4 532 642.2 531.4 643 531.5 643.8 531.8 644.6 531.4 645.4 531.5 646.2 532 647 531.7 647.8 532 648.6 531.5 649.4 531.4 650.2 531.6 651 531.4 651.8 532.1 652.6 531.5 653.4 531.7 654.2 531.3 655 531.7 655.8 531.5 656.6 531.5 657.4 531.2 658.2 531.2 659 531.8 659.8 531.4 660.6 531.2 661.4 531.2 662.2 531.2 663 531.2 663.8 531 664.6 531.5 665.4 531.2 666.2 531.1 667 531.6 667.8 531 668.6 531.2 669.4 531.7 670.2 531.1 671 531.4 671.8 531.8 672.6 531.8 673.4 531.2 674.2 531.4 675 531.8 675.8 531.5 676.6 532.1 677.4 531.5 678.2 532.2 679 531.8 679.8 531.6 680.6 531.9 681.4 531.6 682.2 532.2 683 531.9 683.8 532.5 684.6 532.2 685.4 532.1 686.2 532 687 532.3 687.8 532 688.6 532.6 689.4 531.9 690.2 532.3 691 532.3 691.8 532.1 692.6 532.5 693.4 532.2 694.2 532.4 695 532.3 695.8 532.1 696.6 532.1 697.4 531.8 698.2 531.9 699 532.5 699.8 532 700.6 532.2 701.4 531.7 702.2 532.1 703 531.9 703.8 532 704.6 531.8 705.4 531.5 706.2 531.7 707 531.7 707.8 531.6 708.6 532.1 709.4 531.7 710.2 531.8 711 532.2 711.8 532.1 712.6 532.2 713.4 532.2 714.2 531.6 715 531.7 715.8 531.5 716.6 532.1 717.4 532.1 718.2 531.9 719 531.9 719.8 532.2 720.6 532.2 721.4 531.8 722.2 532.4 723 532 723.8 532.2 724.6 531.8 725.4 531.8 726.2 532.5 727 532.3 727.8 532.3 728.6 531.7 729.4 531.6 730.2 531.7 731 531.7 731.8 531.8 732.6 531.8 733.4 531.5 734.2 531.7 735 532 735.8 531.5 736.6 532.1 737.4 531.8 738.2 531.9 739 531.4 739.8 531.5 740.6 531.7 741.4 531.3 742.2 531 743 531.7 743.8 531.6 744.6 531.1 745.4 530.9 746.2 531.6 747 531.4 747.8 530.8 748.6 531 749.4 530.9 750.2 531.5 751 531 751.8 531.6 752.6 531.5 753.4 530.9 754.2 531.5 755 531.2 755.8 531.6 756.6 531.7 757.4 531.2 758.2 531.1 759 531.9 759.8 531.4 760.6 531.9 761.4 531.7 762.2 531.8 763 531.9 763.8 531.8 764.6 531.7 765.4 531.3 766.2 531.9 767 531.7 767.8 531.8 768.6 532.2 769.4 531.5 770.2 532 771 531.4 771.8 532 772.6 532.1 773.4 531.6 774.2 531.8 775 532.2 775.8 531.9 776.6 531.8 777.4 531.5 778.2 531.3 779 531.5 779.8 531.6 780.6 531.4 781.4 531.5 782.2 531.3 783 531.8 783.8 531.8 784.6 531.4 785.4 531.4 786.2 531.6 787 531.6 787.8 532 788.6 531.5 789.4 531.5 790.2 532 791 531.4 791.8 531.8 792.6 531.6 793.4 532.1 794.2 531.9 795 532.1 795.8 531.6 796.6 532.1 797.4 532.1 798.2 532 799 532.4 799.8 532.5 800.6 531.8 801.4 532 802.2 532.1 803 532 803.8 531.9 804.6 532.2 805.4 532.1 806.2 532.6 807 532.3 807.8 532 808.6 532.2 809.4 532.4 810.2 532.3 811 532.1 811.8 532 812.6 531.9 813.4 532.7 814.2 532.5 815 531.9 815.8 532.4 816.6 532.6 817.4 532.2 818.2 531.7 819 532 819.8 532 820.6 531.7 821.4 532 822.2 531.5 823 532.2 823.8 532 824.6 531.9 825.4 532.2 826.2 531.9 827 531.5 827.8 531.5 828.6 531.4 829.4 531.3 830.2 532 831 532 831.8 531.5 832.6 531.4 833.4 531.8 834.2 532 835 532.1 835.8 531.5 836.6 532 837.4 532.1 838.2 532 839 531.7 839.8 531.5 840.6 532.1 841.4 531.7 842.2 531.7 843 531.9 843.8 531.8 844.6 532.2 845.4 531.6 846.2 531.4 847 531.9 847.8 532 848.6 532.1 849.4 532 850.2 532.1 851 532.2 851.8 531.7 852.6 531.7 853.4 531.4 854.2 531.4 855 531.7 855.8 531.2 856.6 531.7 857.4 531.2 858.2 531.4 859 531.8 859.8 531 860.6 530.9 861.4 531.2 862.2 531 863 531.5 863.8 530.8 864.6 531.5 865.4 531.5 866.2 531.5 867 531.1 867.8 531 868.6 531.4 869.4 531.2 870.2 531.2 871 531.1 871.8 531.2 872.6 531.5 873.4 531.7 874.2 531.8 875 531.1 875.8 531.3 876.6 531.5 877.4 531.6 878.2 531.5 879 531.4 879.8 531.3 880.6 531.6 881.4 531.7 882.2 532.2 883 532.2 883.8 532.2 884.6 532.3 885.4 532.4 886.2 532.1 887 532.3 887.8 531.6 888.6 532.2 889.4 532.1 890.2 531.8 891 532.1 891.8 532.4 892.6 532 893.4 532.1 894.2 531.8 895 531.8 895.8 532.3 896.6 531.5 897.4 531.6 898.2 532.1 899 531.8 899.8 531.5 900.6 532 901.4 531.7 902.2 531.9 903 531.8 903.8 531.9 904.6 531.9 905.4 531.7 906.2 531.5 907 531.6 907.8 532.2 908.6 531.9 909.4 531.5 910.2 532.2 911 531.7 911.8 531.6 912.6 532 913.4 531.8 914.2 532 915 532.1 915.8 531.9 916.6 532.2 917.4 531.8 918.2 532.2 919 532.3 919.8 531.9 920.6 532.2 921.4 531.9 922.2 532.3 923 532.7 923.8 532.4 924.6 532.5 925.4 532.6 926.2 532 927 532.8 927.8 532.5 928.6 532 929.4 532.6 930.2 532.2 931 531.9 931.8 532.6 932.6 532.2 933.4 532.4 934.2 531.8 935 532.3 935.8 531.6 936.6 531.7 937.4 531.8 938.2 531.4 939 531.9 939.8 531.5 940.6 531.5 941.4 531.9 942.2 531.6 943 532 943.8 531.7 944.6 531.9 945.4 531.6 946.2 531.9 947 531.8 947.8 531.2 948.6 531.7 949.4 531.3 950.2 531.7 951 531.6 951.8 531.8 952.6 531.1 953.4 531.4 954.2 531.7 955 531.9 955.8 531.7 956.6 531.2 957.4 531.7 958.2 531.2 959 531.7 959.8 531.9 960.6 531.3 961.4 532.1 962.2 531.8 963 531.5 963.8 531.4 964.6 531.7 965.4 532 966.2 531.8 967 531.4 967.8 531.3 968.6 531.3 969.4 531.9 970.2 531.4 971 531.7 971.8 531.4 972.6 531.8 973.4 531.5 974.2 531.2 975 531.8 975.8 531.5 976.6 531.6 977.4 531.7 978.2 531.8 979 530.9 979.8 531.2 980.6 531 981.4 531.3 982.2 531.7 983 531.6 983.8 530.9 984.6 531 985.4 531.6 986.2 531.5 987 531.3 987.8 531.4 988.6 531.1 989.4 531.7 990.2 531.4 991 531.8 991.8 531.6 992.6 531.2 993.4 531.5 994.2 531.4 995 532.1 995.8 531.8 996.6 531.4 997.4 531.6 998.2 531.8 999 531.9 999.8 532.1 1000.6 531.9 1001.4 531.9 1002.2 531.7 1003 532.2 1003.8 532 1004.6 531.8 1005.4 532.2 1006.2 532.7 1007 531.8 1007.8 531.9 1008.6 532.4 1009.4 532 1010.2 532 1011 532.2 1011.8 532 1012.6 532.3 1013.4 532.2 1014.2 532.6 1015 532.6 1015.8 531.7 1016.6 532.1 1017.4 532.3 1018.2 532.4 1019 532.3 1019.8 532.1 1020.6 532.1 1021.4 531.8 1022.2 531.7 1023 532.2 1023.8 532.2 1024.6 532.3 1025.4 532.1 1026.2 531.7 1027 532.1 1027.8 532.1 1028.6 531.9 1029.4 532 1030.2 531.8 1031 532 1031.8 531.9 1032.6 531.6 1033.4 531.9 1034.2 531.9 1035 532.5 1035.8 532.1 1036.6 532 1037.4 531.9 1038.2 531.9 1039 532 1039.8 531.8 1040.6 531.7 1041.4 532.5 1042.2 532.1 1043 532.1 1043.8 532.2 1044.6 532 1045.4 531.9 1046.2 531.7 1047 531.9 1047.8 531.9 1048.6 532.3 1049.4 532.1 1050.2 532.4 1051 531.8 1051.8 532.3 1052.6 531.9 1053.4 531.4 1054.2 531.5 1055 531.8 1055.8 532.1 1056.6 531.5 1057.4 531.8 1058.2 531.5 1059 531.8 1059.8 531.1 1060.6 531.4 1061.4 531.7 1062.2 531.2 1063 531.1 1063.8 530.9 1064.6 531 1065.4 531.1 1066.2 531.5 1067 531 1067.8 531.2 1068.6 531 1069.4 531.4 1070.2 531.6 1071 531.5 1071.8 531.1 1072.6 531.6 1073.4 531.8 1074.2 531.5 1075 531.1 1075.8 531.8 1076.6 531.8 1077.4 531.4 1078.2 531.2 1079 531.3 1079.8 531.7 1080.6 532 1081.4 531.8 1082.2 532.1 1083 531.4 1083.8 531.6 1084.6 532 1085.4 531.9 1086.2 531.7 1087 531.9 1087.8 531.6 1088.6 531.3 1089.4 531.7 1090.2 531.3 1091 531.8 1091.8 531.5 1092.6 531.7 1093.4 531.7 1094.2 531.4 1095 531.6 1095.8 531.2 1096.6 532 1097.4 531.6 1098.2 532 1099 531.1 1099.8 531.6 1100.6 531.7 1101.4 531.4 1102.2 531.2 1103 531.2 1103.8 531.2 1104.6 531.8 1105.4 531.2 1106.2 531.9 1107 531.6 1107.8 531.7 1108.6 531.8 1109.4 531.8 1110.2 531.9 1111 531.9 1111.8 531.7 1112.6 532.1 1113.4 531.7 1114.2 532.2 1115 532.3 1115.8 532.3 1116.6 531.9 1117.4 532.4 1118.2 532.6 1119 532.2 1119.8 532.1 1120.6 532.3 1121.4 532.7 1122.2 532 1123 531.9 1123.8 532.3 1124.6 532.5 1125.4 532.6 1126.2 532.3 1127 532.8 1127.8 532.1 1128.6 532.6" fill="none" stroke="#0033ff" stroke-width="5.3" stroke-linejoin="round"/>
<path d="M140.4 518.1H146V532H140.4zM145.5 524.5H147.4V530H145.5zM226 532H229.6V540.9H226zM229 532H234.9V558.6H229zM230.8 523H236.7V532H230.8zM352.6 532H358.1V540.8H352.6zM354 520.9H359.7V532H354zM452 532H456V538.7H452zM452.5 527.2H457V532H452.5z" fill="#0033ff"/>
<path d="M51.8 843.5H1129M51.5 844V1381.7M1129.5 844V1385.7M51.8 1382.3H1133" stroke="#000" stroke-width="7" fill="none"/>
<path d="M81.5 1352V1379M231.2 1352V1379M380.8 1352V1379M530.5 1352V1379M680.2 1352V1379M829.8 1352V1379M979.5 1352V1379" stroke="#000" stroke-width="7"/>
<path d="M43 1235.9a8.5 8.5 0 1 0 17 0a8.5 8.5 0 1 0-17 0M44.1 1235.7a8.5 8.5 0 1 0 17 0a8.5 8.5 0 1 0-17 0M45.2 1235.4a8.5 8.5 0 1 0 17 0a8.5 8.5 0 1 0-17 0M46.3 1235.9a8.5 8.5 0 1 0 17 0a8.5 8.5 0 1 0-17 0M47.4 1235.5a8.5 8.5 0 1 0 17 0a8.5 8.5 0 1 0-17 0M48.5 1235.9a8.5 8.5 0 1 0 17 0a8.5 8.5 0 1 0-17 0M49.6 1235.6a8.5 8.5 0 1 0 17 0a8.5 8.5 0 1 0-17 0M50.7 1235.7a8.5 8.5 0 1 0 17 0a8.5 8.5 0 1 0-17 0M51.8 1236.1a8.5 8.5 0 1 0 17 0a8.5 8.5 0 1 0-17 0M52.9 1236.6a8.5 8.5 0 1 0 17 0a8.5 8.5 0 1 0-17 0M54 1236a8.5 8.5 0 1 0 17 0a8.5 8.5 0 1 0-17 0M55.1 1236.1a8.5 8.5 0 1 0 17 0a8.5 8.5 0 1 0-17 0M56.2 1236.6a8.5 8.5 0 1 0 17 0a8.5 8.5 0 1 0-17 0M57.3 1236.9a8.5 8.5 0 1 0 17 0a8.5 8.5 0 1 0-17 0M58.4 1236.5a8.5 8.5 0 1 0 17 0a8.5 8.5 0 1 0-17 0M59.5 1236.3a8.5 8.5 0 1 0 17 0a8.5 8.5 0 1 0-17 0M60.6 1236.8a8.5 8.5 0 1 0 17 0a8.5 8.5 0 1 0-17 0M61.7 1235.9a8.5 8.5 0 1 0 17 0a8.5 8.5 0 1 0-17 0M62.8 1236.6a8.5 8.5 0 1 0 17 0a8.5 8.5 0 1 0-17 0M63.9 1235.9a8.5 8.5 0 1 0 17 0a8.5 8.5 0 1 0-17 0M65 1235.7a8.5 8.5 0 1 0 17 0a8.5 8.5 0 1 0-17 0M66.1 1235.6a8.5 8.5 0 1 0 17 0a8.5 8.5 0 1 0-17 0M67.2 1235.7a8.5 8.5 0 1 0 17 0a8.5 8.5 0 1 0-17 0M68.3 1236a8.5 8.5 0 1 0 17 0a8.5 8.5 0 1 0-17 0M69.4 1235.4a8.5 8.5 0 1 0 17 0a8.5 8.5 0 1 0-17 0M70.5 1235.7a8.5 8.5 0 1 0 17 0a8.5 8.5 0 1 0-17 0M71.6 1235.7a8.5 8.5 0 1 0 17 0a8.5 8.5 0 1 0-17 0M72.7 1235.5a8.5 8.5 0 1 0 17 0a8.5 8.5 0 1 0-17 0M73.8 1235.7a8.5 8.5 0 1 0 17 0a8.5 8.5 0 1 0-17 0M74.9 1235.2a8.5 8.5 0 1 0 17 0a8.5 8.5 0 1 0-17 0M76 1235.3a8.5 8.5 0 1 0 17 0a8.5 8.5 0 1 0-17 0M77.1 1235.5a8.5 8.5 0 1 0 17 0a8.5 8.5 0 1 0-17 0M78.2 1236a8.5 8.5 0 1 0 17 0a8.5 8.5 0 1 0-17 0M79.3 1235.9a8.5 8.5 0 1 0 17 0a8.5 8.5 0 1 0-17 0M80.4 1235.8a8.5 8.5 0 1 0 17 0a8.5 8.5 0 1 0-17 0M81.5 1236.1a8.5 8.5 0 1 0 17 0a8.5 8.5 0 1 0-17 0M82.6 1236.1a8.5 8.5 0 1 0 17 0a8.5 8.5 0 1 0-17 0M83.7 1236a8.5 8.5 0 1 0 17 0a8.5 8.5 0 1 0-17 0M84.8 1236.5a8.5 8.5 0 1 0 17 0a8.5 8.5 0 1 0-17 0M85.9 1236.4a8.5 8.5 0 1 0 17 0a8.5 8.5 0 1 0-17 0M87 1236a8.5 8.5 0 1 0 17 0a8.5 8.5 0 1 0-17 0M88.1 1236.3a8.5 8.5 0 1 0 17 0a8.5 8.5 0 1 0-17 0M89.2 1236.2a8.5 8.5 0 1 0 17 0a8.5 8.5 0 1 0-17 0M90.3 1236.5a8.5 8.5 0 1 0 17 0a8.5 8.5 0 1 0-17 0M91.4 1236.3a8.5 8.5 0 1 0 17 0a8.5 8.5 0 1 0-17 0M92.5 1235.9a8.5 8.5 0 1 0 17 0a8.5 8.5 0 1 0-17 0M93.6 1236.6a8.5 8.5 0 1 0 17 0a8.5 8.5 0 1 0-17 0M94.7 1235.8a8.5 8.5 0 1 0 17 0a8.5 8.5 0 1 0-17 0M95.8 1236.1a8.5 8.5 0 1 0 17 0a8.5 8.5 0 1 0-17 0M96.9 1236.4a8.5 8.5 0 1 0 17 0a8.5 8.5 0 1 0-17 0M98 1235.9a8.5 8.5 0 1 0 17 0a8.5 8.5 0 1 0-17 0M99.1 1236.3a8.5 8.5 0 1 0 17 0a8.5 8.5 0 1 0-17 0M100.2 1236a8.5 8.5 0 1 0 17 0a8.5 8.5 0 1 0-17 0M101.3 1236.7a8.5 8.5 0 1 0 17 0a8.5 8.5 0 1 0-17 0M102.4 1236.9a8.5 8.5 0 1 0 17 0a8.5 8.5 0 1 0-17 0M103.5 1236.8a8.5 8.5 0 1 0 17 0a8.5 8.5 0 1 0-17 0M104.6 1237.2a8.5 8.5 0 1 0 17 0a8.5 8.5 0 1 0-17 0M105.7 1236.8a8.5 8.5 0 1 0 17 0a8.5 8.5 0 1 0-17 0M106.8 1237.3a8.5 8.5 0 1 0 17 0a8.5 8.5 0 1 0-17 0M107.9 1237.2a8.5 8.5 0 1 0 17 0a8.5 8.5 0 1 0-17 0M109 1237.3a8.5 8.5 0 1 0 17 0a8.5 8.5 0 1 0-17 0M110.1 1237.2a8.5 8.5 0 1 0 17 0a8.5 8.5 0 1 0-17 0M111.2 1237.5a8.5 8.5 0 1 0 17 0a8.5 8.5 0 1 0-17 0M112.3 1237.6a8.5 8.5 0 1 0 17 0a8.5 8.5 0 1 0-17 0M113.4 1237.1a8.5 8.5 0 1 0 17 0a8.5 8.5 0 1 0-17 0M114.5 1237.2a8.5 8.5 0 1 0 17 0a8.5 8.5 0 1 0-17 0M115.6 1236.6a8.5 8.5 0 1 0 17 0a8.5 8.5 0 1 0-17 0M116.7 1237.1a8.5 8.5 0 1 0 17 0a8.5 8.5 0 1 0-17 0M117.8 1237a8.5 8.5 0 1 0 17 0a8.5 8.5 0 1 0-17 0M118.9 1237.2a8.5 8.5 0 1 0 17 0a8.5 8.5 0 1 0-17 0M120 1236.9a8.5 8.5 0 1 0 17 0a8.5 8.5 0 1 0-17 0M121.1 1236.4a8.5 8.5 0 1 0 17 0a8.5 8.5 0 1 0-17 0M122.2 1236.4a8.5 8.5 0 1 0 17 0a8.5 8.5 0 1 0-17 0M123.3 1236.6a8.5 8.5 0 1 0 17 0a8.5 8.5 0 1 0-17 0M124.4 1236a8.5 8.5 0 1 0 17 0a8.5 8.5 0 1 0-17 0M125.5 1236.4a8.5 8.5 0 1 0 17 0a8.5 8.5 0 1 0-17 0M126.6 1236.2a8.5 8.5 0 1 0 17 0a8.5 8.5 0 1 0-17 0M127.7 1236.1a8.5 8.5 0 1 0 17 0a8.5 8.5 0 1 0-17 0M128.8 1236.1a8.5 8.5 0 1 0 17 0a8.5 8.5 0 1 0-17 0M129.9 1236.8a8.5 8.5 0 1 0 17 0a8.5 8.5 0 1 0-17 0M131 1236.3a8.5 8.5 0 1 0 17 0a8.5 8.5 0 1 0-17 0M132.1 1236.4a8.5 8.5 0 1 0 17 0a8.5 8.5 0 1 0-17 0M133.2 1236.5a8.5 8.5 0 1 0 17 0a8.5 8.5 0 1 0-17 0M134.3 1237a8.5 8.5 0 1 0 17 0a8.5 8.5 0 1 0-17 0M135.4 1236.3a8.5 8.5 0 1 0 17 0a8.5 8.5 0 1 0-17 0M136.5 1236.6a8.5 8.5 0 1 0 17 0a8.5 8.5 0 1 0-17 0M137.6 1236.6a8.5 8.5 0 1 0 17 0a8.5 8.5 0 1 0-17 0M138.7 1236.9a8.5 8.5 0 1 0 17 0a8.5 8.5 0 1 0-17 0M139.8 1236.8a8.5 8.5 0 1 0 17 0a8.5 8.5 0 1 0-17 0M140.9 1236.7a8.5 8.5 0 1 0 17 0a8.5 8.5 0 1 0-17 0M142 1236.1a8.5 8.5 0 1 0 17 0a8.5 8.5 0 1 0-17 0M143.1 1236.2a8.5 8.5 0 1 0 17 0a8.5 8.5 0 1 0-17 0M144.2 1236.1a8.5 8.5 0 1 0 17 0a8.5 8.5 0 1 0-17 0M145.3 1236.5a8.5 8.5 0 1 0 17 0a8.5 8.5 0 1 0-17 0M146.4 1236.5a8.5 8.5 0 1 0 17 0a8.5 8.5 0 1 0-17 0M147.5 1235.8a8.5 8.5 0 1 0 17 0a8.5 8.5 0 1 0-17 0M148.6 1235.8a8.5 8.5 0 1 0 17 0a8.5 8.5 0 1 0-17 0M149.7 1235.9a8.5 8.5 0 1 0 17 0a8.5 8.5 0 1 0-17 0M150.8 1235.9a8.5 8.5 0 1 0 17 0a8.5 8.5 0 1 0-17 0M151.9 1236.2a8.5 8.5 0 1 0 17 0a8.5 8.5 0 1 0-17 0M153 1236.4a8.5 8.5 0 1 0 17 0a8.5 8.5 0 1 0-17 0M154.1 1236.2a8.5 8.5 0 1 0 17 0a8.5 8.5 0 1 0-17 0M155.2 1236.1a8.5 8.5 0 1 0 17 0a8.5 8.5 0 1 0-17 0M156.3 1236.5a8.5 8.5 0 1 0 17 0a8.5 8.5 0 1 0-17 0M157.4 1236.6a8.5 8.5 0 1 0 17 0a8.5 8.5 0 1 0-17 0M158.5 1236.8a8.5 8.5 0 1 0 17 0a8.5 8.5 0 1 0-17 0M159.6 1237.2a8.5 8.5 0 1 0 17 0a8.5 8.5 0 1 0-17 0M160.7 1237a8.5 8.5 0 1 0 17 0a8.5 8.5 0 1 0-17 0M161.8 1236.9a8.5 8.5 0 1 0 17 0a8.5 8.5 0 1 0-17 0M162.9 1236.9a8.5 8.5 0 1 0 17 0a8.5 8.5 0 1 0-17 0M164 1237a8.5 8.5 0 1 0 17 0a8.5 8.5 0 1 0-17 0M165.1 1236.3a8.5 8.5 0 1 0 17 0a8.5 8.5 0 1 0-17 0M166.2 1237a8.5 8.5 0 1 0 17 0a8.5 8.5 0 1 0-17 0M167.3 1236.8a8.5 8.5 0 1 0 17 0a8.5 8.5 0 1 0-17 0M168.4 1236.8a8.5 8.5 0 1 0 17 0a8.5 8.5 0 1 0-17 0M169.5 1236.6a8.5 8.5 0 1 0 17 0a8.5 8.5 0 1 0-17 0M170.6 1236.2a8.5 8.5 0 1 0 17 0a8.5 8.5 0 1 0-17 0M171.7 1236.1a8.5 8.5 0 1 0 17 0a8.5 8.5 0 1 0-17 0M172.8 1235.7a8.5 8.5 0 1 0 17 0a8.5 8.5 0 1 0-17 0M173.9 1236.2a8.5 8.5 0 1 0 17 0a8.5 8.5 0 1 0-17 0M175 1235.6a8.5 8.5 0 1 0 17 0a8.5 8.5 0 1 0-17 0M176.1 1235.6a8.5 8.5 0 1 0 17 0a8.5 8.5 0 1 0-17 0M177.2 1235.7a8.5 8.5 0 1 0 17 0a8.5 8.5 0 1 0-17 0M178.3 1235.6a8.5 8.5 0 1 0 17 0a8.5 8.5 0 1 0-17 0M179.4 1235.8a8.5 8.5 0 1 0 17 0a8.5 8.5 0 1 0-17 0M180.5 1235.6a8.5 8.5 0 1 0 17 0a8.5 8.5 0 1 0-17 0M181.6 1235.5a8.5 8.5 0 1 0 17 0a8.5 8.5 0 1 0-17 0M182.7 1235.7a8.5 8.5 0 1 0 17 0a8.5 8.5 0 1 0-17 0M183.8 1235.7a8.5 8.5 0 1 0 17 0a8.5 8.5 0 1 0-17 0M184.9 1235.9a8.5 8.5 0 1 0 17 0a8.5 8.5 0 1 0-17 0M186 1235.6a8.5 8.5 0 1 0 17 0a8.5 8.5 0 1 0-17 0M187.1 1236.3a8.5 8.5 0 1 0 17 0a8.5 8.5 0 1 0-17 0M188.2 1236.1a8.5 8.5 0 1 0 17 0a8.5 8.5 0 1 0-17 0M189.3 1235.6a8.5 8.5 0 1 0 17 0a8.5 8.5 0 1 0-17 0M190.4 1235.6a8.5 8.5 0 1 0 17 0a8.5 8.5 0 1 0-17 0M191.5 1235.6a8.5 8.5 0 1 0 17 0a8.5 8.5 0 1 0-17 0M192.6 1235.5a8.5 8.5 0 1 0 17 0a8.5 8.5 0 1 0-17 0M193.7 1235.2a8.5 8.5 0 1 0 17 0a8.5 8.5 0 1 0-17 0M194.8 1235.8a8.5 8.5 0 1 0 17 0a8.5 8.5 0 1 0-17 0M195.9 1235.9a8.5 8.5 0 1 0 17 0a8.5 8.5 0 1 0-17 0M197 1235.3a8.5 8.5 0 1 0 17 0a8.5 8.5 0 1 0-17 0M198.1 1235.3a8.5 8.5 0 1 0 17 0a8.5 8.5 0 1 0-17 0M199.2 1234.9a8.5 8.5 0 1 0 17 0a8.5 8.5 0 1 0-17 0M200.3 1235a8.5 8.5 0 1 0 17 0a8.5 8.5 0 1 0-17 0M201.4 1235.2a8.5 8.5 0 1 0 17 0a8.5 8.5 0 1 0-17 0M202.5 1235.2a8.5 8.5 0 1 0 17 0a8.5 8.5 0 1 0-17 0M203.6 1235.8a8.5 8.5 0 1 0 17 0a8.5 8.5 0 1 0-17 0M204.7 1235.3a8.5 8.5 0 1 0 17 0a8.5 8.5 0 1 0-17 0M205.8 1235.3a8.5 8.5 0 1 0 17 0a8.5 8.5 0 1 0-17 0M206.9 1236.3a8.5 8.5 0 1 0 17 0a8.5 8.5 0 1 0-17 0M208 1236a8.5 8.5 0 1 0 17 0a8.5 8.5 0 1 0-17 0M209.1 1235.8a8.5 8.5 0 1 0 17 0a8.5 8.5 0 1 0-17 0M210.2 1236.2a8.5 8.5 0 1 0 17 0a8.5 8.5 0 1 0-17 0M211.3 1235.8a8.5 8.5 0 1 0 17 0a8.5 8.5 0 1 0-17 0M212.4 1236.4a8.5 8.5 0 1 0 17 0a8.5 8.5 0 1 0-17 0M213.5 1236.8a8.5 8.5 0 1 0 17 0a8.5 8.5 0 1 0-17 0M214.6 1236.8a8.5 8.5 0 1 0 17 0a8.5 8.5 0 1 0-17 0M215.7 1236.6a8.5 8.5 0 1 0 17 0a8.5 8.5 0 1 0-17 0M216.8 1236.2a8.5 8.5 0 1 0 17 0a8.5 8.5 0 1 0-17 0M217.9 1236.3a8.5 8.5 0 1 0 17 0a8.5 8.5 0 1 0-17 0M219 1236.1a8.5 8.5 0 1 0 17 0a8.5 8.5 0 1 0-17 0M220.1 1236.6a8.5 8.5 0 1 0 17 0a8.5 8.5 0 1 0-17 0M221.2 1236.3a8.5 8.5 0 1 0 17 0a8.5 8.5 0 1 0-17 0M222.3 1236.5a8.5 8.5 0 1 0 17 0a8.5 8.5 0 1 0-17 0M223.4 1236.1a8.5 8.5 0 1 0 17 0a8.5 8.5 0 1 0-17 0M224.5 1235.9a8.5 8.5 0 1 0 17 0a8.5 8.5 0 1 0-17 0M225.6 1236.5a8.5 8.5 0 1 0 17 0a8.5 8.5 0 1 0-17 0M226.7 1236.6a8.5 8.5 0 1 0 17 0a8.5 8.5 0 1 0-17 0M227.8 1236.6a8.5 8.5 0 1 0 17 0a8.5 8.5 0 1 0-17 0M228.9 1236.6a8.5 8.5 0 1 0 17 0a8.5 8.5 0 1 0-17 0M230 1236.6a8.5 8.5 0 1 0 17 0a8.5 8.5 0 1 0-17 0M231.1 1236.6a8.5 8.5 0 1 0 17 0a8.5 8.5 0 1 0-17 0M232.2 1236.2a8.5 8.5 0 1 0 17 0a8.5 8.5 0 1 0-17 0M233.3 1236.5a8.5 8.5 0 1 0 17 0a8.5 8.5 0 1 0-17 0M234.4 1236.4a8.5 8.5 0 1 0 17 0a8.5 8.5 0 1 0-17 0M235.5 1236.2a8.5 8.5 0 1 0 17 0a8.5 8.5 0 1 0-17 0M236.6 1236.2a8.5 8.5 0 1 0 17 0a8.5 8.5 0 1 0-17 0M237.7 1236.4a8.5 8.5 0 1 0 17 0a8.5 8.5 0 1 0-17 0M238.8 1236.4a8.5 8.5 0 1 0 17 0a8.5 8.5 0 1 0-17 0M239.9 1236.8a8.5 8.5 0 1 0 17 0a8.5 8.5 0 1 0-17 0M241 1237a8.5 8.5 0 1 0 17 0a8.5 8.5 0 1 0-17 0M242.1 1236.4a8.5 8.5 0 1 0 17 0a8.5 8.5 0 1 0-17 0M243.2 1236.8a8.5 8.5 0 1 0 17 0a8.5 8.5 0 1 0-17 0M244.3 1236.8a8.5 8.5 0 1 0 17 0a8.5 8.5 0 1 0-17 0M245.4 1236.7a8.5 8.5 0 1 0 17 0a8.5 8.5 0 1 0-17 0M246.5 1236a8.5 8.5 0 1 0 17 0a8.5 8.5 0 1 0-17 0M247.6 1235.8a8.5 8.5 0 1 0 17 0a8.5 8.5 0 1 0-17 0M248.7 1235.8a8.5 8.5 0 1 0 17 0a8.5 8.5 0 1 0-17 0M249.8 1235.7a8.5 8.5 0 1 0 17 0a8.5 8.5 0 1 0-17 0M250.9 1235.7a8.5 8.5 0 1 0 17 0a8.5 8.5 0 1 0-17 0M252 1236.1a8.5 8.5 0 1 0 17 0a8.5 8.5 0 1 0-17 0M253.1 1236.4a8.5 8.5 0 1 0 17 0a8.5 8.5 0 1 0-17 0M254.2 1236.4a8.5 8.5 0 1 0 17 0a8.5 8.5 0 1 0-17 0M255.3 1236.1a8.5 8.5 0 1 0 17 0a8.5 8.5 0 1 0-17 0M256.4 1236.4a8.5 8.5 0 1 0 17 0a8.5 8.5 0 1 0-17 0M257.5 1236.6a8.5 8.5 0 1 0 17 0a8.5 8.5 0 1 0-17 0M258.6 1236.1a8.5 8.5 0 1 0 17 0a8.5 8.5 0 1 0-17 0M259.7 1236.7a8.5 8.5 0 1 0 17 0a8.5 8.5 0 1 0-17 0M260.8 1237.1a8.5 8.5 0 1 0 17 0a8.5 8.5 0 1 0-17 0M261.9 1237a8.5 8.5 0 1 0 17 0a8.5 8.5 0 1 0-17 0M263 1237.1a8.5 8.5 0 1 0 17 0a8.5 8.5 0 1 0-17 0M264.1 1236.9a8.5 8.5 0 1 0 17 0a8.5 8.5 0 1 0-17 0M265.2 1236.7a8.5 8.5 0 1 0 17 0a8.5 8.5 0 1 0-17 0M266.3 1237.2a8.5 8.5 0 1 0 17 0a8.5 8.5 0 1 0-17 0M267.4 1236.8a8.5 8.5 0 1 0 17 0a8.5 8.5 0 1 0-17 0M268.5 1237.2a8.5 8.5 0 1 0 17 0a8.5 8.5 0 1 0-17 0M269.6 1237.4a8.5 8.5 0 1 0 17 0a8.5 8.5 0 1 0-17 0M270.7 1236.8a8.5 8.5 0 1 0 17 0a8.5 8.5 0 1 0-17 0M271.8 1236.8a8.5 8.5 0 1 0 17 0a8.5 8.5 0 1 0-17 0M272.9 1237.2a8.5 8.5 0 1 0 17 0a8.5 8.5 0 1 0-17 0M274 1237a8.5 8.5 0 1 0 17 0a8.5 8.5 0 1 0-17 0M275.1 1236.4a8.5 8.5 0 1 0 17 0a8.5 8.5 0 1 0-17 0M276.2 1236.4a8.5 8.5 0 1 0 17 0a8.5 8.5 0 1 0-17 0M277.3 1236.4a8.5 8.5 0 1 0 17 0a8.5 8.5 0 1 0-17 0M278.4 1237.1a8.5 8.5 0 1 0 17 0a8.5 8.5 0 1 0-17 0M279.5 1237a8.5 8.5 0 1 0 17 0a8.5 8.5 0 1 0-17 0M280.6 1236.5a8.5 8.5 0 1 0 17 0a8.5 8.5 0 1 0-17 0M281.7 1237.1a8.5 8.5 0 1 0 17 0a8.5 8.5 0 1 0-17 0M282.8 1237.3a8.5 8.5 0 1 0 17 0a8.5 8.5 0 1 0-17 0M283.9 1237.1a8.5 8.5 0 1 0 17 0a8.5 8.5 0 1 0-17 0M285 1236.8a8.5 8.5 0 1 0 17 0a8.5 8.5 0 1 0-17 0M286.1 1237.1a8.5 8.5 0 1 0 17 0a8.5 8.5 0 1 0-17 0M287.2 1236.7a8.5 8.5 0 1 0 17 0a8.5 8.5 0 1 0-17 0M288.3 1236.6a8.5 8.5 0 1 0 17 0a8.5 8.5 0 1 0-17 0M289.4 1237.4a8.5 8.5 0 1 0 17 0a8.5 8.5 0 1 0-17 0M290.5 1237.1a8.5 8.5 0 1 0 17 0a8.5 8.5 0 1 0-17 0M291.6 1236.9a8.5 8.5 0 1 0 17 0a8.5 8.5 0 1 0-17 0M292.7 1237.2a8.5 8.5 0 1 0 17 0a8.5 8.5 0 1 0-17 0M293.8 1236.6a8.5 8.5 0 1 0 17 0a8.5 8.5 0 1 0-17 0M294.9 1236.9a8.5 8.5 0 1 0 17 0a8.5 8.5 0 1 0-17 0M296 1236.8a8.5 8.5 0 1 0 17 0a8.5 8.5 0 1 0-17 0M297.1 1236.1a8.5 8.5 0 1 0 17 0a8.5 8.5 0 1 0-17 0M298.2 1236a8.5 8.5 0 1 0 17 0a8.5 8.5 0 1 0-17 0M299.3 1235.9a8.5 8.5 0 1 0 17 0a8.5 8.5 0 1 0-17 0M300.4 1235.7a8.5 8.5 0 1 0 17 0a8.5 8.5 0 1 0-17 0M301.5 1236a8.5 8.5 0 1 0 17 0a8.5 8.5 0 1 0-17 0M302.6 1235.6a8.5 8.5 0 1 0 17 0a8.5 8.5 0 1 0-17 0M303.7 1235.7a8.5 8.5 0 1 0 17 0a8.5 8.5 0 1 0-17 0M304.8 1235.4a8.5 8.5 0 1 0 17 0a8.5 8.5 0 1 0-17 0M305.9 1236.1a8.5 8.5 0 1 0 17 0a8.5 8.5 0 1 0-17 0M307 1235.7a8.5 8.5 0 1 0 17 0a8.5 8.5 0 1 0-17 0M308.1 1235.8a8.5 8.5 0 1 0 17 0a8.5 8.5 0 1 0-17 0M309.2 1236a8.5 8.5 0 1 0 17 0a8.5 8.5 0 1 0-17 0M310.3 1236.3a8.5 8.5 0 1 0 17 0a8.5 8.5 0 1 0-17 0M311.4 1235.9a8.5 8.5 0 1 0 17 0a8.5 8.5 0 1 0-17 0M312.5 1236.5a8.5 8.5 0 1 0 17 0a8.5 8.5 0 1 0-17 0M313.6 1236.1a8.5 8.5 0 1 0 17 0a8.5 8.5 0 1 0-17 0M314.7 1236.2a8.5 8.5 0 1 0 17 0a8.5 8.5 0 1 0-17 0M315.8 1236.2a8.5 8.5 0 1 0 17 0a8.5 8.5 0 1 0-17 0M316.9 1235.8a8.5 8.5 0 1 0 17 0a8.5 8.5 0 1 0-17 0M318 1236.1a8.5 8.5 0 1 0 17 0a8.5 8.5 0 1 0-17 0M319.1 1235.9a8.5 8.5 0 1 0 17 0a8.5 8.5 0 1 0-17 0M320.2 1235.7a8.5 8.5 0 1 0 17 0a8.5 8.5 0 1 0-17 0M321.3 1236.4a8.5 8.5 0 1 0 17 0a8.5 8.5 0 1 0-17 0M322.4 1235.7a8.5 8.5 0 1 0 17 0a8.5 8.5 0 1 0-17 0M323.5 1236a8.5 8.5 0 1 0 17 0a8.5 8.5 0 1 0-17 0M324.6 1236.2a8.5 8.5 0 1 0 17 0a8.5 8.5 0 1 0-17 0M325.7 1236a8.5 8.5 0 1 0 17 0a8.5 8.5 0 1 0-17 0M326.8 1235.7a8.5 8.5 0 1 0 17 0a8.5 8.5 0 1 0-17 0M327.9 1235.9a8.5 8.5 0 1 0 17 0a8.5 8.5 0 1 0-17 0M329 1235.9a8.5 8.5 0 1 0 17 0a8.5 8.5 0 1 0-17 0M330.1 1236.2a8.5 8.5 0 1 0 17 0a8.5 8.5 0 1 0-17 0M331.2 1235.6a8.5 8.5 0 1 0 17 0a8.5 8.5 0 1 0-17 0M332.3 1236.1a8.5 8.5 0 1 0 17 0a8.5 8.5 0 1 0-17 0M333.4 1235.9a8.5 8.5 0 1 0 17 0a8.5 8.5 0 1 0-17 0M334.5 1236a8.5 8.5 0 1 0 17 0a8.5 8.5 0 1 0-17 0M335.6 1236.5a8.5 8.5 0 1 0 17 0a8.5 8.5 0 1 0-17 0M336.7 1236.3a8.5 8.5 0 1 0 17 0a8.5 8.5 0 1 0-17 0M337.8 1236.4a8.5 8.5 0 1 0 17 0a8.5 8.5 0 1 0-17 0M338.9 1236.6a8.5 8.5 0 1 0 17 0a8.5 8.5 0 1 0-17 0M340 1236.8a8.5 8.5 0 1 0 17 0a8.5 8.5 0 1 0-17 0M341.1 1236.4a8.5 8.5 0 1 0 17 0a8.5 8.5 0 1 0-17 0M342.2 1236.5a8.5 8.5 0 1 0 17 0a8.5 8.5 0 1 0-17 0M343.3 1236.4a8.5 8.5 0 1 0 17 0a8.5 8.5 0 1 0-17 0M344.4 1236.3a8.5 8.5 0 1 0 17 0a8.5 8.5 0 1 0-17 0M345.5 1236.4a8.5 8.5 0 1 0 17 0a8.5 8.5 0 1 0-17 0M346.6 1236.1a8.5 8.5 0 1 0 17 0a8.5 8.5 0 1 0-17 0M347.7 1236.1a8.5 8.5 0 1 0 17 0a8.5 8.5 0 1 0-17 0M348.8 1235.9a8.5 8.5 0 1 0 17 0a8.5 8.5 0 1 0-17 0M349.9 1236.2a8.5 8.5 0 1 0 17 0a8.5 8.5 0 1 0-17 0M351 1235.9a8.5 8.5 0 1 0 17 0a8.5 8.5 0 1 0-17 0M352.1 1236a8.5 8.5 0 1 0 17 0a8.5 8.5 0 1 0-17 0M353.2 1236a8.5 8.5 0 1 0 17 0a8.5 8.5 0 1 0-17 0M354.3 1235.3a8.5 8.5 0 1 0 17 0a8.5 8.5 0 1 0-17 0M355.4 1235.6a8.5 8.5 0 1 0 17 0a8.5 8.5 0 1 0-17 0M356.5 1235.9a8.5 8.5 0 1 0 17 0a8.5 8.5 0 1 0-17 0M357.6 1235.9a8.5 8.5 0 1 0 17 0a8.5 8.5 0 1 0-17 0M358.7 1235.2a8.5 8.5 0 1 0 17 0a8.5 8.5 0 1 0-17 0M359.8 1235.3a8.5 8.5 0 1 0 17 0a8.5 8.5 0 1 0-17 0M360.9 1235.7a8.5 8.5 0 1 0 17 0a8.5 8.5 0 1 0-17 0M362 1235.4a8.5 8.5 0 1 0 17 0a8.5 8.5 0 1 0-17 0M363.1 1235.6a8.5 8.5 0 1 0 17 0a8.5 8.5 0 1 0-17 0M364.2 1235.5a8.5 8.5 0 1 0 17 0a8.5 8.5 0 1 0-17 0M365.3 1236.1a8.5 8.5 0 1 0 17 0a8.5 8.5 0 1 0-17 0M366.4 1236.3a8.5 8.5 0 1 0 17 0a8.5 8.5 0 1 0-17 0M367.5 1236.4a8.5 8.5 0 1 0 17 0a8.5 8.5 0 1 0-17 0M368.6 1235.8a8.5 8.5 0 1 0 17 0a8.5 8.5 0 1 0-17 0M369.7 1236.3a8.5 8.5 0 1 0 17 0a8.5 8.5 0 1 0-17 0M370.8 1236.3a8.5 8.5 0 1 0 17 0a8.5 8.5 0 1 0-17 0M371.9 1235.8a8.5 8.5 0 1 0 17 0a8.5 8.5 0 1 0-17 0M373 1236.4a8.5 8.5 0 1 0 17 0a8.5 8.5 0 1 0-17 0M374.1 1236.5a8.5 8.5 0 1 0 17 0a8.5 8.5 0 1 0-17 0M375.2 1235.8a8.5 8.5 0 1 0 17 0a8.5 8.5 0 1 0-17 0M376.3 1236.4a8.5 8.5 0 1 0 17 0a8.5 8.5 0 1 0-17 0M377.4 1235.9a8.5 8.5 0 1 0 17 0a8.5 8.5 0 1 0-17 0M378.5 1236a8.5 8.5 0 1 0 17 0a8.5 8.5 0 1 0-17 0M379.6 1236.5a8.5 8.5 0 1 0 17 0a8.5 8.5 0 1 0-17 0M380.7 1236.4a8.5 8.5 0 1 0 17 0a8.5 8.5 0 1 0-17 0M381.8 1235.9a8.5 8.5 0 1 0 17 0a8.5 8.5 0 1 0-17 0M382.9 1236.2a8.5 8.5 0 1 0 17 0a8.5 8.5 0 1 0-17 0M384 1236.4a8.5 8.5 0 1 0 17 0a8.5 8.5 0 1 0-17 0M385.1 1236.4a8.5 8.5 0 1 0 17 0a8.5 8.5 0 1 0-17 0M386.2 1236.3a8.5 8.5 0 1 0 17 0a8.5 8.5 0 1 0-17 0M387.3 1236.6a8.5 8.5 0 1 0 17 0a8.5 8.5 0 1 0-17 0M388.4 1237.1a8.5 8.5 0 1 0 17 0a8.5 8.5 0 1 0-17 0M389.5 1236.5a8.5 8.5 0 1 0 17 0a8.5 8.5 0 1 0-17 0M390.6 1237.1a8.5 8.5 0 1 0 17 0a8.5 8.5 0 1 0-17 0M391.7 1237a8.5 8.5 0 1 0 17 0a8.5 8.5 0 1 0-17 0M392.8 1236.7a8.5 8.5 0 1 0 17 0a8.5 8.5 0 1 0-17 0M393.9 1237a8.5 8.5 0 1 0 17 0a8.5 8.5 0 1 0-17 0M395 1237.3a8.5 8.5 0 1 0 17 0a8.5 8.5 0 1 0-17 0M396.1 1237.1a8.5 8.5 0 1 0 17 0a8.5 8.5 0 1 0-17 0M397.2 1236.7a8.5 8.5 0 1 0 17 0a8.5 8.5 0 1 0-17 0M398.3 1237.4a8.5 8.5 0 1 0 17 0a8.5 8.5 0 1 0-17 0M399.4 1237.2a8.5 8.5 0 1 0 17 0a8.5 8.5 0 1 0-17 0M400.5 1237.2a8.5 8.5 0 1 0 17 0a8.5 8.5 0 1 0-17 0M401.6 1236.4a8.5 8.5 0 1 0 17 0a8.5 8.5 0 1 0-17 0M402.7 1236.4a8.5 8.5 0 1 0 17 0a8.5 8.5 0 1 0-17 0M403.8 1236.1a8.5 8.5 0 1 0 17 0a8.5 8.5 0 1 0-17 0M404.9 1236.8a8.5 8.5 0 1 0 17 0a8.5 8.5 0 1 0-17 0M406 1236.2a8.5 8.5 0 1 0 17 0a8.5 8.5 0 1 0-17 0M407.1 1236.1a8.5 8.5 0 1 0 17 0a8.5 8.5 0 1 0-17 0M408.2 1236.3a8.5 8.5 0 1 0 17 0a8.5 8.5 0 1 0-17 0M409.3 1236.8a8.5 8.5 0 1 0 17 0a8.5 8.5 0 1 0-17 0M410.4 1236.7a8.5 8.5 0 1 0 17 0a8.5 8.5 0 1 0-17 0M411.5 1236.3a8.5 8.5 0 1 0 17 0a8.5 8.5 0 1 0-17 0M412.6 1236.2a8.5 8.5 0 1 0 17 0a8.5 8.5 0 1 0-17 0M413.7 1237a8.5 8.5 0 1 0 17 0a8.5 8.5 0 1 0-17 0M414.8 1236.7a8.5 8.5 0 1 0 17 0a8.5 8.5 0 1 0-17 0M415.9 1236.8a8.5 8.5 0 1 0 17 0a8.5 8.5 0 1 0-17 0M417 1236.3a8.5 8.5 0 1 0 17 0a8.5 8.5 0 1 0-17 0M418.1 1236.3a8.5 8.5 0 1 0 17 0a8.5 8.5 0 1 0-17 0M419.2 1236.8a8.5 8.5 0 1 0 17 0a8.5 8.5 0 1 0-17 0M420.3 1236.6a8.5 8.5 0 1 0 17 0a8.5 8.5 0 1 0-17 0M421.4 1236.2a8.5 8.5 0 1 0 17 0a8.5 8.5 0 1 0-17 0M422.5 1237a8.5 8.5 0 1 0 17 0a8.5 8.5 0 1 0-17 0M423.6 1236.6a8.5 8.5 0 1 0 17 0a8.5 8.5 0 1 0-17 0M424.7 1236.7a8.5 8.5 0 1 0 17 0a8.5 8.5 0 1 0-17 0M425.8 1236a8.5 8.5 0 1 0 17 0a8.5 8.5 0 1 0-17 0M426.9 1236.6a8.5 8.5 0 1 0 17 0a8.5 8.5 0 1 0-17 0M428 1235.9a8.5 8.5 0 1 0 17 0a8.5 8.5 0 1 0-17 0M429.1 1236.5a8.5 8.5 0 1 0 17 0a8.5 8.5 0 1 0-17 0M430.2 1236.2a8.5 8.5 0 1 0 17 0a8.5 8.5 0 1 0-17 0M431.3 1236a8.5 8.5 0 1 0 17 0a8.5 8.5 0 1 0-17 0M432.4 1236.3a8.5 8.5 0 1 0 17 0a8.5 8.5 0 1 0-17 0M433.5 1236.6a8.5 8.5 0 1 0 17 0a8.5 8.5 0 1 0-17 0M434.6 1236.1a8.5 8.5 0 1 0 17 0a8.5 8.5 0 1 0-17 0M435.7 1236a8.5 8.5 0 1 0 17 0a8.5 8.5 0 1 0-17 0M436.8 1236.5a8.5 8.5 0 1 0 17 0a8.5 8.5 0 1 0-17 0M437.9 1236.3a8.5 8.5 0 1 0 17 0a8.5 8.5 0 1 0-17 0M439 1236.3a8.5 8.5 0 1 0 17 0a8.5 8.5 0 1 0-17 0M440.1 1236.4a8.5 8.5 0 1 0 17 0a8.5 8.5 0 1 0-17 0M441.2 1236.4a8.5 8.5 0 1 0 17 0a8.5 8.5 0 1 0-17 0M442.3 1236.6a8.5 8.5 0 1 0 17 0a8.5 8.5 0 1 0-17 0M443.4 1236.8a8.5 8.5 0 1 0 17 0a8.5 8.5 0 1 0-17 0M444.5 1236.8a8.5 8.5 0 1 0 17 0a8.5 8.5 0 1 0-17 0M445.6 1237.2a8.5 8.5 0 1 0 17 0a8.5 8.5 0 1 0-17 0M446.7 1236.7a8.5 8.5 0 1 0 17 0a8.5 8.5 0 1 0-17 0M447.8 1236.9a8.5 8.5 0 1 0 17 0a8.5 8.5 0 1 0-17 0M448.9 1236.5a8.5 8.5 0 1 0 17 0a8.5 8.5 0 1 0-17 0M450 1236.6a8.5 8.5 0 1 0 17 0a8.5 8.5 0 1 0-17 0M451.1 1236.2a8.5 8.5 0 1 0 17 0a8.5 8.5 0 1 0-17 0M452.2 1236.3a8.5 8.5 0 1 0 17 0a8.5 8.5 0 1 0-17 0M453.3 1236a8.5 8.5 0 1 0 17 0a8.5 8.5 0 1 0-17 0M454.4 1236.5a8.5 8.5 0 1 0 17 0a8.5 8.5 0 1 0-17 0M455.5 1236.3a8.5 8.5 0 1 0 17 0a8.5 8.5 0 1 0-17 0M456.6 1235.9a8.5 8.5 0 1 0 17 0a8.5 8.5 0 1 0-17 0M457.7 1236.1a8.5 8.5 0 1 0 17 0a8.5 8.5 0 1 0-17 0M458.8 1236.5a8.5 8.5 0 1 0 17 0a8.5 8.5 0 1 0-17 0M459.9 1235.7a8.5 8.5 0 1 0 17 0a8.5 8.5 0 1 0-17 0M461 1236.3a8.5 8.5 0 1 0 17 0a8.5 8.5 0 1 0-17 0M462.1 1236a8.5 8.5 0 1 0 17 0a8.5 8.5 0 1 0-17 0M463.2 1236a8.5 8.5 0 1 0 17 0a8.5 8.5 0 1 0-17 0M464.3 1236.4a8.5 8.5 0 1 0 17 0a8.5 8.5 0 1 0-17 0M465.4 1236a8.5 8.5 0 1 0 17 0a8.5 8.5 0 1 0-17 0M466.5 1236.1a8.5 8.5 0 1 0 17 0a8.5 8.5 0 1 0-17 0M467.6 1236.3a8.5 8.5 0 1 0 17 0a8.5 8.5 0 1 0-17 0M468.7 1236.5a8.5 8.5 0 1 0 17 0a8.5 8.5 0 1 0-17 0M469.8 1235.9a8.5 8.5 0 1 0 17 0a8.5 8.5 0 1 0-17 0M470.9 1236.3a8.5 8.5 0 1 0 17 0a8.5 8.5 0 1 0-17 0M472 1236.2a8.5 8.5 0 1 0 17 0a8.5 8.5 0 1 0-17 0M473.1 1236a8.5 8.5 0 1 0 17 0a8.5 8.5 0 1 0-17 0M474.2 1235.7a8.5 8.5 0 1 0 17 0a8.5 8.5 0 1 0-17 0M475.3 1235.6a8.5 8.5 0 1 0 17 0a8.5 8.5 0 1 0-17 0M476.4 1235.2a8.5 8.5 0 1 0 17 0a8.5 8.5 0 1 0-17 0M477.5 1235.2a8.5 8.5 0 1 0 17 0a8.5 8.5 0 1 0-17 0M478.6 1235.1a8.5 8.5 0 1 0 17 0a8.5 8.5 0 1 0-17 0M479.7 1235.6a8.5 8.5 0 1 0 17 0a8.5 8.5 0 1 0-17 0M480.8 1235.2a8.5 8.5 0 1 0 17 0a8.5 8.5 0 1 0-17 0M481.9 1235a8.5 8.5 0 1 0 17 0a8.5 8.5 0 1 0-17 0M483 1235a8.5 8.5 0 1 0 17 0a8.5 8.5 0 1 0-17 0M484.1 1235.7a8.5 8.5 0 1 0 17 0a8.5 8.5 0 1 0-17 0M485.2 1235.8a8.5 8.5 0 1 0 17 0a8.5 8.5 0 1 0-17 0M486.3 1235.6a8.5 8.5 0 1 0 17 0a8.5 8.5 0 1 0-17 0M487.4 1235.4a8.5 8.5 0 1 0 17 0a8.5 8.5 0 1 0-17 0M488.5 1235.4a8.5 8.5 0 1 0 17 0a8.5 8.5 0 1 0-17 0M489.6 1235.6a8.5 8.5 0 1 0 17 0a8.5 8.5 0 1 0-17 0M490.7 1235.9a8.5 8.5 0 1 0 17 0a8.5 8.5 0 1 0-17 0M491.8 1235.7a8.5 8.5 0 1 0 17 0a8.5 8.5 0 1 0-17 0M492.9 1236.1a8.5 8.5 0 1 0 17 0a8.5 8.5 0 1 0-17 0M494 1236a8.5 8.5 0 1 0 17 0a8.5 8.5 0 1 0-17 0M495.1 1236.7a8.5 8.5 0 1 0 17 0a8.5 8.5 0 1 0-17 0M496.2 1236.8a8.5 8.5 0 1 0 17 0a8.5 8.5 0 1 0-17 0M497.3 1236.4a8.5 8.5 0 1 0 17 0a8.5 8.5 0 1 0-17 0M498.4 1236.2a8.5 8.5 0 1 0 17 0a8.5 8.5 0 1 0-17 0M499.5 1236.8a8.5 8.5 0 1 0 17 0a8.5 8.5 0 1 0-17 0M500.6 1236.2a8.5 8.5 0 1 0 17 0a8.5 8.5 0 1 0-17 0M501.7 1236.2a8.5 8.5 0 1 0 17 0a8.5 8.5 0 1 0-17 0M502.8 1235.8a8.5 8.5 0 1 0 17 0a8.5 8.5 0 1 0-17 0M503.9 1236.1a8.5 8.5 0 1 0 17 0a8.5 8.5 0 1 0-17 0M505 1236.2a8.5 8.5 0 1 0 17 0a8.5 8.5 0 1 0-17 0M506.1 1236.2a8.5 8.5 0 1 0 17 0a8.5 8.5 0 1 0-17 0M507.2 1235.8a8.5 8.5 0 1 0 17 0a8.5 8.5 0 1 0-17 0M508.3 1236.1a8.5 8.5 0 1 0 17 0a8.5 8.5 0 1 0-17 0M509.4 1235.6a8.5 8.5 0 1 0 17 0a8.5 8.5 0 1 0-17 0M510.5 1235.9a8.5 8.5 0 1 0 17 0a8.5 8.5 0 1 0-17 0M511.6 1235.8a8.5 8.5 0 1 0 17 0a8.5 8.5 0 1 0-17 0M512.7 1236.1a8.5 8.5 0 1 0 17 0a8.5 8.5 0 1 0-17 0M513.8 1235.8a8.5 8.5 0 1 0 17 0a8.5 8.5 0 1 0-17 0M514.9 1235.8a8.5 8.5 0 1 0 17 0a8.5 8.5 0 1 0-17 0M516 1236.2a8.5 8.5 0 1 0 17 0a8.5 8.5 0 1 0-17 0M517.1 1236.2a8.5 8.5 0 1 0 17 0a8.5 8.5 0 1 0-17 0M518.2 1236.5a8.5 8.5 0 1 0 17 0a8.5 8.5 0 1 0-17 0M519.3 1236.5a8.5 8.5 0 1 0 17 0a8.5 8.5 0 1 0-17 0M520.4 1236.7a8.5 8.5 0 1 0 17 0a8.5 8.5 0 1 0-17 0M521.5 1236.6a8.5 8.5 0 1 0 17 0a8.5 8.5 0 1 0-17 0M522.6 1236.7a8.5 8.5 0 1 0 17 0a8.5 8.5 0 1 0-17 0M523.7 1236.8a8.5 8.5 0 1 0 17 0a8.5 8.5 0 1 0-17 0M524.8 1236.3a8.5 8.5 0 1 0 17 0a8.5 8.5 0 1 0-17 0M525.9 1236.2a8.5 8.5 0 1 0 17 0a8.5 8.5 0 1 0-17 0M527 1236.7a8.5 8.5 0 1 0 17 0a8.5 8.5 0 1 0-17 0M528.1 1235.9a8.5 8.5 0 1 0 17 0a8.5 8.5 0 1 0-17 0M529.2 1236.3a8.5 8.5 0 1 0 17 0a8.5 8.5 0 1 0-17 0M530.3 1236.2a8.5 8.5 0 1 0 17 0a8.5 8.5 0 1 0-17 0M531.4 1235.6a8.5 8.5 0 1 0 17 0a8.5 8.5 0 1 0-17 0M532.5 1236.2a8.5 8.5 0 1 0 17 0a8.5 8.5 0 1 0-17 0M533.6 1236.3a8.5 8.5 0 1 0 17 0a8.5 8.5 0 1 0-17 0M534.7 1236a8.5 8.5 0 1 0 17 0a8.5 8.5 0 1 0-17 0M535.8 1236.1a8.5 8.5 0 1 0 17 0a8.5 8.5 0 1 0-17 0M536.9 1236.3a8.5 8.5 0 1 0 17 0a8.5 8.5 0 1 0-17 0M538 1235.7a8.5 8.5 0 1 0 17 0a8.5 8.5 0 1 0-17 0M539.1 1236.2a8.5 8.5 0 1 0 17 0a8.5 8.5 0 1 0-17 0M540.2 1236.2a8.5 8.5 0 1 0 17 0a8.5 8.5 0 1 0-17 0M541.3 1236.7a8.5 8.5 0 1 0 17 0a8.5 8.5 0 1 0-17 0M542.4 1236.8a8.5 8.5 0 1 0 17 0a8.5 8.5 0 1 0-17 0M543.5 1236.9a8.5 8.5 0 1 0 17 0a8.5 8.5 0 1 0-17 0M544.6 1236.8a8.5 8.5 0 1 0 17 0a8.5 8.5 0 1 0-17 0M545.7 1237.1a8.5 8.5 0 1 0 17 0a8.5 8.5 0 1 0-17 0M546.8 1237a8.5 8.5 0 1 0 17 0a8.5 8.5 0 1 0-17 0M547.9 1237.1a8.5 8.5 0 1 0 17 0a8.5 8.5 0 1 0-17 0M549 1236.7a8.5 8.5 0 1 0 17 0a8.5 8.5 0 1 0-17 0M550.1 1236.5a8.5 8.5 0 1 0 17 0a8.5 8.5 0 1 0-17 0M551.2 1236.6a8.5 8.5 0 1 0 17 0a8.5 8.5 0 1 0-17 0M552.3 1236.8a8.5 8.5 0 1 0 17 0a8.5 8.5 0 1 0-17 0M553.4 1236.6a8.5 8.5 0 1 0 17 0a8.5 8.5 0 1 0-17 0M554.5 1237.2a8.5 8.5 0 1 0 17 0a8.5 8.5 0 1 0-17 0M555.6 1236.9a8.5 8.5 0 1 0 17 0a8.5 8.5 0 1 0-17 0M556.7 1236.9a8.5 8.5 0 1 0 17 0a8.5 8.5 0 1 0-17 0M557.8 1236.9a8.5 8.5 0 1 0 17 0a8.5 8.5 0 1 0-17 0M558.9 1236.9a8.5 8.5 0 1 0 17 0a8.5 8.5 0 1 0-17 0M560 1236.7a8.5 8.5 0 1 0 17 0a8.5 8.5 0 1 0-17 0M561.1 1236.3a8.5 8.5 0 1 0 17 0a8.5 8.5 0 1 0-17 0M562.2 1237a8.5 8.5 0 1 0 17 0a8.5 8.5 0 1 0-17 0M563.3 1237a8.5 8.5 0 1 0 17 0a8.5 8.5 0 1 0-17 0M564.4 1236.8a8.5 8.5 0 1 0 17 0a8.5 8.5 0 1 0-17 0M565.5 1236.9a8.5 8.5 0 1 0 17 0a8.5 8.5 0 1 0-17 0M566.6 1237.1a8.5 8.5 0 1 0 17 0a8.5 8.5 0 1 0-17 0M567.7 1236.6a8.5 8.5 0 1 0 17 0a8.5 8.5 0 1 0-17 0M568.8 1237.2a8.5 8.5 0 1 0 17 0a8.5 8.5 0 1 0-17 0M569.9 1236.8a8.5 8.5 0 1 0 17 0a8.5 8.5 0 1 0-17 0M571 1236.7a8.5 8.5 0 1 0 17 0a8.5 8.5 0 1 0-17 0M572.1 1236.8a8.5 8.5 0 1 0 17 0a8.5 8.5 0 1 0-17 0M573.2 1237.2a8.5 8.5 0 1 0 17 0a8.5 8.5 0 1 0-17 0M574.3 1236.7a8.5 8.5 0 1 0 17 0a8.5 8.5 0 1 0-17 0M575.4 1237.1a8.5 8.5 0 1 0 17 0a8.5 8.5 0 1 0-17 0M576.5 1237.3a8.5 8.5 0 1 0 17 0a8.5 8.5 0 1 0-17 0M577.6 1236.7a8.5 8.5 0 1 0 17 0a8.5 8.5 0 1 0-17 0M578.7 1236.5a8.5 8.5 0 1 0 17 0a8.5 8.5 0 1 0-17 0M579.8 1236.4a8.5 8.5 0 1 0 17 0a8.5 8.5 0 1 0-17 0M580.9 1236.5a8.5 8.5 0 1 0 17 0a8.5 8.5 0 1 0-17 0M582 1236.5a8.5 8.5 0 1 0 17 0a8.5 8.5 0 1 0-17 0M583.1 1236.2a8.5 8.5 0 1 0 17 0a8.5 8.5 0 1 0-17 0M584.2 1236.2a8.5 8.5 0 1 0 17 0a8.5 8.5 0 1 0-17 0M585.3 1235.6a8.5 8.5 0 1 0 17 0a8.5 8.5 0 1 0-17 0M586.4 1235.6a8.5 8.5 0 1 0 17 0a8.5 8.5 0 1 0-17 0M587.5 1235.6a8.5 8.5 0 1 0 17 0a8.5 8.5 0 1 0-17 0M588.6 1236.1a8.5 8.5 0 1 0 17 0a8.5 8.5 0 1 0-17 0M589.7 1235.7a8.5 8.5 0 1 0 17 0a8.5 8.5 0 1 0-17 0M590.8 1236a8.5 8.5 0 1 0 17 0a8.5 8.5 0 1 0-17 0M591.9 1235.5a8.5 8.5 0 1 0 17 0a8.5 8.5 0 1 0-17 0M593 1235.6a8.5 8.5 0 1 0 17 0a8.5 8.5 0 1 0-17 0M594.1 1235.9a8.5 8.5 0 1 0 17 0a8.5 8.5 0 1 0-17 0M595.2 1236.3a8.5 8.5 0 1 0 17 0a8.5 8.5 0 1 0-17 0M596.3 1236.4a8.5 8.5 0 1 0 17 0a8.5 8.5 0 1 0-17 0M597.4 1236.4a8.5 8.5 0 1 0 17 0a8.5 8.5 0 1 0-17 0M598.5 1236.1a8.5 8.5 0 1 0 17 0a8.5 8.5 0 1 0-17 0M599.6 1236.3a8.5 8.5 0 1 0 17 0a8.5 8.5 0 1 0-17 0M600.7 1236.3a8.5 8.5 0 1 0 17 0a8.5 8.5 0 1 0-17 0M601.8 1236.3a8.5 8.5 0 1 0 17 0a8.5 8.5 0 1 0-17 0M602.9 1235.9a8.5 8.5 0 1 0 17 0a8.5 8.5 0 1 0-17 0M604 1236.6a8.5 8.5 0 1 0 17 0a8.5 8.5 0 1 0-17 0M605.1 1235.9a8.5 8.5 0 1 0 17 0a8.5 8.5 0 1 0-17 0M606.2 1236.6a8.5 8.5 0 1 0 17 0a8.5 8.5 0 1 0-17 0M607.3 1236.5a8.5 8.5 0 1 0 17 0a8.5 8.5 0 1 0-17 0M608.4 1235.6a8.5 8.5 0 1 0 17 0a8.5 8.5 0 1 0-17 0M609.5 1236a8.5 8.5 0 1 0 17 0a8.5 8.5 0 1 0-17 0M610.6 1236.3a8.5 8.5 0 1 0 17 0a8.5 8.5 0 1 0-17 0M611.7 1236.4a8.5 8.5 0 1 0 17 0a8.5 8.5 0 1 0-17 0M612.8 1235.9a8.5 8.5 0 1 0 17 0a8.5 8.5 0 1 0-17 0M613.9 1235.8a8.5 8.5 0 1 0 17 0a8.5 8.5 0 1 0-17 0M615 1235.8a8.5 8.5 0 1 0 17 0a8.5 8.5 0 1 0-17 0M616.1 1236.5a8.5 8.5 0 1 0 17 0a8.5 8.5 0 1 0-17 0M617.2 1235.9a8.5 8.5 0 1 0 17 0a8.5 8.5 0 1 0-17 0M618.3 1236.3a8.5 8.5 0 1 0 17 0a8.5 8.5 0 1 0-17 0M619.4 1236a8.5 8.5 0 1 0 17 0a8.5 8.5 0 1 0-17 0M620.5 1236.4a8.5 8.5 0 1 0 17 0a8.5 8.5 0 1 0-17 0M621.6 1236.8a8.5 8.5 0 1 0 17 0a8.5 8.5 0 1 0-17 0M622.7 1236.1a8.5 8.5 0 1 0 17 0a8.5 8.5 0 1 0-17 0M623.8 1236.7a8.5 8.5 0 1 0 17 0a8.5 8.5 0 1 0-17 0M624.9 1236.4a8.5 8.5 0 1 0 17 0a8.5 8.5 0 1 0-17 0M626 1236.8a8.5 8.5 0 1 0 17 0a8.5 8.5 0 1 0-17 0M627.1 1236.5a8.5 8.5 0 1 0 17 0a8.5 8.5 0 1 0-17 0M628.2 1236a8.5 8.5 0 1 0 17 0a8.5 8.5 0 1 0-17 0M629.3 1236.5a8.5 8.5 0 1 0 17 0a8.5 8.5 0 1 0-17 0M630.4 1236.1a8.5 8.5 0 1 0 17 0a8.5 8.5 0 1 0-17 0M631.5 1235.5a8.5 8.5 0 1 0 17 0a8.5 8.5 0 1 0-17 0M632.6 1235.4a8.5 8.5 0 1 0 17 0a8.5 8.5 0 1 0-17 0M633.7 1235.7a8.5 8.5 0 1 0 17 0a8.5 8.5 0 1 0-17 0M634.8 1235.6a8.5 8.5 0 1 0 17 0a8.5 8.5 0 1 0-17 0M635.9 1235.4a8.5 8.5 0 1 0 17 0a8.5 8.5 0 1 0-17 0M637 1235.2a8.5 8.5 0 1 0 17 0a8.5 8.5 0 1 0-17 0M638.1 1235.3a8.5 8.5 0 1 0 17 0a8.5 8.5 0 1 0-17 0M639.2 1235.3a8.5 8.5 0 1 0 17 0a8.5 8.5 0 1 0-17 0M640.3 1235.8a8.5 8.5 0 1 0 17 0a8.5 8.5 0 1 0-17 0M641.4 1235a8.5 8.5 0 1 0 17 0a8.5 8.5 0 1 0-17 0M642.5 1235.8a8.5 8.5 0 1 0 17 0a8.5 8.5 0 1 0-17 0M643.6 1235.9a8.5 8.5 0 1 0 17 0a8.5 8.5 0 1 0-17 0M644.7 1235.3a8.5 8.5 0 1 0 17 0a8.5 8.5 0 1 0-17 0M645.8 1236.1a8.5 8.5 0 1 0 17 0a8.5 8.5 0 1 0-17 0M646.9 1236a8.5 8.5 0 1 0 17 0a8.5 8.5 0 1 0-17 0M648 1236.2a8.5 8.5 0 1 0 17 0a8.5 8.5 0 1 0-17 0M649.1 1235.7a8.5 8.5 0 1 0 17 0a8.5 8.5 0 1 0-17 0M650.2 1235.9a8.5 8.5 0 1 0 17 0a8.5 8.5 0 1 0-17 0M651.3 1235.9a8.5 8.5 0 1 0 17 0a8.5 8.5 0 1 0-17 0M652.4 1236.5a8.5 8.5 0 1 0 17 0a8.5 8.5 0 1 0-17 0M653.5 1236.1a8.5 8.5 0 1 0 17 0a8.5 8.5 0 1 0-17 0M654.6 1235.9a8.5 8.5 0 1 0 17 0a8.5 8.5 0 1 0-17 0M655.7 1236a8.5 8.5 0 1 0 17 0a8.5 8.5 0 1 0-17 0M656.8 1235.8a8.5 8.5 0 1 0 17 0a8.5 8.5 0 1 0-17 0M657.9 1235.6a8.5 8.5 0 1 0 17 0a8.5 8.5 0 1 0-17 0M659 1235.6a8.5 8.5 0 1 0 17 0a8.5 8.5 0 1 0-17 0M660.1 1236.3a8.5 8.5 0 1 0 17 0a8.5 8.5 0 1 0-17 0M661.2 1235.8a8.5 8.5 0 1 0 17 0a8.5 8.5 0 1 0-17 0M662.3 1236.4a8.5 8.5 0 1 0 17 0a8.5 8.5 0 1 0-17 0M663.4 1235.8a8.5 8.5 0 1 0 17 0a8.5 8.5 0 1 0-17 0M664.5 1235.9a8.5 8.5 0 1 0 17 0a8.5 8.5 0 1 0-17 0M665.6 1236.2a8.5 8.5 0 1 0 17 0a8.5 8.5 0 1 0-17 0M666.7 1236a8.5 8.5 0 1 0 17 0a8.5 8.5 0 1 0-17 0M667.8 1236.2a8.5 8.5 0 1 0 17 0a8.5 8.5 0 1 0-17 0M668.9 1236.9a8.5 8.5 0 1 0 17 0a8.5 8.5 0 1 0-17 0M670 1236.9a8.5 8.5 0 1 0 17 0a8.5 8.5 0 1 0-17 0M671.1 1237a8.5 8.5 0 1 0 17 0a8.5 8.5 0 1 0-17 0M672.2 1236.9a8.5 8.5 0 1 0 17 0a8.5 8.5 0 1 0-17 0M673.3 1237.3a8.5 8.5 0 1 0 17 0a8.5 8.5 0 1 0-17 0M674.4 1237.4a8.5 8.5 0 1 0 17 0a8.5 8.5 0 1 0-17 0M675.5 1237.1a8.5 8.5 0 1 0 17 0a8.5 8.5 0 1 0-17 0M676.6 1237.3a8.5 8.5 0 1 0 17 0a8.5 8.5 0 1 0-17 0M677.7 1236.6a8.5 8.5 0 1 0 17 0a8.5 8.5 0 1 0-17 0M678.8 1237.3a8.5 8.5 0 1 0 17 0a8.5 8.5 0 1 0-17 0M679.9 1237a8.5 8.5 0 1 0 17 0a8.5 8.5 0 1 0-17 0M681 1237.2a8.5 8.5 0 1 0 17 0a8.5 8.5 0 1 0-17 0M682.1 1237a8.5 8.5 0 1 0 17 0a8.5 8.5 0 1 0-17 0M683.2 1236.6a8.5 8.5 0 1 0 17 0a8.5 8.5 0 1 0-17 0M684.3 1236.3a8.5 8.5 0 1 0 17 0a8.5 8.5 0 1 0-17 0M685.4 1237a8.5 8.5 0 1 0 17 0a8.5 8.5 0 1 0-17 0M686.5 1236.2a8.5 8.5 0 1 0 17 0a8.5 8.5 0 1 0-17 0M687.6 1236.4a8.5 8.5 0 1 0 17 0a8.5 8.5 0 1 0-17 0M688.7 1236.3a8.5 8.5 0 1 0 17 0a8.5 8.5 0 1 0-17 0M689.8 1236.2a8.5 8.5 0 1 0 17 0a8.5 8.5 0 1 0-17 0M690.9 1236.6a8.5 8.5 0 1 0 17 0a8.5 8.5 0 1 0-17 0M692 1236.8a8.5 8.5 0 1 0 17 0a8.5 8.5 0 1 0-17 0M693.1 1236.2a8.5 8.5 0 1 0 17 0a8.5 8.5 0 1 0-17 0M694.2 1236.6a8.5 8.5 0 1 0 17 0a8.5 8.5 0 1 0-17 0M695.3 1236.3a8.5 8.5 0 1 0 17 0a8.5 8.5 0 1 0-17 0M696.4 1236.6a8.5 8.5 0 1 0 17 0a8.5 8.5 0 1 0-17 0M697.5 1236.5a8.5 8.5 0 1 0 17 0a8.5 8.5 0 1 0-17 0M698.6 1236.3a8.5 8.5 0 1 0 17 0a8.5 8.5 0 1 0-17 0M699.7 1236.3a8.5 8.5 0 1 0 17 0a8.5 8.5 0 1 0-17 0M700.8 1236.4a8.5 8.5 0 1 0 17 0a8.5 8.5 0 1 0-17 0M701.9 1237a8.5 8.5 0 1 0 17 0a8.5 8.5 0 1 0-17 0M703 1236.7a8.5 8.5 0 1 0 17 0a8.5 8.5 0 1 0-17 0M704.1 1236.4a8.5 8.5 0 1 0 17 0a8.5 8.5 0 1 0-17 0M705.2 1237a8.5 8.5 0 1 0 17 0a8.5 8.5 0 1 0-17 0M706.3 1237a8.5 8.5 0 1 0 17 0a8.5 8.5 0 1 0-17 0M707.4 1236.5a8.5 8.5 0 1 0 17 0a8.5 8.5 0 1 0-17 0M708.5 1236.1a8.5 8.5 0 1 0 17 0a8.5 8.5 0 1 0-17 0M709.6 1236.1a8.5 8.5 0 1 0 17 0a8.5 8.5 0 1 0-17 0M710.7 1236a8.5 8.5 0 1 0 17 0a8.5 8.5 0 1 0-17 0M711.8 1236.2a8.5 8.5 0 1 0 17 0a8.5 8.5 0 1 0-17 0M712.9 1235.9a8.5 8.5 0 1 0 17 0a8.5 8.5 0 1 0-17 0M714 1236a8.5 8.5 0 1 0 17 0a8.5 8.5 0 1 0-17 0M715.1 1236.1a8.5 8.5 0 1 0 17 0a8.5 8.5 0 1 0-17 0M716.2 1236.4a8.5 8.5 0 1 0 17 0a8.5 8.5 0 1 0-17 0M717.3 1236.7a8.5 8.5 0 1 0 17 0a8.5 8.5 0 1 0-17 0M718.4 1236.7a8.5 8.5 0 1 0 17 0a8.5 8.5 0 1 0-17 0M719.5 1236.4a8.5 8.5 0 1 0 17 0a8.5 8.5 0 1 0-17 0M720.6 1236.5a8.5 8.5 0 1 0 17 0a8.5 8.5 0 1 0-17 0M721.7 1236.7a8.5 8.5 0 1 0 17 0a8.5 8.5 0 1 0-17 0M722.8 1236.7a8.5 8.5 0 1 0 17 0a8.5 8.5 0 1 0-17 0M723.9 1236.7a8.5 8.5 0 1 0 17 0a8.5 8.5 0 1 0-17 0M725 1236.6a8.5 8.5 0 1 0 17 0a8.5 8.5 0 1 0-17 0M726.1 1236.8a8.5 8.5 0 1 0 17 0a8.5 8.5 0 1 0-17 0M727.2 1237.5a8.5 8.5 0 1 0 17 0a8.5 8.5 0 1 0-17 0M728.3 1236.7a8.5 8.5 0 1 0 17 0a8.5 8.5 0 1 0-17 0M729.4 1237.1a8.5 8.5 0 1 0 17 0a8.5 8.5 0 1 0-17 0M730.5 1237.1a8.5 8.5 0 1 0 17 0a8.5 8.5 0 1 0-17 0M731.6 1237.3a8.5 8.5 0 1 0 17 0a8.5 8.5 0 1 0-17 0M732.7 1236.6a8.5 8.5 0 1 0 17 0a8.5 8.5 0 1 0-17 0M733.8 1236.6a8.5 8.5 0 1 0 17 0a8.5 8.5 0 1 0-17 0M734.9 1236.4a8.5 8.5 0 1 0 17 0a8.5 8.5 0 1 0-17 0M736 1236.5a8.5 8.5 0 1 0 17 0a8.5 8.5 0 1 0-17 0M737.1 1236.4a8.5 8.5 0 1 0 17 0a8.5 8.5 0 1 0-17 0M738.2 1236.8a8.5 8.5 0 1 0 17 0a8.5 8.5 0 1 0-17 0M739.3 1236.6a8.5 8.5 0 1 0 17 0a8.5 8.5 0 1 0-17 0M740.4 1236.6a8.5 8.5 0 1 0 17 0a8.5 8.5 0 1 0-17 0M741.5 1235.7a8.5 8.5 0 1 0 17 0a8.5 8.5 0 1 0-17 0M742.6 1235.7a8.5 8.5 0 1 0 17 0a8.5 8.5 0 1 0-17 0M743.7 1236.3a8.5 8.5 0 1 0 17 0a8.5 8.5 0 1 0-17 0M744.8 1236.5a8.5 8.5 0 1 0 17 0a8.5 8.5 0 1 0-17 0M745.9 1236.1a8.5 8.5 0 1 0 17 0a8.5 8.5 0 1 0-17 0M747 1236.2a8.5 8.5 0 1 0 17 0a8.5 8.5 0 1 0-17 0M748.1 1235.7a8.5 8.5 0 1 0 17 0a8.5 8.5 0 1 0-17 0M749.2 1236a8.5 8.5 0 1 0 17 0a8.5 8.5 0 1 0-17 0M750.3 1236.5a8.5 8.5 0 1 0 17 0a8.5 8.5 0 1 0-17 0M751.4 1236.4a8.5 8.5 0 1 0 17 0a8.5 8.5 0 1 0-17 0M752.5 1236.5a8.5 8.5 0 1 0 17 0a8.5 8.5 0 1 0-17 0M753.6 1236.5a8.5 8.5 0 1 0 17 0a8.5 8.5 0 1 0-17 0M754.7 1235.8a8.5 8.5 0 1 0 17 0a8.5 8.5 0 1 0-17 0M755.8 1235.6a8.5 8.5 0 1 0 17 0a8.5 8.5 0 1 0-17 0M756.9 1235.6a8.5 8.5 0 1 0 17 0a8.5 8.5 0 1 0-17 0M758 1235.9a8.5 8.5 0 1 0 17 0a8.5 8.5 0 1 0-17 0M759.1 1235.9a8.5 8.5 0 1 0 17 0a8.5 8.5 0 1 0-17 0M760.2 1236.1a8.5 8.5 0 1 0 17 0a8.5 8.5 0 1 0-17 0M761.3 1235.8a8.5 8.5 0 1 0 17 0a8.5 8.5 0 1 0-17 0M762.4 1235.6a8.5 8.5 0 1 0 17 0a8.5 8.5 0 1 0-17 0M763.5 1235.7a8.5 8.5 0 1 0 17 0a8.5 8.5 0 1 0-17 0M764.6 1235.4a8.5 8.5 0 1 0 17 0a8.5 8.5 0 1 0-17 0M765.7 1235.4a8.5 8.5 0 1 0 17 0a8.5 8.5 0 1 0-17 0M766.8 1235a8.5 8.5 0 1 0 17 0a8.5 8.5 0 1 0-17 0M767.9 1235.7a8.5 8.5 0 1 0 17 0a8.5 8.5 0 1 0-17 0M769 1235.2a8.5 8.5 0 1 0 17 0a8.5 8.5 0 1 0-17 0M770.1 1235.9a8.5 8.5 0 1 0 17 0a8.5 8.5 0 1 0-17 0M771.2 1235.8a8.5 8.5 0 1 0 17 0a8.5 8.5 0 1 0-17 0M772.3 1235.6a8.5 8.5 0 1 0 17 0a8.5 8.5 0 1 0-17 0M773.4 1235.5a8.5 8.5 0 1 0 17 0a8.5 8.5 0 1 0-17 0M774.5 1235.7a8.5 8.5 0 1 0 17 0a8.5 8.5 0 1 0-17 0M775.6 1236.2a8.5 8.5 0 1 0 17 0a8.5 8.5 0 1 0-17 0M776.7 1236.3a8.5 8.5 0 1 0 17 0a8.5 8.5 0 1 0-17 0M777.8 1235.9a8.5 8.5 0 1 0 17 0a8.5 8.5 0 1 0-17 0M778.9 1235.9a8.5 8.5 0 1 0 17 0a8.5 8.5 0 1 0-17 0M780 1236.4a8.5 8.5 0 1 0 17 0a8.5 8.5 0 1 0-17 0M781.1 1236.4a8.5 8.5 0 1 0 17 0a8.5 8.5 0 1 0-17 0M782.2 1236.3a8.5 8.5 0 1 0 17 0a8.5 8.5 0 1 0-17 0M783.3 1236.1a8.5 8.5 0 1 0 17 0a8.5 8.5 0 1 0-17 0M784.4 1236.4a8.5 8.5 0 1 0 17 0a8.5 8.5 0 1 0-17 0M785.5 1235.8a8.5 8.5 0 1 0 17 0a8.5 8.5 0 1 0-17 0M786.6 1236a8.5 8.5 0 1 0 17 0a8.5 8.5 0 1 0-17 0M787.7 1236.1a8.5 8.5 0 1 0 17 0a8.5 8.5 0 1 0-17 0M788.8 1236.5a8.5 8.5 0 1 0 17 0a8.5 8.5 0 1 0-17 0M789.9 1236.2a8.5 8.5 0 1 0 17 0a8.5 8.5 0 1 0-17 0M791 1236.4a8.5 8.5 0 1 0 17 0a8.5 8.5 0 1 0-17 0M792.1 1236a8.5 8.5 0 1 0 17 0a8.5 8.5 0 1 0-17 0M793.2 1235.8a8.5 8.5 0 1 0 17 0a8.5 8.5 0 1 0-17 0M794.3 1235.8a8.5 8.5 0 1 0 17 0a8.5 8.5 0 1 0-17 0M795.4 1236.5a8.5 8.5 0 1 0 17 0a8.5 8.5 0 1 0-17 0M796.5 1236.3a8.5 8.5 0 1 0 17 0a8.5 8.5 0 1 0-17 0M797.6 1236a8.5 8.5 0 1 0 17 0a8.5 8.5 0 1 0-17 0M798.7 1235.8a8.5 8.5 0 1 0 17 0a8.5 8.5 0 1 0-17 0M799.8 1236.2a8.5 8.5 0 1 0 17 0a8.5 8.5 0 1 0-17 0M800.9 1236.5a8.5 8.5 0 1 0 17 0a8.5 8.5 0 1 0-17 0M802 1236.3a8.5 8.5 0 1 0 17 0a8.5 8.5 0 1 0-17 0M803.1 1236.1a8.5 8.5 0 1 0 17 0a8.5 8.5 0 1 0-17 0M804.2 1236.5a8.5 8.5 0 1 0 17 0a8.5 8.5 0 1 0-17 0M805.3 1236.8a8.5 8.5 0 1 0 17 0a8.5 8.5 0 1 0-17 0M806.4 1236.1a8.5 8.5 0 1 0 17 0a8.5 8.5 0 1 0-17 0M807.5 1235.9a8.5 8.5 0 1 0 17 0a8.5 8.5 0 1 0-17 0M808.6 1236.1a8.5 8.5 0 1 0 17 0a8.5 8.5 0 1 0-17 0M809.7 1236.1a8.5 8.5 0 1 0 17 0a8.5 8.5 0 1 0-17 0M810.8 1236.3a8.5 8.5 0 1 0 17 0a8.5 8.5 0 1 0-17 0M811.9 1235.8a8.5 8.5 0 1 0 17 0a8.5 8.5 0 1 0-17 0M813 1236.2a8.5 8.5 0 1 0 17 0a8.5 8.5 0 1 0-17 0M814.1 1236.1a8.5 8.5 0 1 0 17 0a8.5 8.5 0 1 0-17 0M815.2 1235.9a8.5 8.5 0 1 0 17 0a8.5 8.5 0 1 0-17 0M816.3 1235.5a8.5 8.5 0 1 0 17 0a8.5 8.5 0 1 0-17 0M817.4 1236.2a8.5 8.5 0 1 0 17 0a8.5 8.5 0 1 0-17 0M818.5 1235.7a8.5 8.5 0 1 0 17 0a8.5 8.5 0 1 0-17 0M819.6 1236.2a8.5 8.5 0 1 0 17 0a8.5 8.5 0 1 0-17 0M820.7 1235.7a8.5 8.5 0 1 0 17 0a8.5 8.5 0 1 0-17 0M821.8 1235.8a8.5 8.5 0 1 0 17 0a8.5 8.5 0 1 0-17 0M822.9 1236.3a8.5 8.5 0 1 0 17 0a8.5 8.5 0 1 0-17 0M824 1236a8.5 8.5 0 1 0 17 0a8.5 8.5 0 1 0-17 0M825.1 1236.8a8.5 8.5 0 1 0 17 0a8.5 8.5 0 1 0-17 0M826.2 1236.5a8.5 8.5 0 1 0 17 0a8.5 8.5 0 1 0-17 0M827.3 1236.3a8.5 8.5 0 1 0 17 0a8.5 8.5 0 1 0-17 0M828.4 1236.4a8.5 8.5 0 1 0 17 0a8.5 8.5 0 1 0-17 0M829.5 1236.7a8.5 8.5 0 1 0 17 0a8.5 8.5 0 1 0-17 0M830.6 1237a8.5 8.5 0 1 0 17 0a8.5 8.5 0 1 0-17 0M831.7 1237.3a8.5 8.5 0 1 0 17 0a8.5 8.5 0 1 0-17 0M832.8 1236.6a8.5 8.5 0 1 0 17 0a8.5 8.5 0 1 0-17 0M833.9 1236.9a8.5 8.5 0 1 0 17 0a8.5 8.5 0 1 0-17 0M835 1236.7a8.5 8.5 0 1 0 17 0a8.5 8.5 0 1 0-17 0M836.1 1237.4a8.5 8.5 0 1 0 17 0a8.5 8.5 0 1 0-17 0M837.2 1236.6a8.5 8.5 0 1 0 17 0a8.5 8.5 0 1 0-17 0M838.3 1236.5a8.5 8.5 0 1 0 17 0a8.5 8.5 0 1 0-17 0M839.4 1236.4a8.5 8.5 0 1 0 17 0a8.5 8.5 0 1 0-17 0M840.5 1236.7a8.5 8.5 0 1 0 17 0a8.5 8.5 0 1 0-17 0M841.6 1237.1a8.5 8.5 0 1 0 17 0a8.5 8.5 0 1 0-17 0M842.7 1237.1a8.5 8.5 0 1 0 17 0a8.5 8.5 0 1 0-17 0M843.8 1237a8.5 8.5 0 1 0 17 0a8.5 8.5 0 1 0-17 0M844.9 1237.2a8.5 8.5 0 1 0 17 0a8.5 8.5 0 1 0-17 0M846 1237.2a8.5 8.5 0 1 0 17 0a8.5 8.5 0 1 0-17 0M847.1 1236.7a8.5 8.5 0 1 0 17 0a8.5 8.5 0 1 0-17 0M848.2 1236.6a8.5 8.5 0 1 0 17 0a8.5 8.5 0 1 0-17 0M849.3 1237.3a8.5 8.5 0 1 0 17 0a8.5 8.5 0 1 0-17 0M850.4 1237.2a8.5 8.5 0 1 0 17 0a8.5 8.5 0 1 0-17 0M851.5 1236.4a8.5 8.5 0 1 0 17 0a8.5 8.5 0 1 0-17 0M852.6 1236.3a8.5 8.5 0 1 0 17 0a8.5 8.5 0 1 0-17 0M853.7 1235.9a8.5 8.5 0 1 0 17 0a8.5 8.5 0 1 0-17 0M854.8 1235.8a8.5 8.5 0 1 0 17 0a8.5 8.5 0 1 0-17 0M855.9 1237.2a8.5 8.5 0 1 0 17 0a8.5 8.5 0 1 0-17 0M857 1237a8.5 8.5 0 1 0 17 0a8.5 8.5 0 1 0-17 0M858.1 1236a8.5 8.5 0 1 0 17 0a8.5 8.5 0 1 0-17 0M859.2 1237.3a8.5 8.5 0 1 0 17 0a8.5 8.5 0 1 0-17 0M860.3 1235.6a8.5 8.5 0 1 0 17 0a8.5 8.5 0 1 0-17 0M861.4 1236a8.5 8.5 0 1 0 17 0a8.5 8.5 0 1 0-17 0M862.5 1236a8.5 8.5 0 1 0 17 0a8.5 8.5 0 1 0-17 0M863.6 1236.5a8.5 8.5 0 1 0 17 0a8.5 8.5 0 1 0-17 0M864.7 1235.3a8.5 8.5 0 1 0 17 0a8.5 8.5 0 1 0-17 0M865.8 1236.5a8.5 8.5 0 1 0 17 0a8.5 8.5 0 1 0-17 0M866.9 1234.5a8.5 8.5 0 1 0 17 0a8.5 8.5 0 1 0-17 0M868 1235.9a8.5 8.5 0 1 0 17 0a8.5 8.5 0 1 0-17 0M869.1 1235.7a8.5 8.5 0 1 0 17 0a8.5 8.5 0 1 0-17 0M870.2 1235.6a8.5 8.5 0 1 0 17 0a8.5 8.5 0 1 0-17 0M871.3 1236a8.5 8.5 0 1 0 17 0a8.5 8.5 0 1 0-17 0M872.4 1235.2a8.5 8.5 0 1 0 17 0a8.5 8.5 0 1 0-17 0M873.5 1235.4a8.5 8.5 0 1 0 17 0a8.5 8.5 0 1 0-17 0M874.6 1234.5a8.5 8.5 0 1 0 17 0a8.5 8.5 0 1 0-17 0M875.7 1236.6a8.5 8.5 0 1 0 17 0a8.5 8.5 0 1 0-17 0M876.8 1236.6a8.5 8.5 0 1 0 17 0a8.5 8.5 0 1 0-17 0M877.9 1234.9a8.5 8.5 0 1 0 17 0a8.5 8.5 0 1 0-17 0M879 1236.6a8.5 8.5 0 1 0 17 0a8.5 8.5 0 1 0-17 0M880.1 1236.1a8.5 8.5 0 1 0 17 0a8.5 8.5 0 1 0-17 0M881.2 1235.6a8.5 8.5 0 1 0 17 0a8.5 8.5 0 1 0-17 0M882.3 1236.7a8.5 8.5 0 1 0 17 0a8.5 8.5 0 1 0-17 0M883.4 1236.2a8.5 8.5 0 1 0 17 0a8.5 8.5 0 1 0-17 0M884.5 1236.7a8.5 8.5 0 1 0 17 0a8.5 8.5 0 1 0-17 0M885.6 1236.4a8.5 8.5 0 1 0 17 0a8.5 8.5 0 1 0-17 0M886.7 1235.5a8.5 8.5 0 1 0 17 0a8.5 8.5 0 1 0-17 0M887.8 1236.2a8.5 8.5 0 1 0 17 0a8.5 8.5 0 1 0-17 0M888.9 1234.9a8.5 8.5 0 1 0 17 0a8.5 8.5 0 1 0-17 0M890 1235.6a8.5 8.5 0 1 0 17 0a8.5 8.5 0 1 0-17 0M891.1 1234.5a8.5 8.5 0 1 0 17 0a8.5 8.5 0 1 0-17 0M892.2 1235.4a8.5 8.5 0 1 0 17 0a8.5 8.5 0 1 0-17 0M893.3 1236.7a8.5 8.5 0 1 0 17 0a8.5 8.5 0 1 0-17 0M894.4 1235.7a8.5 8.5 0 1 0 17 0a8.5 8.5 0 1 0-17 0M895.5 1234.6a8.5 8.5 0 1 0 17 0a8.5 8.5 0 1 0-17 0M896.6 1236a8.5 8.5 0 1 0 17 0a8.5 8.5 0 1 0-17 0M897.7 1235.2a8.5 8.5 0 1 0 17 0a8.5 8.5 0 1 0-17 0M898.8 1235.8a8.5 8.5 0 1 0 17 0a8.5 8.5 0 1 0-17 0M899.9 1236.3a8.5 8.5 0 1 0 17 0a8.5 8.5 0 1 0-17 0M901 1236.4a8.5 8.5 0 1 0 17 0a8.5 8.5 0 1 0-17 0M902.1 1236.1a8.5 8.5 0 1 0 17 0a8.5 8.5 0 1 0-17 0M903.2 1235.8a8.5 8.5 0 1 0 17 0a8.5 8.5 0 1 0-17 0M904.3 1236.2a8.5 8.5 0 1 0 17 0a8.5 8.5 0 1 0-17 0M905.4 1235.3a8.5 8.5 0 1 0 17 0a8.5 8.5 0 1 0-17 0M906.5 1235.2a8.5 8.5 0 1 0 17 0a8.5 8.5 0 1 0-17 0M907.6 1236.5a8.5 8.5 0 1 0 17 0a8.5 8.5 0 1 0-17 0M908.7 1235.7a8.5 8.5 0 1 0 17 0a8.5 8.5 0 1 0-17 0M909.8 1236.4a8.5 8.5 0 1 0 17 0a8.5 8.5 0 1 0-17 0M910.9 1236.1a8.5 8.5 0 1 0 17 0a8.5 8.5 0 1 0-17 0M912 1236.7a8.5 8.5 0 1 0 17 0a8.5 8.5 0 1 0-17 0M913.1 1235.3a8.5 8.5 0 1 0 17 0a8.5 8.5 0 1 0-17 0M914.2 1236.4a8.5 8.5 0 1 0 17 0a8.5 8.5 0 1 0-17 0M915.3 1235.1a8.5 8.5 0 1 0 17 0a8.5 8.5 0 1 0-17 0M916.4 1234.5a8.5 8.5 0 1 0 17 0a8.5 8.5 0 1 0-17 0M917.5 1235.7a8.5 8.5 0 1 0 17 0a8.5 8.5 0 1 0-17 0M918.6 1235.9a8.5 8.5 0 1 0 17 0a8.5 8.5 0 1 0-17 0M919.7 1235.5a8.5 8.5 0 1 0 17 0a8.5 8.5 0 1 0-17 0M920.8 1234.5a8.5 8.5 0 1 0 17 0a8.5 8.5 0 1 0-17 0M921.9 1236a8.5 8.5 0 1 0 17 0a8.5 8.5 0 1 0-17 0M923 1234.7a8.5 8.5 0 1 0 17 0a8.5 8.5 0 1 0-17 0M924.1 1234.6a8.5 8.5 0 1 0 17 0a8.5 8.5 0 1 0-17 0M925.2 1234.3a8.5 8.5 0 1 0 17 0a8.5 8.5 0 1 0-17 0M926.3 1234.4a8.5 8.5 0 1 0 17 0a8.5 8.5 0 1 0-17 0M927.4 1235.4a8.5 8.5 0 1 0 17 0a8.5 8.5 0 1 0-17 0M928.5 1234.1a8.5 8.5 0 1 0 17 0a8.5 8.5 0 1 0-17 0M929.6 1235.4a8.5 8.5 0 1 0 17 0a8.5 8.5 0 1 0-17 0M930.7 1234.7a8.5 8.5 0 1 0 17 0a8.5 8.5 0 1 0-17 0M931.8 1235.6a8.5 8.5 0 1 0 17 0a8.5 8.5 0 1 0-17 0M932.9 1234.8a8.5 8.5 0 1 0 17 0a8.5 8.5 0 1 0-17 0M934 1234.9a8.5 8.5 0 1 0 17 0a8.5 8.5 0 1 0-17 0M935.1 1235.8a8.5 8.5 0 1 0 17 0a8.5 8.5 0 1 0-17 0M936.2 1234.6a8.5 8.5 0 1 0 17 0a8.5 8.5 0 1 0-17 0M937.3 1235.5a8.5 8.5 0 1 0 17 0a8.5 8.5 0 1 0-17 0M938.4 1235a8.5 8.5 0 1 0 17 0a8.5 8.5 0 1 0-17 0M939.5 1235.6a8.5 8.5 0 1 0 17 0a8.5 8.5 0 1 0-17 0M940.6 1235.3a8.5 8.5 0 1 0 17 0a8.5 8.5 0 1 0-17 0M941.7 1236a8.5 8.5 0 1 0 17 0a8.5 8.5 0 1 0-17 0M942.8 1235.7a8.5 8.5 0 1 0 17 0a8.5 8.5 0 1 0-17 0M943.9 1235.5a8.5 8.5 0 1 0 17 0a8.5 8.5 0 1 0-17 0M945 1234.3a8.5 8.5 0 1 0 17 0a8.5 8.5 0 1 0-17 0M946.1 1235.7a8.5 8.5 0 1 0 17 0a8.5 8.5 0 1 0-17 0M947.2 1235.6a8.5 8.5 0 1 0 17 0a8.5 8.5 0 1 0-17 0M948.3 1235.9a8.5 8.5 0 1 0 17 0a8.5 8.5 0 1 0-17 0M949.4 1234.5a8.5 8.5 0 1 0 17 0a8.5 8.5 0 1 0-17 0M950.5 1236a8.5 8.5 0 1 0 17 0a8.5 8.5 0 1 0-17 0M951.6 1235.6a8.5 8.5 0 1 0 17 0a8.5 8.5 0 1 0-17 0M952.7 1235.9a8.5 8.5 0 1 0 17 0a8.5 8.5 0 1 0-17 0M953.8 1235.5a8.5 8.5 0 1 0 17 0a8.5 8.5 0 1 0-17 0M954.9 1236a8.5 8.5 0 1 0 17 0a8.5 8.5 0 1 0-17 0M956 1236a8.5 8.5 0 1 0 17 0a8.5 8.5 0 1 0-17 0M957.1 1236.9a8.5 8.5 0 1 0 17 0a8.5 8.5 0 1 0-17 0M958.2 1236.4a8.5 8.5 0 1 0 17 0a8.5 8.5 0 1 0-17 0M959.3 1236.9a8.5 8.5 0 1 0 17 0a8.5 8.5 0 1 0-17 0M960.4 1236.9a8.5 8.5 0 1 0 17 0a8.5 8.5 0 1 0-17 0M961.5 1236.8a8.5 8.5 0 1 0 17 0a8.5 8.5 0 1 0-17 0M962.6 1237a8.5 8.5 0 1 0 17 0a8.5 8.5 0 1 0-17 0M963.7 1237.1a8.5 8.5 0 1 0 17 0a8.5 8.5 0 1 0-17 0M964.8 1236.5a8.5 8.5 0 1 0 17 0a8.5 8.5 0 1 0-17 0M965.9 1235.9a8.5 8.5 0 1 0 17 0a8.5 8.5 0 1 0-17 0M967 1237a8.5 8.5 0 1 0 17 0a8.5 8.5 0 1 0-17 0M968.1 1235.3a8.5 8.5 0 1 0 17 0a8.5 8.5 0 1 0-17 0M969.2 1235.9a8.5 8.5 0 1 0 17 0a8.5 8.5 0 1 0-17 0M970.3 1235.2a8.5 8.5 0 1 0 17 0a8.5 8.5 0 1 0-17 0M971.4 1236a8.5 8.5 0 1 0 17 0a8.5 8.5 0 1 0-17 0M972.5 1235.4a8.5 8.5 0 1 0 17 0a8.5 8.5 0 1 0-17 0M973.6 1236.3a8.5 8.5 0 1 0 17 0a8.5 8.5 0 1 0-17 0M974.7 1235.9a8.5 8.5 0 1 0 17 0a8.5 8.5 0 1 0-17 0M975.8 1235.6a8.5 8.5 0 1 0 17 0a8.5 8.5 0 1 0-17 0M976.9 1236.1a8.5 8.5 0 1 0 17 0a8.5 8.5 0 1 0-17 0M978 1235.6a8.5 8.5 0 1 0 17 0a8.5 8.5 0 1 0-17 0M979.1 1235.9a8.5 8.5 0 1 0 17 0a8.5 8.5 0 1 0-17 0M980.2 1236.1a8.5 8.5 0 1 0 17 0a8.5 8.5 0 1 0-17 0M981.3 1235.2a8.5 8.5 0 1 0 17 0a8.5 8.5 0 1 0-17 0M982.4 1236.2a8.5 8.5 0 1 0 17 0a8.5 8.5 0 1 0-17 0M983.5 1236.3a8.5 8.5 0 1 0 17 0a8.5 8.5 0 1 0-17 0M984.6 1236.4a8.5 8.5 0 1 0 17 0a8.5 8.5 0 1 0-17 0M985.7 1235.9a8.5 8.5 0 1 0 17 0a8.5 8.5 0 1 0-17 0M986.8 1235.2a8.5 8.5 0 1 0 17 0a8.5 8.5 0 1 0-17 0M987.9 1235.4a8.5 8.5 0 1 0 17 0a8.5 8.5 0 1 0-17 0M989 1236.1a8.5 8.5 0 1 0 17 0a8.5 8.5 0 1 0-17 0M990.1 1235.9a8.5 8.5 0 1 0 17 0a8.5 8.5 0 1 0-17 0M991.2 1236a8.5 8.5 0 1 0 17 0a8.5 8.5 0 1 0-17 0M992.3 1236.3a8.5 8.5 0 1 0 17 0a8.5 8.5 0 1 0-17 0M993.4 1235.5a8.5 8.5 0 1 0 17 0a8.5 8.5 0 1 0-17 0M994.5 1236.5a8.5 8.5 0 1 0 17 0a8.5 8.5 0 1 0-17 0M995.6 1236.1a8.5 8.5 0 1 0 17 0a8.5 8.5 0 1 0-17 0M996.7 1236.7a8.5 8.5 0 1 0 17 0a8.5 8.5 0 1 0-17 0M997.8 1235.6a8.5 8.5 0 1 0 17 0a8.5 8.5 0 1 0-17 0M998.9 1236.3a8.5 8.5 0 1 0 17 0a8.5 8.5 0 1 0-17 0M1000 1237a8.5 8.5 0 1 0 17 0a8.5 8.5 0 1 0-17 0M1001.1 1236.2a8.5 8.5 0 1 0 17 0a8.5 8.5 0 1 0-17 0M1002.2 1235.8a8.5 8.5 0 1 0 17 0a8.5 8.5 0 1 0-17 0M1003.3 1236.5a8.5 8.5 0 1 0 17 0a8.5 8.5 0 1 0-17 0M1004.4 1236.6a8.5 8.5 0 1 0 17 0a8.5 8.5 0 1 0-17 0M1005.5 1236.7a8.5 8.5 0 1 0 17 0a8.5 8.5 0 1 0-17 0M1006.6 1236.1a8.5 8.5 0 1 0 17 0a8.5 8.5 0 1 0-17 0M1007.7 1236.5a8.5 8.5 0 1 0 17 0a8.5 8.5 0 1 0-17 0M1008.8 1236.4a8.5 8.5 0 1 0 17 0a8.5 8.5 0 1 0-17 0M1009.9 1235.7a8.5 8.5 0 1 0 17 0a8.5 8.5 0 1 0-17 0M1011 1235.8a8.5 8.5 0 1 0 17 0a8.5 8.5 0 1 0-17 0M1012.1 1237.4a8.5 8.5 0 1 0 17 0a8.5 8.5 0 1 0-17 0M1013.2 1236.5a8.5 8.5 0 1 0 17 0a8.5 8.5 0 1 0-17 0M1014.3 1236.2a8.5 8.5 0 1 0 17 0a8.5 8.5 0 1 0-17 0M1015.4 1236.8a8.5 8.5 0 1 0 17 0a8.5 8.5 0 1 0-17 0M1016.5 1237a8.5 8.5 0 1 0 17 0a8.5 8.5 0 1 0-17 0M1017.6 1236.6a8.5 8.5 0 1 0 17 0a8.5 8.5 0 1 0-17 0M1018.7 1236a8.5 8.5 0 1 0 17 0a8.5 8.5 0 1 0-17 0M1019.8 1236.8a8.5 8.5 0 1 0 17 0a8.5 8.5 0 1 0-17 0M1020.9 1236.5a8.5 8.5 0 1 0 17 0a8.5 8.5 0 1 0-17 0M1022 1236.6a8.5 8.5 0 1 0 17 0a8.5 8.5 0 1 0-17 0M1023.1 1235.7a8.5 8.5 0 1 0 17 0a8.5 8.5 0 1 0-17 0M1024.2 1236a8.5 8.5 0 1 0 17 0a8.5 8.5 0 1 0-17 0M1025.3 1235.9a8.5 8.5 0 1 0 17 0a8.5 8.5 0 1 0-17 0M1026.4 1235.8a8.5 8.5 0 1 0 17 0a8.5 8.5 0 1 0-17 0M1027.5 1235.7a8.5 8.5 0 1 0 17 0a8.5 8.5 0 1 0-17 0M1028.6 1236.3a8.5 8.5 0 1 0 17 0a8.5 8.5 0 1 0-17 0M1029.7 1235.6a8.5 8.5 0 1 0 17 0a8.5 8.5 0 1 0-17 0M1030.8 1234.5a8.5 8.5 0 1 0 17 0a8.5 8.5 0 1 0-17 0M1031.9 1235.6a8.5 8.5 0 1 0 17 0a8.5 8.5 0 1 0-17 0M1033 1235.7a8.5 8.5 0 1 0 17 0a8.5 8.5 0 1 0-17 0M1034.1 1235.5a8.5 8.5 0 1 0 17 0a8.5 8.5 0 1 0-17 0M1035.2 1235.8a8.5 8.5 0 1 0 17 0a8.5 8.5 0 1 0-17 0M1036.3 1234.5a8.5 8.5 0 1 0 17 0a8.5 8.5 0 1 0-17 0M1037.4 1234.9a8.5 8.5 0 1 0 17 0a8.5 8.5 0 1 0-17 0M1038.5 1235.1a8.5 8.5 0 1 0 17 0a8.5 8.5 0 1 0-17 0M1039.6 1235.8a8.5 8.5 0 1 0 17 0a8.5 8.5 0 1 0-17 0M1040.7 1235.4a8.5 8.5 0 1 0 17 0a8.5 8.5 0 1 0-17 0M1041.8 1234.8a8.5 8.5 0 1 0 17 0a8.5 8.5 0 1 0-17 0M1042.9 1235.3a8.5 8.5 0 1 0 17 0a8.5 8.5 0 1 0-17 0M1044 1234.3a8.5 8.5 0 1 0 17 0a8.5 8.5 0 1 0-17 0M1045.1 1235.9a8.5 8.5 0 1 0 17 0a8.5 8.5 0 1 0-17 0M1046.2 1235.2a8.5 8.5 0 1 0 17 0a8.5 8.5 0 1 0-17 0M1047.3 1234a8.5 8.5 0 1 0 17 0a8.5 8.5 0 1 0-17 0M1048.4 1235.2a8.5 8.5 0 1 0 17 0a8.5 8.5 0 1 0-17 0M1049.5 1235.1a8.5 8.5 0 1 0 17 0a8.5 8.5 0 1 0-17 0M1050.6 1235.7a8.5 8.5 0 1 0 17 0a8.5 8.5 0 1 0-17 0M1051.7 1234.8a8.5 8.5 0 1 0 17 0a8.5 8.5 0 1 0-17 0M1052.8 1234.7a8.5 8.5 0 1 0 17 0a8.5 8.5 0 1 0-17 0M1053.9 1235a8.5 8.5 0 1 0 17 0a8.5 8.5 0 1 0-17 0M1055 1234.3a8.5 8.5 0 1 0 17 0a8.5 8.5 0 1 0-17 0M1056.1 1234.8a8.5 8.5 0 1 0 17 0a8.5 8.5 0 1 0-17 0M1057.2 1236.3a8.5 8.5 0 1 0 17 0a8.5 8.5 0 1 0-17 0M1058.3 1234.8a8.5 8.5 0 1 0 17 0a8.5 8.5 0 1 0-17 0M1059.4 1235.8a8.5 8.5 0 1 0 17 0a8.5 8.5 0 1 0-17 0M1060.5 1236.4a8.5 8.5 0 1 0 17 0a8.5 8.5 0 1 0-17 0M1061.6 1235.2a8.5 8.5 0 1 0 17 0a8.5 8.5 0 1 0-17 0M1062.7 1234.9a8.5 8.5 0 1 0 17 0a8.5 8.5 0 1 0-17 0M1063.8 1236.7a8.5 8.5 0 1 0 17 0a8.5 8.5 0 1 0-17 0M1064.9 1235.3a8.5 8.5 0 1 0 17 0a8.5 8.5 0 1 0-17 0M1066 1236.6a8.5 8.5 0 1 0 17 0a8.5 8.5 0 1 0-17 0M1067.1 1236.2a8.5 8.5 0 1 0 17 0a8.5 8.5 0 1 0-17 0M1068.2 1235.3a8.5 8.5 0 1 0 17 0a8.5 8.5 0 1 0-17 0M1069.3 1235a8.5 8.5 0 1 0 17 0a8.5 8.5 0 1 0-17 0M1070.4 1235a8.5 8.5 0 1 0 17 0a8.5 8.5 0 1 0-17 0M1071.5 1236.2a8.5 8.5 0 1 0 17 0a8.5 8.5 0 1 0-17 0M1072.6 1236.3a8.5 8.5 0 1 0 17 0a8.5 8.5 0 1 0-17 0M1073.7 1235.4a8.5 8.5 0 1 0 17 0a8.5 8.5 0 1 0-17 0M1074.8 1235.9a8.5 8.5 0 1 0 17 0a8.5 8.5 0 1 0-17 0M1075.9 1235.1a8.5 8.5 0 1 0 17 0a8.5 8.5 0 1 0-17 0M1077 1236.4a8.5 8.5 0 1 0 17 0a8.5 8.5 0 1 0-17 0M1078.1 1235.9a8.5 8.5 0 1 0 17 0a8.5 8.5 0 1 0-17 0M1079.2 1234.7a8.5 8.5 0 1 0 17 0a8.5 8.5 0 1 0-17 0M1080.3 1235.7a8.5 8.5 0 1 0 17 0a8.5 8.5 0 1 0-17 0M1081.4 1236.4a8.5 8.5 0 1 0 17 0a8.5 8.5 0 1 0-17 0M1082.5 1236.1a8.5 8.5 0 1 0 17 0a8.5 8.5 0 1 0-17 0M1083.6 1235.1a8.5 8.5 0 1 0 17 0a8.5 8.5 0 1 0-17 0M1084.7 1236.3a8.5 8.5 0 1 0 17 0a8.5 8.5 0 1 0-17 0M1085.8 1236.2a8.5 8.5 0 1 0 17 0a8.5 8.5 0 1 0-17 0M1086.9 1236.2a8.5 8.5 0 1 0 17 0a8.5 8.5 0 1 0-17 0M1088 1236.4a8.5 8.5 0 1 0 17 0a8.5 8.5 0 1 0-17 0M1089.1 1236a8.5 8.5 0 1 0 17 0a8.5 8.5 0 1 0-17 0M1090.2 1236.1a8.5 8.5 0 1 0 17 0a8.5 8.5 0 1 0-17 0M1091.3 1235.1a8.5 8.5 0 1 0 17 0a8.5 8.5 0 1 0-17 0M1092.4 1235.1a8.5 8.5 0 1 0 17 0a8.5 8.5 0 1 0-17 0M1093.5 1235.4a8.5 8.5 0 1 0 17 0a8.5 8.5 0 1 0-17 0M1094.6 1234.4a8.5 8.5 0 1 0 17 0a8.5 8.5 0 1 0-17 0M1095.7 1235.6a8.5 8.5 0 1 0 17 0a8.5 8.5 0 1 0-17 0M1096.8 1234.3a8.5 8.5 0 1 0 17 0a8.5 8.5 0 1 0-17 0M1097.9 1235.2a8.5 8.5 0 1 0 17 0a8.5 8.5 0 1 0-17 0M1099 1235.7a8.5 8.5 0 1 0 17 0a8.5 8.5 0 1 0-17 0M1100.1 1234.8a8.5 8.5 0 1 0 17 0a8.5 8.5 0 1 0-17 0M1101.2 1235.1a8.5 8.5 0 1 0 17 0a8.5 8.5 0 1 0-17 0M1102.3 1236.1a8.5 8.5 0 1 0 17 0a8.5 8.5 0 1 0-17 0M1103.4 1235a8.5 8.5 0 1 0 17 0a8.5 8.5 0 1 0-17 0M1104.5 1236.4a8.5 8.5 0 1 0 17 0a8.5 8.5 0 1 0-17 0M1105.6 1235.3a8.5 8.5 0 1 0 17 0a8.5 8.5 0 1 0-17 0M1106.7 1234.7a8.5 8.5 0 1 0 17 0a8.5 8.5 0 1 0-17 0M1107.8 1235.9a8.5 8.5 0 1 0 17 0a8.5 8.5 0 1 0-17 0M1108.9 1236.4a8.5 8.5 0 1 0 17 0a8.5 8.5 0 1 0-17 0M1110 1236.5a8.5 8.5 0 1 0 17 0a8.5 8.5 0 1 0-17 0M1111.1 1235.2a8.5 8.5 0 1 0 17 0a8.5 8.5 0 1 0-17 0M1112.2 1236.3a8.5 8.5 0 1 0 17 0a8.5 8.5 0 1 0-17 0M1113.3 1235.7a8.5 8.5 0 1 0 17 0a8.5 8.5 0 1 0-17 0M1114.4 1235.5a8.5 8.5 0 1 0 17 0a8.5 8.5 0 1 0-17 0M1115.5 1235.8a8.5 8.5 0 1 0 17 0a8.5 8.5 0 1 0-17 0M1116.6 1236.4a8.5 8.5 0 1 0 17 0a8.5 8.5 0 1 0-17 0M1117.7 1237.1a8.5 8.5 0 1 0 17 0a8.5 8.5 0 1 0-17 0M1118.8 1237a8.5 8.5 0 1 0 17 0a8.5 8.5 0 1 0-17 0M1119.9 1235.8a8.5 8.5 0 1 0 17 0a8.5 8.5 0 1 0-17 0M107.5 1232.8a8.5 8.5 0 1 0 17 0a8.5 8.5 0 1 0-17 0M107.4 1235.6a8.5 8.5 0 1 0 17 0a8.5 8.5 0 1 0-17 0M107.8 1236.3a8.5 8.5 0 1 0 17 0a8.5 8.5 0 1 0-17 0M134.9 1118.4a8.5 8.5 0 1 0 17 0a8.5 8.5 0 1 0-17 0M134.9 1135.3a8.5 8.5 0 1 0 17 0a8.5 8.5 0 1 0-17 0M135.4 1137.1a8.5 8.5 0 1 0 17 0a8.5 8.5 0 1 0-17 0M134.9 1168.2a8.5 8.5 0 1 0 17 0a8.5 8.5 0 1 0-17 0M135.4 1172.4a8.5 8.5 0 1 0 17 0a8.5 8.5 0 1 0-17 0M134.9 1197.4a8.5 8.5 0 1 0 17 0a8.5 8.5 0 1 0-17 0M135.5 1201.5a8.5 8.5 0 1 0 17 0a8.5 8.5 0 1 0-17 0M134.4 1213.9a8.5 8.5 0 1 0 17 0a8.5 8.5 0 1 0-17 0M136.4 1213.9a8.5 8.5 0 1 0 17 0a8.5 8.5 0 1 0-17 0M134.9 1216.7a8.5 8.5 0 1 0 17 0a8.5 8.5 0 1 0-17 0M134.4 1219.5a8.5 8.5 0 1 0 17 0a8.5 8.5 0 1 0-17 0M135.5 1222.2a8.5 8.5 0 1 0 17 0a8.5 8.5 0 1 0-17 0M135 1225a8.5 8.5 0 1 0 17 0a8.5 8.5 0 1 0-17 0M134 1227.7a8.5 8.5 0 1 0 17 0a8.5 8.5 0 1 0-17 0M136 1230.5a8.5 8.5 0 1 0 17 0a8.5 8.5 0 1 0-17 0M133.7 1233.3a8.5 8.5 0 1 0 17 0a8.5 8.5 0 1 0-17 0M135.9 1236a8.5 8.5 0 1 0 17 0a8.5 8.5 0 1 0-17 0M133.9 1236.3a8.5 8.5 0 1 0 17 0a8.5 8.5 0 1 0-17 0M160 1202.9a8.5 8.5 0 1 0 17 0a8.5 8.5 0 1 0-17 0M159.2 1205.7a8.5 8.5 0 1 0 17 0a8.5 8.5 0 1 0-17 0M159.5 1208.4a8.5 8.5 0 1 0 17 0a8.5 8.5 0 1 0-17 0M160.4 1211.2a8.5 8.5 0 1 0 17 0a8.5 8.5 0 1 0-17 0M160.8 1213.9a8.5 8.5 0 1 0 17 0a8.5 8.5 0 1 0-17 0M159.2 1216.7a8.5 8.5 0 1 0 17 0a8.5 8.5 0 1 0-17 0M160 1219.5a8.5 8.5 0 1 0 17 0a8.5 8.5 0 1 0-17 0M160 1222.2a8.5 8.5 0 1 0 17 0a8.5 8.5 0 1 0-17 0M160.5 1225a8.5 8.5 0 1 0 17 0a8.5 8.5 0 1 0-17 0M159.5 1227.7a8.5 8.5 0 1 0 17 0a8.5 8.5 0 1 0-17 0M160 1230.5a8.5 8.5 0 1 0 17 0a8.5 8.5 0 1 0-17 0M159.8 1233.3a8.5 8.5 0 1 0 17 0a8.5 8.5 0 1 0-17 0M160.5 1236a8.5 8.5 0 1 0 17 0a8.5 8.5 0 1 0-17 0M159.6 1236.3a8.5 8.5 0 1 0 17 0a8.5 8.5 0 1 0-17 0M223.1 893.6a8.5 8.5 0 1 0 17 0a8.5 8.5 0 1 0-17 0M223 943.5a8.5 8.5 0 1 0 17 0a8.5 8.5 0 1 0-17 0M223 970.4a8.5 8.5 0 1 0 17 0a8.5 8.5 0 1 0-17 0M223.8 1057.5a8.5 8.5 0 1 0 17 0a8.5 8.5 0 1 0-17 0M222.3 1072.3a8.5 8.5 0 1 0 17 0a8.5 8.5 0 1 0-17 0M224.1 1142a8.5 8.5 0 1 0 17 0a8.5 8.5 0 1 0-17 0M220.5 1157.5a8.5 8.5 0 1 0 17 0a8.5 8.5 0 1 0-17 0M225.5 1157.5a8.5 8.5 0 1 0 17 0a8.5 8.5 0 1 0-17 0M221 1170.7a8.5 8.5 0 1 0 17 0a8.5 8.5 0 1 0-17 0M225.5 1177.5a8.5 8.5 0 1 0 17 0a8.5 8.5 0 1 0-17 0M220.5 1186.9a8.5 8.5 0 1 0 17 0a8.5 8.5 0 1 0-17 0M225.5 1186.9a8.5 8.5 0 1 0 17 0a8.5 8.5 0 1 0-17 0M220.5 1193.7a8.5 8.5 0 1 0 17 0a8.5 8.5 0 1 0-17 0M220.5 1209.7a8.5 8.5 0 1 0 17 0a8.5 8.5 0 1 0-17 0M226.5 1209.7a8.5 8.5 0 1 0 17 0a8.5 8.5 0 1 0-17 0M226.5 1198.3a8.5 8.5 0 1 0 17 0a8.5 8.5 0 1 0-17 0M220 1202a8.5 8.5 0 1 0 17 0a8.5 8.5 0 1 0-17 0M220.5 1214.9a8.5 8.5 0 1 0 17 0a8.5 8.5 0 1 0-17 0M222.3 1217.6a8.5 8.5 0 1 0 17 0a8.5 8.5 0 1 0-17 0M219.6 1220.4a8.5 8.5 0 1 0 17 0a8.5 8.5 0 1 0-17 0M219.4 1223.1a8.5 8.5 0 1 0 17 0a8.5 8.5 0 1 0-17 0M221.3 1225.9a8.5 8.5 0 1 0 17 0a8.5 8.5 0 1 0-17 0M220.5 1228.7a8.5 8.5 0 1 0 17 0a8.5 8.5 0 1 0-17 0M218.9 1231.4a8.5 8.5 0 1 0 17 0a8.5 8.5 0 1 0-17 0M221 1234.2a8.5 8.5 0 1 0 17 0a8.5 8.5 0 1 0-17 0M218.8 1236.3a8.5 8.5 0 1 0 17 0a8.5 8.5 0 1 0-17 0M226 1216.7a8.5 8.5 0 1 0 17 0a8.5 8.5 0 1 0-17 0M227.2 1219.5a8.5 8.5 0 1 0 17 0a8.5 8.5 0 1 0-17 0M226.8 1222.2a8.5 8.5 0 1 0 17 0a8.5 8.5 0 1 0-17 0M227.1 1225a8.5 8.5 0 1 0 17 0a8.5 8.5 0 1 0-17 0M226.5 1227.7a8.5 8.5 0 1 0 17 0a8.5 8.5 0 1 0-17 0M225.4 1230.5a8.5 8.5 0 1 0 17 0a8.5 8.5 0 1 0-17 0M225.6 1233.3a8.5 8.5 0 1 0 17 0a8.5 8.5 0 1 0-17 0M225.6 1236a8.5 8.5 0 1 0 17 0a8.5 8.5 0 1 0-17 0M227.6 1236.3a8.5 8.5 0 1 0 17 0a8.5 8.5 0 1 0-17 0M238.2 1217.6a8.5 8.5 0 1 0 17 0a8.5 8.5 0 1 0-17 0M237.5 1220.4a8.5 8.5 0 1 0 17 0a8.5 8.5 0 1 0-17 0M238.8 1223.1a8.5 8.5 0 1 0 17 0a8.5 8.5 0 1 0-17 0M237.4 1225.9a8.5 8.5 0 1 0 17 0a8.5 8.5 0 1 0-17 0M237.7 1228.7a8.5 8.5 0 1 0 17 0a8.5 8.5 0 1 0-17 0M237.8 1231.4a8.5 8.5 0 1 0 17 0a8.5 8.5 0 1 0-17 0M238.8 1234.2a8.5 8.5 0 1 0 17 0a8.5 8.5 0 1 0-17 0M238.2 1236.3a8.5 8.5 0 1 0 17 0a8.5 8.5 0 1 0-17 0M257.5 1233.3a8.5 8.5 0 1 0 17 0a8.5 8.5 0 1 0-17 0M257.9 1236a8.5 8.5 0 1 0 17 0a8.5 8.5 0 1 0-17 0M257.2 1236.3a8.5 8.5 0 1 0 17 0a8.5 8.5 0 1 0-17 0M261.5 1233.4a8.5 8.5 0 1 0 17 0a8.5 8.5 0 1 0-17 0M261.5 1236.1a8.5 8.5 0 1 0 17 0a8.5 8.5 0 1 0-17 0M261.8 1236.3a8.5 8.5 0 1 0 17 0a8.5 8.5 0 1 0-17 0M273.5 1222.2a8.5 8.5 0 1 0 17 0a8.5 8.5 0 1 0-17 0M273.9 1225a8.5 8.5 0 1 0 17 0a8.5 8.5 0 1 0-17 0M273.7 1227.7a8.5 8.5 0 1 0 17 0a8.5 8.5 0 1 0-17 0M273.3 1230.5a8.5 8.5 0 1 0 17 0a8.5 8.5 0 1 0-17 0M273.2 1233.3a8.5 8.5 0 1 0 17 0a8.5 8.5 0 1 0-17 0M272.9 1236a8.5 8.5 0 1 0 17 0a8.5 8.5 0 1 0-17 0M274 1236.3a8.5 8.5 0 1 0 17 0a8.5 8.5 0 1 0-17 0M293 1184.5a8.5 8.5 0 1 0 17 0a8.5 8.5 0 1 0-17 0M290.5 1192.5a8.5 8.5 0 1 0 17 0a8.5 8.5 0 1 0-17 0M290.5 1206.1a8.5 8.5 0 1 0 17 0a8.5 8.5 0 1 0-17 0M289 1198.3a8.5 8.5 0 1 0 17 0a8.5 8.5 0 1 0-17 0M294.5 1196.5a8.5 8.5 0 1 0 17 0a8.5 8.5 0 1 0-17 0M293.5 1209.3a8.5 8.5 0 1 0 17 0a8.5 8.5 0 1 0-17 0M289 1213a8.5 8.5 0 1 0 17 0a8.5 8.5 0 1 0-17 0M289.5 1215.8a8.5 8.5 0 1 0 17 0a8.5 8.5 0 1 0-17 0M289.7 1218.5a8.5 8.5 0 1 0 17 0a8.5 8.5 0 1 0-17 0M288 1221.3a8.5 8.5 0 1 0 17 0a8.5 8.5 0 1 0-17 0M288.8 1224.1a8.5 8.5 0 1 0 17 0a8.5 8.5 0 1 0-17 0M289.8 1226.8a8.5 8.5 0 1 0 17 0a8.5 8.5 0 1 0-17 0M289.2 1229.6a8.5 8.5 0 1 0 17 0a8.5 8.5 0 1 0-17 0M287.9 1232.3a8.5 8.5 0 1 0 17 0a8.5 8.5 0 1 0-17 0M288.9 1235.1a8.5 8.5 0 1 0 17 0a8.5 8.5 0 1 0-17 0M290.2 1236.3a8.5 8.5 0 1 0 17 0a8.5 8.5 0 1 0-17 0M306.5 1222.2a8.5 8.5 0 1 0 17 0a8.5 8.5 0 1 0-17 0M306.1 1225a8.5 8.5 0 1 0 17 0a8.5 8.5 0 1 0-17 0M306 1227.7a8.5 8.5 0 1 0 17 0a8.5 8.5 0 1 0-17 0M306.2 1230.5a8.5 8.5 0 1 0 17 0a8.5 8.5 0 1 0-17 0M306.8 1233.3a8.5 8.5 0 1 0 17 0a8.5 8.5 0 1 0-17 0M307 1236a8.5 8.5 0 1 0 17 0a8.5 8.5 0 1 0-17 0M305.9 1236.3a8.5 8.5 0 1 0 17 0a8.5 8.5 0 1 0-17 0M318.5 1233a8.5 8.5 0 1 0 17 0a8.5 8.5 0 1 0-17 0M318.2 1235.8a8.5 8.5 0 1 0 17 0a8.5 8.5 0 1 0-17 0M318.3 1236.3a8.5 8.5 0 1 0 17 0a8.5 8.5 0 1 0-17 0M347.7 1131.1a8.5 8.5 0 1 0 17 0a8.5 8.5 0 1 0-17 0M348.1 1134.6a8.5 8.5 0 1 0 17 0a8.5 8.5 0 1 0-17 0M346.8 1148.2a8.5 8.5 0 1 0 17 0a8.5 8.5 0 1 0-17 0M348 1161.5a8.5 8.5 0 1 0 17 0a8.5 8.5 0 1 0-17 0M346.9 1173.9a8.5 8.5 0 1 0 17 0a8.5 8.5 0 1 0-17 0M348.6 1185.2a8.5 8.5 0 1 0 17 0a8.5 8.5 0 1 0-17 0M347.1 1196.9a8.5 8.5 0 1 0 17 0a8.5 8.5 0 1 0-17 0M348.4 1202.4a8.5 8.5 0 1 0 17 0a8.5 8.5 0 1 0-17 0M347.7 1210.3a8.5 8.5 0 1 0 17 0a8.5 8.5 0 1 0-17 0M347.7 1216.7a8.5 8.5 0 1 0 17 0a8.5 8.5 0 1 0-17 0M347.7 1219.5a8.5 8.5 0 1 0 17 0a8.5 8.5 0 1 0-17 0M347 1222.2a8.5 8.5 0 1 0 17 0a8.5 8.5 0 1 0-17 0M347.4 1225a8.5 8.5 0 1 0 17 0a8.5 8.5 0 1 0-17 0M347.1 1227.7a8.5 8.5 0 1 0 17 0a8.5 8.5 0 1 0-17 0M348.7 1230.5a8.5 8.5 0 1 0 17 0a8.5 8.5 0 1 0-17 0M348.2 1233.3a8.5 8.5 0 1 0 17 0a8.5 8.5 0 1 0-17 0M346.9 1236a8.5 8.5 0 1 0 17 0a8.5 8.5 0 1 0-17 0M348.6 1236.3a8.5 8.5 0 1 0 17 0a8.5 8.5 0 1 0-17 0M360.5 1213a8.5 8.5 0 1 0 17 0a8.5 8.5 0 1 0-17 0M359.9 1215.8a8.5 8.5 0 1 0 17 0a8.5 8.5 0 1 0-17 0M360.3 1218.5a8.5 8.5 0 1 0 17 0a8.5 8.5 0 1 0-17 0M361.3 1221.3a8.5 8.5 0 1 0 17 0a8.5 8.5 0 1 0-17 0M361 1224.1a8.5 8.5 0 1 0 17 0a8.5 8.5 0 1 0-17 0M360.9 1226.8a8.5 8.5 0 1 0 17 0a8.5 8.5 0 1 0-17 0M360.4 1229.6a8.5 8.5 0 1 0 17 0a8.5 8.5 0 1 0-17 0M360 1232.3a8.5 8.5 0 1 0 17 0a8.5 8.5 0 1 0-17 0M360.7 1235.1a8.5 8.5 0 1 0 17 0a8.5 8.5 0 1 0-17 0M359.9 1236.3a8.5 8.5 0 1 0 17 0a8.5 8.5 0 1 0-17 0M382.5 1232.1a8.5 8.5 0 1 0 17 0a8.5 8.5 0 1 0-17 0M382.4 1234.9a8.5 8.5 0 1 0 17 0a8.5 8.5 0 1 0-17 0M382 1236.3a8.5 8.5 0 1 0 17 0a8.5 8.5 0 1 0-17 0M398 1211.2a8.5 8.5 0 1 0 17 0a8.5 8.5 0 1 0-17 0M397.8 1213.9a8.5 8.5 0 1 0 17 0a8.5 8.5 0 1 0-17 0M398.5 1216.7a8.5 8.5 0 1 0 17 0a8.5 8.5 0 1 0-17 0M398.3 1219.5a8.5 8.5 0 1 0 17 0a8.5 8.5 0 1 0-17 0M398 1222.2a8.5 8.5 0 1 0 17 0a8.5 8.5 0 1 0-17 0M398.2 1225a8.5 8.5 0 1 0 17 0a8.5 8.5 0 1 0-17 0M397.9 1227.7a8.5 8.5 0 1 0 17 0a8.5 8.5 0 1 0-17 0M397.4 1230.5a8.5 8.5 0 1 0 17 0a8.5 8.5 0 1 0-17 0M398.2 1233.3a8.5 8.5 0 1 0 17 0a8.5 8.5 0 1 0-17 0M397.8 1236a8.5 8.5 0 1 0 17 0a8.5 8.5 0 1 0-17 0M398.4 1236.3a8.5 8.5 0 1 0 17 0a8.5 8.5 0 1 0-17 0M405.7 1198.6a8.5 8.5 0 1 0 17 0a8.5 8.5 0 1 0-17 0M406.4 1200.9a8.5 8.5 0 1 0 17 0a8.5 8.5 0 1 0-17 0M405.6 1203.2a8.5 8.5 0 1 0 17 0a8.5 8.5 0 1 0-17 0M405.8 1205.5a8.5 8.5 0 1 0 17 0a8.5 8.5 0 1 0-17 0M406.1 1207.8a8.5 8.5 0 1 0 17 0a8.5 8.5 0 1 0-17 0M405.6 1210.1a8.5 8.5 0 1 0 17 0a8.5 8.5 0 1 0-17 0M405.3 1212.4a8.5 8.5 0 1 0 17 0a8.5 8.5 0 1 0-17 0M406.1 1214.7a8.5 8.5 0 1 0 17 0a8.5 8.5 0 1 0-17 0M406.3 1217a8.5 8.5 0 1 0 17 0a8.5 8.5 0 1 0-17 0M406.1 1219.3a8.5 8.5 0 1 0 17 0a8.5 8.5 0 1 0-17 0M406 1221.6a8.5 8.5 0 1 0 17 0a8.5 8.5 0 1 0-17 0M406.3 1223.9a8.5 8.5 0 1 0 17 0a8.5 8.5 0 1 0-17 0M406 1226.2a8.5 8.5 0 1 0 17 0a8.5 8.5 0 1 0-17 0M405.9 1228.5a8.5 8.5 0 1 0 17 0a8.5 8.5 0 1 0-17 0M405.6 1230.8a8.5 8.5 0 1 0 17 0a8.5 8.5 0 1 0-17 0M405.4 1233.1a8.5 8.5 0 1 0 17 0a8.5 8.5 0 1 0-17 0M405.9 1235.4a8.5 8.5 0 1 0 17 0a8.5 8.5 0 1 0-17 0M405.1 1236.3a8.5 8.5 0 1 0 17 0a8.5 8.5 0 1 0-17 0M446.7 1150.7a8.5 8.5 0 1 0 17 0a8.5 8.5 0 1 0-17 0M446.8 1155.8a8.5 8.5 0 1 0 17 0a8.5 8.5 0 1 0-17 0M446.6 1165.7a8.5 8.5 0 1 0 17 0a8.5 8.5 0 1 0-17 0M446.5 1172.2a8.5 8.5 0 1 0 17 0a8.5 8.5 0 1 0-17 0M446.6 1181.7a8.5 8.5 0 1 0 17 0a8.5 8.5 0 1 0-17 0M446.3 1185.4a8.5 8.5 0 1 0 17 0a8.5 8.5 0 1 0-17 0M441.1 1189.6a8.5 8.5 0 1 0 17 0a8.5 8.5 0 1 0-17 0M440.7 1196.5a8.5 8.5 0 1 0 17 0a8.5 8.5 0 1 0-17 0M447.5 1199.2a8.5 8.5 0 1 0 17 0a8.5 8.5 0 1 0-17 0M447.7 1205.7a8.5 8.5 0 1 0 17 0a8.5 8.5 0 1 0-17 0M440.5 1206.6a8.5 8.5 0 1 0 17 0a8.5 8.5 0 1 0-17 0M447.1 1212.6a8.5 8.5 0 1 0 17 0a8.5 8.5 0 1 0-17 0M440.7 1216.7a8.5 8.5 0 1 0 17 0a8.5 8.5 0 1 0-17 0M446.5 1220.4a8.5 8.5 0 1 0 17 0a8.5 8.5 0 1 0-17 0M454 1228.2a8.5 8.5 0 1 0 17 0a8.5 8.5 0 1 0-17 0M452.5 1223.1a8.5 8.5 0 1 0 17 0a8.5 8.5 0 1 0-17 0M443.5 1220.4a8.5 8.5 0 1 0 17 0a8.5 8.5 0 1 0-17 0M443.1 1223.1a8.5 8.5 0 1 0 17 0a8.5 8.5 0 1 0-17 0M444.9 1225.9a8.5 8.5 0 1 0 17 0a8.5 8.5 0 1 0-17 0M444.6 1228.7a8.5 8.5 0 1 0 17 0a8.5 8.5 0 1 0-17 0M444.1 1231.4a8.5 8.5 0 1 0 17 0a8.5 8.5 0 1 0-17 0M442.3 1234.2a8.5 8.5 0 1 0 17 0a8.5 8.5 0 1 0-17 0M443.1 1236.3a8.5 8.5 0 1 0 17 0a8.5 8.5 0 1 0-17 0M492.3 1216.7a8.5 8.5 0 1 0 17 0a8.5 8.5 0 1 0-17 0M492.2 1219.5a8.5 8.5 0 1 0 17 0a8.5 8.5 0 1 0-17 0M492.5 1222.2a8.5 8.5 0 1 0 17 0a8.5 8.5 0 1 0-17 0M492.2 1225a8.5 8.5 0 1 0 17 0a8.5 8.5 0 1 0-17 0M492.6 1227.7a8.5 8.5 0 1 0 17 0a8.5 8.5 0 1 0-17 0M493 1230.5a8.5 8.5 0 1 0 17 0a8.5 8.5 0 1 0-17 0M491.8 1233.3a8.5 8.5 0 1 0 17 0a8.5 8.5 0 1 0-17 0M492.5 1236a8.5 8.5 0 1 0 17 0a8.5 8.5 0 1 0-17 0M492.7 1236.3a8.5 8.5 0 1 0 17 0a8.5 8.5 0 1 0-17 0M524.9 1192.2a8.5 8.5 0 1 0 17 0a8.5 8.5 0 1 0-17 0M524.7 1194.5a8.5 8.5 0 1 0 17 0a8.5 8.5 0 1 0-17 0M524.9 1196.8a8.5 8.5 0 1 0 17 0a8.5 8.5 0 1 0-17 0M525.7 1199.1a8.5 8.5 0 1 0 17 0a8.5 8.5 0 1 0-17 0M524.2 1201.4a8.5 8.5 0 1 0 17 0a8.5 8.5 0 1 0-17 0M525 1203.7a8.5 8.5 0 1 0 17 0a8.5 8.5 0 1 0-17 0M524.4 1206a8.5 8.5 0 1 0 17 0a8.5 8.5 0 1 0-17 0M525.4 1208.3a8.5 8.5 0 1 0 17 0a8.5 8.5 0 1 0-17 0M525.6 1210.6a8.5 8.5 0 1 0 17 0a8.5 8.5 0 1 0-17 0M524.9 1212.9a8.5 8.5 0 1 0 17 0a8.5 8.5 0 1 0-17 0M524.3 1215.2a8.5 8.5 0 1 0 17 0a8.5 8.5 0 1 0-17 0M525 1217.5a8.5 8.5 0 1 0 17 0a8.5 8.5 0 1 0-17 0M525 1219.8a8.5 8.5 0 1 0 17 0a8.5 8.5 0 1 0-17 0M525.2 1222.1a8.5 8.5 0 1 0 17 0a8.5 8.5 0 1 0-17 0M524.9 1224.4a8.5 8.5 0 1 0 17 0a8.5 8.5 0 1 0-17 0M525.1 1226.7a8.5 8.5 0 1 0 17 0a8.5 8.5 0 1 0-17 0M525.4 1229a8.5 8.5 0 1 0 17 0a8.5 8.5 0 1 0-17 0M524.9 1231.3a8.5 8.5 0 1 0 17 0a8.5 8.5 0 1 0-17 0M524.8 1233.6a8.5 8.5 0 1 0 17 0a8.5 8.5 0 1 0-17 0M525.6 1235.9a8.5 8.5 0 1 0 17 0a8.5 8.5 0 1 0-17 0M524.4 1236.3a8.5 8.5 0 1 0 17 0a8.5 8.5 0 1 0-17 0M530.9 1223.1a8.5 8.5 0 1 0 17 0a8.5 8.5 0 1 0-17 0M532.5 1225.4a8.5 8.5 0 1 0 17 0a8.5 8.5 0 1 0-17 0M519 1227.7a8.5 8.5 0 1 0 17 0a8.5 8.5 0 1 0-17 0M521 1225a8.5 8.5 0 1 0 17 0a8.5 8.5 0 1 0-17 0M601 1213.9a8.5 8.5 0 1 0 17 0a8.5 8.5 0 1 0-17 0M602.5 1217.6a8.5 8.5 0 1 0 17 0a8.5 8.5 0 1 0-17 0M565.7 1227.4a8.5 8.5 0 1 0 17 0a8.5 8.5 0 1 0-17 0M565.6 1230.1a8.5 8.5 0 1 0 17 0a8.5 8.5 0 1 0-17 0M566 1232.9a8.5 8.5 0 1 0 17 0a8.5 8.5 0 1 0-17 0M565.3 1235.6a8.5 8.5 0 1 0 17 0a8.5 8.5 0 1 0-17 0M566.2 1236.3a8.5 8.5 0 1 0 17 0a8.5 8.5 0 1 0-17 0M570 1227a8.5 8.5 0 1 0 17 0a8.5 8.5 0 1 0-17 0M569.6 1229.7a8.5 8.5 0 1 0 17 0a8.5 8.5 0 1 0-17 0M569.8 1232.5a8.5 8.5 0 1 0 17 0a8.5 8.5 0 1 0-17 0M569.9 1235.3a8.5 8.5 0 1 0 17 0a8.5 8.5 0 1 0-17 0M569.5 1236.3a8.5 8.5 0 1 0 17 0a8.5 8.5 0 1 0-17 0M597.1 1202.5a8.5 8.5 0 1 0 17 0a8.5 8.5 0 1 0-17 0M597 1204.8a8.5 8.5 0 1 0 17 0a8.5 8.5 0 1 0-17 0M597 1207.1a8.5 8.5 0 1 0 17 0a8.5 8.5 0 1 0-17 0M597.4 1209.4a8.5 8.5 0 1 0 17 0a8.5 8.5 0 1 0-17 0M596.9 1211.7a8.5 8.5 0 1 0 17 0a8.5 8.5 0 1 0-17 0M596.7 1214a8.5 8.5 0 1 0 17 0a8.5 8.5 0 1 0-17 0M596.7 1216.3a8.5 8.5 0 1 0 17 0a8.5 8.5 0 1 0-17 0M597.5 1218.6a8.5 8.5 0 1 0 17 0a8.5 8.5 0 1 0-17 0M597.8 1220.9a8.5 8.5 0 1 0 17 0a8.5 8.5 0 1 0-17 0M597.1 1223.2a8.5 8.5 0 1 0 17 0a8.5 8.5 0 1 0-17 0M596.7 1225.5a8.5 8.5 0 1 0 17 0a8.5 8.5 0 1 0-17 0M597.6 1227.8a8.5 8.5 0 1 0 17 0a8.5 8.5 0 1 0-17 0M596.9 1230.1a8.5 8.5 0 1 0 17 0a8.5 8.5 0 1 0-17 0M596.6 1232.4a8.5 8.5 0 1 0 17 0a8.5 8.5 0 1 0-17 0M596.5 1234.7a8.5 8.5 0 1 0 17 0a8.5 8.5 0 1 0-17 0M597.5 1236.3a8.5 8.5 0 1 0 17 0a8.5 8.5 0 1 0-17 0M635.9 1224.5a8.5 8.5 0 1 0 17 0a8.5 8.5 0 1 0-17 0M636.4 1227.3a8.5 8.5 0 1 0 17 0a8.5 8.5 0 1 0-17 0M636.1 1230a8.5 8.5 0 1 0 17 0a8.5 8.5 0 1 0-17 0M635.9 1232.8a8.5 8.5 0 1 0 17 0a8.5 8.5 0 1 0-17 0M636 1235.6a8.5 8.5 0 1 0 17 0a8.5 8.5 0 1 0-17 0M635.5 1236.3a8.5 8.5 0 1 0 17 0a8.5 8.5 0 1 0-17 0M666 1221.3a8.5 8.5 0 1 0 17 0a8.5 8.5 0 1 0-17 0M666.7 1224.1a8.5 8.5 0 1 0 17 0a8.5 8.5 0 1 0-17 0M665.8 1226.8a8.5 8.5 0 1 0 17 0a8.5 8.5 0 1 0-17 0M666.2 1229.6a8.5 8.5 0 1 0 17 0a8.5 8.5 0 1 0-17 0M666.5 1232.3a8.5 8.5 0 1 0 17 0a8.5 8.5 0 1 0-17 0M666.5 1235.1a8.5 8.5 0 1 0 17 0a8.5 8.5 0 1 0-17 0M665.9 1236.3a8.5 8.5 0 1 0 17 0a8.5 8.5 0 1 0-17 0M692.5 1220.4a8.5 8.5 0 1 0 17 0a8.5 8.5 0 1 0-17 0M692.2 1223.1a8.5 8.5 0 1 0 17 0a8.5 8.5 0 1 0-17 0M692.6 1225.9a8.5 8.5 0 1 0 17 0a8.5 8.5 0 1 0-17 0M691.9 1228.7a8.5 8.5 0 1 0 17 0a8.5 8.5 0 1 0-17 0M693 1231.4a8.5 8.5 0 1 0 17 0a8.5 8.5 0 1 0-17 0M692.3 1234.2a8.5 8.5 0 1 0 17 0a8.5 8.5 0 1 0-17 0M693.1 1236.3a8.5 8.5 0 1 0 17 0a8.5 8.5 0 1 0-17 0M725 1207.5a8.5 8.5 0 1 0 17 0a8.5 8.5 0 1 0-17 0M724.6 1209.8a8.5 8.5 0 1 0 17 0a8.5 8.5 0 1 0-17 0M724.8 1212.1a8.5 8.5 0 1 0 17 0a8.5 8.5 0 1 0-17 0M724.6 1214.4a8.5 8.5 0 1 0 17 0a8.5 8.5 0 1 0-17 0M724.9 1216.7a8.5 8.5 0 1 0 17 0a8.5 8.5 0 1 0-17 0M724.5 1219a8.5 8.5 0 1 0 17 0a8.5 8.5 0 1 0-17 0M724.2 1221.3a8.5 8.5 0 1 0 17 0a8.5 8.5 0 1 0-17 0M725.4 1223.6a8.5 8.5 0 1 0 17 0a8.5 8.5 0 1 0-17 0M724.6 1225.9a8.5 8.5 0 1 0 17 0a8.5 8.5 0 1 0-17 0M724.6 1228.2a8.5 8.5 0 1 0 17 0a8.5 8.5 0 1 0-17 0M724.7 1230.5a8.5 8.5 0 1 0 17 0a8.5 8.5 0 1 0-17 0M725 1232.8a8.5 8.5 0 1 0 17 0a8.5 8.5 0 1 0-17 0M724.9 1235.1a8.5 8.5 0 1 0 17 0a8.5 8.5 0 1 0-17 0M725.2 1236.3a8.5 8.5 0 1 0 17 0a8.5 8.5 0 1 0-17 0M719 1223.6a8.5 8.5 0 1 0 17 0a8.5 8.5 0 1 0-17 0M720.7 1220.4a8.5 8.5 0 1 0 17 0a8.5 8.5 0 1 0-17 0M730 1224.1a8.5 8.5 0 1 0 17 0a8.5 8.5 0 1 0-17 0M728.5 1220.4a8.5 8.5 0 1 0 17 0a8.5 8.5 0 1 0-17 0M750.5 1226.8a8.5 8.5 0 1 0 17 0a8.5 8.5 0 1 0-17 0M750.8 1229.6a8.5 8.5 0 1 0 17 0a8.5 8.5 0 1 0-17 0M750.3 1232.3a8.5 8.5 0 1 0 17 0a8.5 8.5 0 1 0-17 0M751.2 1235.1a8.5 8.5 0 1 0 17 0a8.5 8.5 0 1 0-17 0M751.1 1236.3a8.5 8.5 0 1 0 17 0a8.5 8.5 0 1 0-17 0M784.3 1229.4a8.5 8.5 0 1 0 17 0a8.5 8.5 0 1 0-17 0M784.6 1232.1a8.5 8.5 0 1 0 17 0a8.5 8.5 0 1 0-17 0M784.7 1234.9a8.5 8.5 0 1 0 17 0a8.5 8.5 0 1 0-17 0M784.6 1236.3a8.5 8.5 0 1 0 17 0a8.5 8.5 0 1 0-17 0M806.9 1228.9a8.5 8.5 0 1 0 17 0a8.5 8.5 0 1 0-17 0M807.2 1231.7a8.5 8.5 0 1 0 17 0a8.5 8.5 0 1 0-17 0M807 1234.4a8.5 8.5 0 1 0 17 0a8.5 8.5 0 1 0-17 0M806.4 1236.3a8.5 8.5 0 1 0 17 0a8.5 8.5 0 1 0-17 0M831.8 1223.8a8.5 8.5 0 1 0 17 0a8.5 8.5 0 1 0-17 0M831 1226.5a8.5 8.5 0 1 0 17 0a8.5 8.5 0 1 0-17 0M832.5 1229.3a8.5 8.5 0 1 0 17 0a8.5 8.5 0 1 0-17 0M832 1232.1a8.5 8.5 0 1 0 17 0a8.5 8.5 0 1 0-17 0M831.4 1234.8a8.5 8.5 0 1 0 17 0a8.5 8.5 0 1 0-17 0M831.2 1236.3a8.5 8.5 0 1 0 17 0a8.5 8.5 0 1 0-17 0M857.5 1229.2a8.5 8.5 0 1 0 17 0a8.5 8.5 0 1 0-17 0M856.9 1232a8.5 8.5 0 1 0 17 0a8.5 8.5 0 1 0-17 0M857.1 1234.7a8.5 8.5 0 1 0 17 0a8.5 8.5 0 1 0-17 0M857.9 1236.3a8.5 8.5 0 1 0 17 0a8.5 8.5 0 1 0-17 0M877.5 1228.6a8.5 8.5 0 1 0 17 0a8.5 8.5 0 1 0-17 0M877.2 1231.4a8.5 8.5 0 1 0 17 0a8.5 8.5 0 1 0-17 0M877.9 1234.1a8.5 8.5 0 1 0 17 0a8.5 8.5 0 1 0-17 0M877.8 1236.3a8.5 8.5 0 1 0 17 0a8.5 8.5 0 1 0-17 0M882.5 1228.4a8.5 8.5 0 1 0 17 0a8.5 8.5 0 1 0-17 0M882.9 1231.2a8.5 8.5 0 1 0 17 0a8.5 8.5 0 1 0-17 0M882.6 1233.9a8.5 8.5 0 1 0 17 0a8.5 8.5 0 1 0-17 0M882.8 1236.3a8.5 8.5 0 1 0 17 0a8.5 8.5 0 1 0-17 0M911.5 1233.6a8.5 8.5 0 1 0 17 0a8.5 8.5 0 1 0-17 0M911.9 1236.3a8.5 8.5 0 1 0 17 0a8.5 8.5 0 1 0-17 0M935.5 1225.4a8.5 8.5 0 1 0 17 0a8.5 8.5 0 1 0-17 0M936 1228.1a8.5 8.5 0 1 0 17 0a8.5 8.5 0 1 0-17 0M936 1230.9a8.5 8.5 0 1 0 17 0a8.5 8.5 0 1 0-17 0M935 1233.6a8.5 8.5 0 1 0 17 0a8.5 8.5 0 1 0-17 0M935.8 1236.3a8.5 8.5 0 1 0 17 0a8.5 8.5 0 1 0-17 0M954.5 1233.4a8.5 8.5 0 1 0 17 0a8.5 8.5 0 1 0-17 0M954.7 1236.2a8.5 8.5 0 1 0 17 0a8.5 8.5 0 1 0-17 0M954.4 1236.3a8.5 8.5 0 1 0 17 0a8.5 8.5 0 1 0-17 0M981.5 1232.9a8.5 8.5 0 1 0 17 0a8.5 8.5 0 1 0-17 0M981.6 1235.7a8.5 8.5 0 1 0 17 0a8.5 8.5 0 1 0-17 0M981.3 1236.3a8.5 8.5 0 1 0 17 0a8.5 8.5 0 1 0-17 0M1002.2 1232.7a8.5 8.5 0 1 0 17 0a8.5 8.5 0 1 0-17 0M1001.8 1235.5a8.5 8.5 0 1 0 17 0a8.5 8.5 0 1 0-17 0M1002.2 1236.3a8.5 8.5 0 1 0 17 0a8.5 8.5 0 1 0-17 0M1020.5 1228.8a8.5 8.5 0 1 0 17 0a8.5 8.5 0 1 0-17 0M1020.5 1231.6a8.5 8.5 0 1 0 17 0a8.5 8.5 0 1 0-17 0M1020.1 1234.3a8.5 8.5 0 1 0 17 0a8.5 8.5 0 1 0-17 0M1020.5 1236.3a8.5 8.5 0 1 0 17 0a8.5 8.5 0 1 0-17 0M1025.5 1229.4a8.5 8.5 0 1 0 17 0a8.5 8.5 0 1 0-17 0M1025.5 1232.1a8.5 8.5 0 1 0 17 0a8.5 8.5 0 1 0-17 0M1025.9 1234.9a8.5 8.5 0 1 0 17 0a8.5 8.5 0 1 0-17 0M1025 1236.3a8.5 8.5 0 1 0 17 0a8.5 8.5 0 1 0-17 0M1108.5 1232.4a8.5 8.5 0 1 0 17 0a8.5 8.5 0 1 0-17 0M1108.5 1235.2a8.5 8.5 0 1 0 17 0a8.5 8.5 0 1 0-17 0M1108.6 1236.3a8.5 8.5 0 1 0 17 0a8.5 8.5 0 1 0-17 0" fill="none" stroke="#ff0000" stroke-width="5.3"/>
<path d="M51.7 1236 113.2 1235.9 114.2 1235.9 114.7 1235.6 116 1232.7 117.2 1235.4 117.7 1235.8 118.2 1235.9 128.2 1236 136.2 1235.8 139.2 1235.4 140.7 1234.5 141.2 1233.7 141.7 1232.1 142.2 1224.6 142.3 1218.7 143.4 1126.3 144.2 1201.7 144.6 1224.6 145.2 1232.6 145.7 1233.9 146.2 1234.6 147.2 1235.2 149.2 1235.7 159.2 1235.9 164.7 1235.7 166.2 1235.1 166.7 1234.4 167.2 1231.6 167.4 1228 168.2 1206.8 168.5 1202.4 169.7 1230.4 170.2 1234.1 170.7 1235 171.2 1235.4 173.7 1235.8 179.7 1236 209.2 1235.9 218.7 1235.7 219.3 1235.6 226 1230 226.9 1210.3 227.8 1154.9 228.6 1210.3 229.5 1154.9 230.4 1210.3 231.3 1154.9 232 895.8 232.7 1154.9 233.5 1193.7 234.4 1147.7 235.1 1209.3 236.2 1227.7 238 1234.2 240.5 1235.5 243.7 1235.6 244.7 1235.4 245.2 1234.9 245.5 1234 245.8 1231.7 246.7 1218.5 247.7 1232.7 248.2 1235 248.7 1235.5 250.2 1235.8 252.7 1235.9 265.7 1235.9 266.7 1235.5 268 1233.7 269.2 1235.4 270.2 1235.9 280.2 1235.9 283.2 1235.6 283.7 1235.1 283.9 1234.3 285 1225.3 285.9 1233.4 286.2 1234.8 286.7 1235.5 288.2 1235.8 291.2 1235.8 293.2 1235.5 294.2 1235 294.7 1234.4 295.2 1231.6 295.4 1229.4 296.4 1194.8 297.2 1222.9 297.6 1231.4 298.2 1234.2 298.7 1234.6 299.2 1234.5 299.7 1233.9 300.2 1230.8 300.4 1228.4 301.4 1189.1 302.4 1228.5 302.7 1232.2 303.2 1234.4 303.7 1235 305.2 1235.6 307.2 1235.8 311.2 1235.8 312.7 1235.5 313.2 1234.8 313.4 1233.7 314.5 1221.6 315.6 1233.7 315.7 1234.5 316.2 1235.5 316.7 1235.7 320.2 1235.9 325.2 1235.8 325.8 1235.3 326.7 1233.5 327 1233.3 327.3 1233.5 328.2 1235.3 328.7 1235.7 329.7 1235.9 348.7 1235.8 351.7 1235.4 353.2 1234.7 353.7 1234.2 354.2 1233.1 354.7 1229.5 354.9 1225.3 356.1 1133 357.3 1225.3 357.7 1231.7 358.2 1233.6 359.2 1234.9 361.2 1235.5 365.2 1235.7 366.7 1235.4 367.2 1235 367.6 1233.6 367.9 1230.6 368.6 1214.5 368.8 1213.5 368.9 1214.5 369.1 1209.1 369.9 1224.7 370.2 1227.1 370.7 1228.2 371.7 1229.3 373.7 1230.8 381.2 1235.9 384.2 1235.8 385.2 1234.6 386.2 1235.8 387.7 1235.9 389.2 1235.8 389.7 1235.4 390.7 1233.9 391 1233.7 392.2 1235.4 393.2 1235.9 394.7 1235.8 395.4 1235.5 396.7 1235.9 399.2 1235.9 399.7 1235.7 400.5 1235 401.2 1235.6 401.7 1235.8 403.7 1235.7 404.7 1235.3 405.2 1234.7 405.7 1231.5 406.7 1211.3 407.6 1229.9 407.9 1233.2 408.2 1234.4 408.7 1234.9 409.3 1234.3 409.7 1232.1 410.5 1224.5 411.4 1232.6 411.7 1234.1 412.2 1234.5 412.7 1233.4 413.1 1230 414.1 1199.5 415.1 1230.2 415.7 1234.4 416.2 1235 417.1 1234.9 418.2 1235.6 418.7 1235.7 419.2 1235.7 419.7 1235.4 420.7 1233.9 421.5 1231.1 422.4 1234.8 422.7 1235.4 423.2 1235.7 426.2 1235.8 427.1 1235 428.2 1235.9 428.7 1235.9 431.7 1235.9 432.6 1235.6 434.2 1235.9 434.7 1235.8 435.7 1235.1 436.7 1235.9 437.2 1235.9 438.2 1235.8 438.9 1235.5 439.7 1235.8 441.2 1235.7 442.9 1235.2 444.2 1235.2 444.7 1235.8 447 1231 448.7 1190.2 449.6 1216.7 450.5 1198.3 451.4 1216.7 452.3 1198.3 452.8 1226.4 455.4 1148.9 456.6 1179.9 457.4 1225.9 459.5 1234.6 461.8 1234.2 463 1228 464.2 1234.9 466 1235.8 468.2 1235.8 468.7 1235.6 469.4 1234.6 470.2 1235.6 470.7 1235.9 471.7 1235.9 475.2 1235.9 475.7 1235.6 476.4 1234.7 477.2 1235.7 478.7 1236 481.2 1235.9 482.2 1235.4 483.2 1235.9 483.7 1236 485.2 1235.9 486.2 1235.4 487.2 1235.9 488.2 1235.9 488.7 1235.7 489.4 1234.8 490.2 1235.7 491.2 1235.9 493.2 1235.7 494 1234.7 494.7 1235.5 495.2 1235.8 496.7 1235.5 497.7 1235.1 499.2 1234 499.6 1232.9 500.8 1217.6 501.9 1232 502.2 1233.7 502.7 1234.4 503.2 1234.8 506.2 1235.8 507.2 1235.9 507.7 1235.8 508.2 1235.5 508.8 1234.7 509.7 1235.8 512.2 1235.9 512.7 1235.8 513.7 1234.6 514.7 1235.8 515.2 1235.9 517.2 1235.9 518.3 1235.7 519.7 1235.9 522.7 1235.7 523.8 1234.8 524.7 1235.3 525.3 1235 526.5 1230.2 527.2 1233.4 527.7 1234.5 528.7 1234.9 529.7 1234.6 530.7 1233.7 531.7 1232 532.2 1228.9 533.4 1194.7 534.5 1225.4 534.7 1228.2 535.2 1229.8 536.2 1230.2 537.7 1230.4 538.4 1229.2 539.1 1225.1 539.4 1224.3 540.5 1231.4 541.2 1233.6 543.7 1235.4 544.7 1235.5 545.5 1234.8 546.2 1235.6 547.2 1235.9 548.2 1235.9 549.2 1235.1 550.2 1235.9 550.7 1236 552.7 1236 554 1235.5 555.2 1236 558.7 1235.9 559.9 1235.6 560.7 1235.9 562.2 1235.8 564.2 1235.7 565.5 1235.3 566.7 1235.3 569.2 1234.6 570.2 1234 571.7 1233.5 572.2 1232.8 573.4 1225.9 574.5 1231.8 574.7 1232.4 575.2 1232.9 576.7 1233 577.3 1232.5 577.7 1231 578.5 1225.9 579.7 1233.1 581.2 1234.4 582.2 1234.8 585.2 1235.6 587 1235.5 587.7 1235.8 589.2 1235.9 590.7 1235.7 591.6 1234.7 592.2 1235.5 592.7 1235.9 593.2 1235.9 596.2 1235.9 597.1 1235.6 598.7 1235.9 600.2 1235.6 601.2 1235.2 602.2 1234.4 603.2 1233.2 604.1 1231.1 604.4 1229.3 605.6 1202.9 606.5 1223.5 606.8 1227.1 607.2 1228.6 607.7 1228.6 608.2 1226.8 609.3 1212.8 610.4 1228.9 610.7 1231 611.2 1232.2 611.7 1232.8 613.2 1234.1 613.7 1234 615 1230.1 615.3 1230.8 616 1234 616.7 1235.2 617.7 1235.6 619.7 1235.8 621.1 1235.5 622.2 1235.9 625.2 1236 625.7 1235.8 626.5 1235.3 627.7 1235.9 629.7 1236 630.2 1235.9 631.3 1234.6 632.2 1235.8 632.7 1235.9 635.2 1235.9 636.2 1235.1 637.2 1235.9 637.7 1235.9 639.7 1235.8 641.7 1235.3 642.7 1234.4 643.2 1233.2 644.4 1224.3 645.6 1233.3 646.2 1234.5 647.2 1235.3 649.7 1235.9 651.7 1235.9 652.6 1235.4 653.7 1235.9 654.7 1236 655.2 1235.9 655.7 1235.6 656.3 1234.9 657.2 1235.8 657.7 1235.9 662.2 1235.9 663.1 1235.5 663.7 1235.5 664 1235.2 665 1231.4 666.2 1235.5 666.7 1235.8 668.7 1235.8 669.2 1235.5 669.9 1234.7 670.7 1235.3 671.2 1235.3 672.7 1234.7 673.3 1233.5 674.5 1221.3 675.5 1232.6 676.2 1234.5 676.7 1234.9 677.7 1235.3 679.7 1235.4 680.1 1234.8 681 1231.4 681.9 1234.9 682.2 1235.5 682.7 1235.8 684.7 1235.9 685.6 1235.5 686.2 1235.8 687.2 1236 690.2 1236 691.4 1235.4 692.7 1235.9 696.2 1235.7 697.7 1235 698.7 1234.8 699.2 1234.4 699.7 1233.5 700.1 1230.8 701 1218.5 702 1231.9 702.7 1234.3 703.2 1234.7 705.2 1235.5 706.7 1235.6 707.1 1235.1 707.7 1233.1 708 1232.8 708.9 1235.2 709.2 1235.7 709.7 1235.9 710.7 1235.8 711.6 1235.1 712.7 1235.9 716.7 1235.9 717.2 1235.8 718.1 1235 719.2 1235.9 720.7 1235.9 721.2 1235.8 722.2 1234.7 723.2 1235.7 724.7 1235.6 726 1235 726.7 1234.9 727.2 1234.3 728.4 1226.8 729.2 1231.8 729.6 1233.1 730.1 1233.2 730.7 1232.9 731.7 1231.7 732.2 1230.1 732.5 1228.1 733.5 1208.1 734.4 1225.1 734.7 1228.2 735.2 1229.7 736.2 1230.3 736.7 1229.6 737.8 1219.9 738.7 1230.3 739.2 1233 739.7 1233.8 740.7 1234.7 742.7 1235.6 744.2 1235.9 746.7 1235.9 747.2 1235.5 747.9 1234.6 748.7 1235.7 749.2 1235.9 752.2 1235.9 752.7 1235.7 753.5 1234.9 754.2 1235.5 754.7 1235.6 756.2 1235.1 756.7 1234.7 757.2 1233.6 758.5 1227 759 1225.9 759.5 1227.1 760.7 1233.3 761.2 1234.4 762.7 1235.4 763.7 1235.7 764.7 1235.7 765.2 1235.5 766.7 1233.8 767 1233.7 769.2 1235.5 770.2 1235.9 774.2 1236 775.5 1235.7 776.7 1235.9 778.7 1235.9 780.2 1235.7 781 1235.2 782.2 1235.6 784.7 1235.3 787.7 1234.2 788.7 1233.1 789.9 1231.1 790.3 1231 791.2 1231.6 791.7 1231.3 792.5 1229.8 793 1229.4 793.6 1230.1 794.7 1232.8 795.2 1233.4 796.2 1234 798.2 1234.6 799.1 1234.6 800.2 1235.1 802.7 1235.5 804.7 1235.6 805.7 1234.9 806.7 1235.7 808.7 1235.6 810.7 1235.2 813.2 1234 814.2 1232.3 815.1 1229.4 815.6 1228.7 816 1229.1 817.2 1231.8 817.7 1232 818.6 1230.9 819.7 1228.7 820.2 1229.3 821.2 1232.5 821.7 1233.5 822.2 1234 822.8 1234 823.7 1233.3 824 1233.3 825.7 1235.3 827.2 1235.8 829.2 1235.9 830.4 1235.2 831.7 1235.9 834.7 1235.8 835.7 1235.5 836.6 1234.7 837.2 1234.9 837.7 1234.7 838.2 1234 838.7 1232.5 839.9 1225.9 840.3 1224.6 840.7 1225.5 841.7 1230.5 842.2 1231.6 842.7 1231.3 843.5 1228.4 844 1227.7 844.5 1228.7 845.7 1233.6 846.2 1234.4 847.2 1235.3 847.7 1235.5 850.2 1235.9 851.9 1235.7 853.2 1235.9 856.2 1235.9 856.7 1235.6 857.4 1234.6 858.2 1235.7 858.7 1235.9 860.7 1235.9 862.7 1235.6 863.2 1235.4 864.2 1234.3 864.7 1233.2 865.5 1230.3 866 1229.6 866.5 1230.3 867.7 1234.2 869.2 1235.5 871.2 1235.9 872.7 1235.9 873.8 1235.2 874.7 1235.8 875.7 1235.9 878.7 1235.8 880.2 1235.4 881.2 1235.5 882.2 1235.2 883.2 1234.8 884.2 1234 886 1230.5 886.3 1230.6 887.2 1231.7 887.7 1231.6 888.7 1230 889 1229.9 889.5 1230.5 890.7 1233.4 891.2 1233.9 893.2 1235.1 894.7 1235.4 895.5 1234.9 896.2 1235.6 897.2 1235.8 899.2 1235.9 899.7 1235.7 900.5 1235 901.2 1235.7 902.2 1236 906.2 1235.9 907.1 1235.4 908.2 1235.9 908.7 1236 909.2 1235.9 910.2 1235.4 911.2 1235.9 911.7 1236 914.7 1235.9 915.9 1235.5 917.2 1235.9 918.2 1235.5 919.9 1233.2 920.3 1233.5 921.7 1235.4 922.7 1235.9 924.2 1235.9 925.2 1235.2 926.2 1235.9 926.7 1236 930.7 1235.9 931.8 1235.4 932.7 1235.9 933.2 1236 936.2 1235.9 937.5 1235.5 938.7 1235.8 940.7 1235.3 941.2 1235.1 941.7 1234.4 942.7 1231.3 943.5 1226.6 944 1225.4 944.5 1226.6 945.7 1233.2 946.2 1234.4 946.7 1235 947.7 1235.4 948.2 1235.3 948.8 1234.7 949.7 1235.7 950.7 1235.9 952.2 1235.9 953.4 1235.1 954.2 1235.8 954.7 1235.9 956.7 1235.9 957.6 1235.6 958.7 1235.9 959.7 1235.8 960.2 1235.5 961.7 1233.5 962.1 1233.3 962.6 1233.6 963.7 1235.4 964.7 1235.9 967.7 1235.9 968.2 1235.8 969 1234.9 969.7 1235.7 970.7 1236 974.7 1236 975.8 1235.4 976.7 1235.9 978.2 1236 978.7 1235.8 979.5 1235.2 980.7 1235.9 982.7 1235.9 983.6 1235.5 984.7 1235.9 986.7 1235.9 987.7 1235.6 988.7 1234.6 989.5 1233.2 990 1232.8 990.5 1233.2 991.7 1235.3 992.2 1235.6 993.2 1235.4 994.2 1235.9 994.7 1235.9 998.2 1235.9 998.7 1235.8 999.6 1234.6 1000.7 1235.9 1003.2 1236 1004.4 1235.7 1005.2 1235.9 1006.2 1235.9 1006.7 1235.7 1007.5 1234.7 1008.2 1235.2 1008.7 1234.9 1009.7 1233.5 1010.1 1233.3 1010.6 1233.6 1011.7 1235.4 1012.7 1235.9 1014.7 1235.9 1016 1235.4 1017.2 1235.9 1020.7 1235.9 1022.1 1235.5 1023.2 1235.7 1024.2 1235.6 1026.7 1234.7 1027.7 1233.3 1028.8 1230.6 1029.2 1230.6 1030.2 1231.6 1030.7 1231.5 1031.7 1229.6 1032 1229.4 1032.6 1230 1033.7 1232.7 1034.7 1233.4 1036.7 1233.5 1037.2 1233.3 1038.5 1231.3 1039 1231 1039.3 1231.2 1040.7 1233.6 1041.7 1234.7 1043.2 1235.2 1045.2 1235.5 1046.3 1234.8 1047.2 1235.7 1048.2 1235.8 1052.2 1235.8 1053.2 1234.9 1054.2 1235.9 1055.7 1235.9 1056.2 1235.8 1057 1235.2 1057.7 1235.6 1058.2 1235.5 1059.7 1233.5 1060.2 1233.3 1060.6 1233.6 1061.7 1235.4 1062.2 1235.7 1063.2 1235.9 1064.7 1235.8 1065.6 1234.9 1066.7 1235.9 1068.2 1235.9 1069.3 1235.4 1070.2 1235.9 1072.2 1236 1072.7 1235.9 1073.7 1234.9 1074.7 1235.9 1075.2 1236 1077.7 1235.9 1078.7 1235 1079.7 1235.9 1080.2 1236 1083.7 1235.9 1084.8 1235.3 1085.7 1235.9 1089.2 1236 1090.2 1235.7 1090.9 1234.7 1091.7 1235.7 1092.7 1235.9 1093.2 1235.9 1094.3 1234.6 1095.2 1235.8 1095.7 1236 1099.2 1236 1100.2 1235.6 1101.2 1236 1103.7 1236 1104.2 1235.8 1105 1235 1105.7 1235.7 1106.2 1236 1110.2 1236 1110.7 1235.9 1111.6 1235.3 1112.7 1235.9 1113.7 1235.9 1114.7 1235.7 1115.2 1235.4 1116.7 1232.6 1117 1232.3 1118.7 1235.3 1119.7 1235.8 1121.2 1235.9 1122.2 1235.8 1123.1 1234.6 1124.2 1235.9 1129.2 1236" fill="none" stroke="#000" stroke-width="2.4"/>
<path d="M114.5 1256h3.8v30h-3.8zM141.9 1256h3.7v30h-3.7zM166.7 1256h3.6v30h-3.6zM226.5 1256h10.3v30h-10.3zM245 1256h3.4v30h-3.4zM263.2 1256h6.8v30h-6.8zM279.5 1256h7.3v30h-7.3zM294.8 1256h3.2v30h-3.2zM299.7 1256h3.5v30h-3.5zM312.6 1256h3.6v30h-3.6zM325.4 1256h6.5v30h-6.5zM354.1 1256h3.9v30h-3.9zM365.7 1256h5.3v30h-5.3zM391.2 1256h12.5v30h-12.5zM404.2 1256h7.7v30h-7.7zM412.7 1256h3.3v30h-3.3zM420.3 1256h3.2v30h-3.2zM446.9 1256h10.3v30h-10.3zM461.3 1256h3.6v30h-3.6zM469.5 1256h7.3v30h-7.3zM479.7 1256h3.5v30h-3.5zM483.7 1256h5.4v30h-5.4zM499.1 1256h18.9v30h-18.9zM524.8 1256h3.4v30h-3.4zM532.1 1256h15.8v30h-15.8zM553.5 1256h30.4v30h-30.4zM591.5 1256h3.5v30h-3.5zM599 1256h11.8v30h-11.8zM612.5 1256h14.2v30h-14.2zM632.1 1256h25.7v30h-25.7zM663.8 1256h3v30h-3zM672.6 1256h4.6v30h-4.6zM679 1256h18v30h-18zM699 1256h4.5v30h-4.5zM706.2 1256h13v30h-13zM721.3 1256h9v30h-9zM731.9 1256h8.5v30h-8.5zM743.5 1256h17.4v30h-17.4zM764.5 1256h4.1v30h-4.1zM770.9 1256h9v30h-9zM785 1256h18.8v30h-18.8zM805.6 1256h20.3v30h-20.3zM828.1 1256h42.7v30h-42.7zM872.8 1256h7.2v30h-7.2zM880.9 1256h2.7v30h-2.7zM884.8 1256h10.2v30h-10.2zM895.9 1256h42.4v30h-42.4zM940 1256h32.8v30h-32.8zM975.6 1256h8.3v30h-8.3zM987.9 1256h31.9v30h-31.9zM1020.7 1256h110.3v30h-110.3z" fill="#00cc5f"/>
<path d="M483 1256v30M503.1 1256v30M509.4 1256v30M513.8 1256v30M543.6 1256v30M602.7 1256v30M652.3 1256v30M685.4 1256v30M711.4 1256v30M724.4 1256v30M725.6 1256v30M833.3 1256v30M838.5 1256v30M851.5 1256v30M1060.5 1256v30M1107.2 1256v30" stroke="#80e2aa" stroke-width="0.9"/>
<path d="M51 1314.3 51.8 1314.7 52.6 1314 53.4 1314.5 54.2 1314.5 55 1314 55.8 1314.5 56.6 1314.6 57.4 1314.8 58.2 1314.3 59 1314.8 59.8 1314.4 60.6 1314.4 61.4 1314.7 62.2 1314 63 1314.5 63.8 1314.4 64.6 1314.1 65.4 1314.5 66.2 1314.1 67 1314.1 67.8 1314.2 68.6 1314.3 69.4 1313.8 70.2 1314 71 1313.9 71.8 1314 72.6 1314.2 73.4 1313.8 74.2 1314.2 75 1313.8 75.8 1313.9 76.6 1313.7 77.4 1313.9 78.2 1314.3 79 1314 79.8 1314.1 80.6 1313.8 81.4 1313.8 82.2 1313.7 83 1314 83.8 1314.1 84.6 1314.2 85.4 1313.6 86.2 1314.2 87 1314.3 87.8 1314 88.6 1313.6 89.4 1313.9 90.2 1313.6 91 1313.8 91.8 1314.4 92.6 1314.1 93.4 1314.2 94.2 1314.3 95 1314.4 95.8 1314.1 96.6 1314.1 97.4 1314.1 98.2 1314.1 99 1314 99.8 1314 100.6 1313.6 101.4 1314 102.2 1313.8 103 1314 103.8 1313.4 104.6 1313.4 105.4 1313.2 106.2 1313.8 107 1313.9 107.8 1313.7 108.6 1313.4 109.4 1313.7 110.2 1313.7 111 1313.5 111.8 1313.2 112.6 1313.2 113.4 1313.3 114.2 1313.2 115 1313.3 115.8 1313.5 116.6 1313.7 117.4 1313 118.2 1313.4 119 1313 119.8 1313.1 120.6 1313.7 121.4 1313.5 122.2 1313.8 123 1313.5 123.8 1313.2 124.6 1313.5 125.4 1313.7 126.2 1314 127 1314.1 127.8 1313.7 128.6 1313.7 129.4 1313.5 130.2 1314 131 1313.6 131.8 1313.6 132.6 1313.5 133.4 1313.5 134.2 1314.1 135 1313.7 135.8 1314.4 136.6 1313.7 137.4 1314.3 138.2 1313.7 139 1313.6 139.8 1314.2 139.8 1313.7 142 1314.2 143.2 1313.8 144.5 1312.8 146.5 1313.2 147.5 1313.9 147.8 1314 148.6 1314.1 149.4 1313.8 150.2 1314.2 151 1313.7 151.8 1314.2 152.6 1314 153.4 1313.5 154.2 1313.5 155 1314 155.8 1314.2 156.6 1313.6 157.4 1313.8 158.2 1314.1 159 1313.7 159.8 1314.3 160.6 1314 161.4 1313.7 162.2 1314 163 1314.2 163.8 1314.1 164.5 1314 166.5 1312.6 168.5 1316.4 170.5 1313 172.5 1314 172.6 1314.7 173.4 1314.5 174.2 1314.3 175 1314.1 175.8 1314.8 176.6 1314.6 177.4 1314.7 178.2 1314.2 179 1314.4 179.8 1314.7 180.6 1314.6 181.4 1314.3 182.2 1314.1 183 1314.1 183.8 1314.5 184.6 1314 185.4 1314.2 186.2 1314.1 187 1314.3 187.8 1314.2 188.6 1313.7 189.4 1313.4 190.2 1313.6 191 1313.7 191.8 1313.8 192.6 1314 193.4 1314 194.2 1313.3 195 1314 195.8 1313.9 196.6 1314 197.4 1313.7 198.2 1313.5 199 1314 199.8 1313.9 200.6 1313.8 201.4 1314 202.2 1313.6 203 1313.4 203.8 1313.8 204.6 1314 205.4 1313.5 206.2 1314 207 1314.2 207.8 1313.6 208.6 1313.9 209.4 1314 210.2 1313.8 211 1313.6 211.8 1313.7 212.6 1314.1 213.4 1314.1 214.2 1313.8 215 1313.5 215.8 1314.1 216.6 1314 217.4 1313.6 218 1314.2 224.5 1315.2 226.6 1316 228 1316.9 232 1315.8 236.5 1315.2 238 1314.8 240 1314.3 240.6 1313.9 241.4 1313.7 242.2 1313.8 243 1313.6 243.8 1314 244.6 1313.8 245.4 1314.3 246.2 1314.1 247 1314.2 247.8 1314.4 248.6 1313.8 249.4 1313.7 250.2 1313.9 251 1313.9 251.8 1313.8 252.6 1313.8 253.4 1314.3 254.2 1314.5 255 1314.2 255.8 1314.6 256.6 1314.6 257.4 1313.9 258.2 1314.3 259 1314.1 259.8 1313.9 260.6 1314.6 261.4 1314 262.2 1314.2 263 1314.3 263.8 1314.5 264 1314.1 267 1312 270 1314 270.2 1313.6 271 1313.8 271.8 1313.9 272.6 1314.3 273.4 1314.3 274.2 1314.3 275 1313.6 275.8 1314.2 276.6 1314.2 277.4 1314.2 278.2 1314.5 279 1313.5 284.8 1311.1 288 1312.9 294 1312.4 295.5 1316.4 297 1310.8 303.5 1310.9 305.5 1313.4 306.2 1314 307 1313.7 307.8 1313.8 308.6 1313.3 309.4 1313.4 310.2 1313.2 311 1313.7 311.8 1313.6 312.6 1313.2 313.4 1313.8 314.2 1313.3 315 1313.4 315.8 1313.2 316.6 1313.3 317.4 1313.8 318.2 1313.4 319 1313.2 319.8 1313.5 320.6 1313.4 321.4 1313.9 322.2 1313.3 323 1314 323.8 1313.3 324.6 1314 325.4 1313.8 326.2 1313.5 327 1313.7 327.8 1313.6 328.6 1313.6 329.4 1313.5 330.2 1313.7 331 1314.2 331.8 1314.2 332.6 1314.2 333.4 1313.5 334.2 1313.6 335 1314.1 335.8 1313.4 336.6 1314 337.4 1313.6 338.2 1314.2 339 1313.4 339.8 1314 340.6 1313.6 341.4 1313.4 342.2 1313.3 343 1313.9 343.8 1313.7 344.6 1313.4 345.4 1313.6 346.2 1313.9 347 1313.4 347.8 1313.6 348.6 1313.3 349 1314.3 352.5 1312.1 355.2 1313 357.6 1312.5 361 1313 370 1312.9 390 1313.8 390.2 1314 391 1314 391.8 1314 392.6 1314 393.4 1313.5 394.2 1314.3 395 1313.7 395.8 1313.7 396.6 1313.6 397.4 1313.7 398.2 1314.2 399 1313.6 399.8 1313.7 400.6 1314.2 401.4 1313.8 402.2 1313.6 403 1314.1 403.8 1314.1 404.6 1314.1 405.4 1314.3 406.2 1313.8 407 1314.4 407.8 1314.3 408.6 1313.7 409.4 1313.8 410.2 1314.1 411 1314.1 411.8 1313.9 412.6 1313.8 413.4 1314 414.2 1313.7 415 1314.1 415.8 1314.3 416.6 1313.7 417.4 1314 418.2 1314.1 419 1313.6 419.8 1314.1 420.6 1314.1 421.4 1313.6 422.2 1313.6 423 1313.9 423.8 1313.6 424.6 1313.5 425.4 1313.9 426.2 1313.7 427 1313.3 427.8 1313.2 428.6 1313.3 429.4 1313.3 430.2 1313.8 431 1313.6 431.8 1313.7 432.6 1313.6 433.4 1313.6 434.2 1313 435 1313.4 435.8 1313.8 436.6 1313.8 437.4 1313.2 438.2 1313.4 439 1313.6 439.8 1313.4 440.6 1313.6 441.4 1313.2 442.2 1313.6 443 1313.7 443.8 1313.3 444.6 1313.4 445.4 1314.1 446.2 1314 447 1314.2 447.8 1313.9 448.6 1314.1 449.4 1314.2 450.2 1314.2 451 1313.5 451.5 1314.1 453.5 1314.5 455.5 1313.4 456.5 1313.6 458 1314 458.2 1313.9 459 1313.9 459.8 1314.3 460.6 1313.7 461.4 1313.7 462.2 1314 463 1313.5 463.8 1313.9 464.6 1314.2 465.4 1313.8 466.2 1313.6 467 1313.8 467.8 1313.8 468.6 1313.5 469.4 1313.5 470.2 1313.5 471 1313.6 471.8 1313.8 472.6 1313.7 473.4 1313.7 474.2 1313.5 475 1314 475.8 1314.2 476.6 1314.1 477.4 1314.1 478.2 1314.2 479 1313.8 479.8 1314.3 480.6 1314.1 481.4 1314.2 482.2 1314.3 483 1314.2 483.8 1314.1 484.6 1314.1 485.4 1314.1 486.2 1314.4 487 1314.3 487.8 1314.5 488.6 1314 489.4 1314.3 490.2 1314.7 491 1314.2 491.8 1314.5 492.6 1314.4 493.4 1314.3 494.2 1314.8 495 1314.2 495.8 1314.6 496.6 1314.1 497.4 1314 498.2 1314.6 499 1314.2 499.8 1313.9 500.6 1314.1 501.4 1314.1 502.2 1314.3 503 1313.7 503.8 1313.8 504.6 1314.4 505.4 1314.1 506.2 1313.6 507 1313.8 507.8 1313.7 508.6 1314 509.4 1313.9 510.2 1314.1 511 1314 511.8 1313.8 512.6 1313.9 513.4 1313.9 514.2 1314 515 1313.7 515.8 1314 516.6 1313.9 517.4 1314.1 518.2 1313.5 519 1314.1 519.8 1313.4 520.6 1314 521.4 1313.9 522.2 1313.8 523 1314.2 523.8 1313.9 524.6 1313.8 525.4 1314.1 526.2 1314.2 527 1314 527.8 1313.8 528.6 1313.9 529.4 1313.9 530.2 1314.1 531 1313.7 531.8 1313.8 532.6 1313.9 533.4 1313.7 534.2 1313.7 535 1314 535.8 1314.1 536.6 1313.7 537.4 1313.7 538.2 1313.4 539 1313.5 539.8 1313.3 540.6 1313.6 541.4 1313.6 542.2 1313.2 543 1313.8 543.8 1313.3 544.6 1313.7 545.4 1313.7 546.2 1313.8 547 1313.1 547.8 1313.3 548.6 1313.7 549.4 1313 550.2 1313 551 1313.4 551.8 1313.4 552.6 1313.8 553.4 1313.7 554.2 1313.5 555 1313.9 555.8 1313.5 556.6 1313.6 557.4 1313.7 558.2 1313.5 559 1313.5 559.8 1313.8 560.6 1313.6 561.4 1314.1 562.2 1314 563 1313.9 563.8 1313.6 564.6 1313.8 565.4 1313.9 566.2 1314.1 567 1314.1 567.8 1314.4 568.6 1314.5 569.4 1314.1 570.2 1314.1 571 1314.3 571.8 1314.6 572.6 1314 573.4 1314.2 574.2 1314.4 575 1313.9 575.8 1314 576.6 1314.5 577.4 1314.4 578.2 1314.1 579 1313.8 579.8 1314.4 580.6 1314.2 581.4 1314.3 582.2 1314.5 583 1314.4 583.8 1313.9 584.6 1313.7 585.4 1313.8 586.2 1314 587 1314 587.8 1313.7 588.6 1313.7 589.4 1314.1 590.2 1314.1 591 1313.9 591.8 1314.4 592.6 1314.1 593.4 1313.6 594.2 1314 595 1314.3 595.8 1313.9 596.6 1314.3 597.4 1313.7 598.2 1314 599 1314.5 599.8 1314.3 600.6 1314.4 601.4 1314 602.2 1314.3 603 1314.3 603.8 1314.1 604.6 1314.5 605.4 1314.4 606.2 1314.8 607 1314.4 607.8 1314.3 608.6 1314.1 609.4 1314.1 610.2 1314.6 611 1314 611.8 1314 612.6 1314 613.4 1314.3 614.2 1314.5 615 1314.3 615.8 1314.4 616.6 1313.8 617.4 1313.7 618.2 1314.3 619 1313.9 619.8 1314.1 620.6 1313.8 621.4 1313.6 622.2 1313.6 623 1313.5 623.8 1314.1 624.6 1313.8 625.4 1313.6 626.2 1313.6 627 1313.5 627.8 1313.2 628.6 1313.9 629.4 1313.6 630.2 1313.9 631 1313.5 631.8 1313.6 632.6 1313.3 633.4 1313.1 634.2 1313.9 635 1313.8 635.8 1313.4 636.6 1313.9 637.4 1313.8 638.2 1313.4 639 1313.7 639.8 1314 640.6 1313.7 641.4 1314.1 642.2 1313.5 643 1313.6 643.8 1313.9 644.6 1313.5 645.4 1313.6 646.2 1314.1 647 1313.8 647.8 1314 648.6 1313.6 649.4 1313.5 650.2 1313.7 651 1313.5 651.8 1314.2 652.6 1313.6 653.4 1313.8 654.2 1313.4 655 1313.8 655.8 1313.6 656.6 1313.6 657.4 1313.3 658.2 1313.3 659 1313.9 659.8 1313.5 660.6 1313.4 661.4 1313.3 662.2 1313.4 663 1313.3 663.8 1313.1 664.6 1313.7 665.4 1313.4 666.2 1313.2 667 1313.7 667.8 1313.2 668.6 1313.3 669.4 1313.8 670.2 1313.2 671 1313.5 671.8 1313.9 672.6 1313.9 673.4 1313.4 674.2 1313.6 675 1313.9 675.8 1313.7 676.6 1314.2 677.4 1313.6 678.2 1314.3 679 1313.9 679.8 1313.8 680.6 1314 681.4 1313.8 682.2 1314.3 683 1313.9 683.8 1314.5 684.6 1314.3 685.4 1314.1 686.2 1314.1 687 1314.4 687.8 1314.1 688.6 1314.6 689.4 1314 690.2 1314.4 691 1314.4 691.8 1314.2 692.6 1314.6 693.4 1314.3 694.2 1314.5 695 1314.4 695.8 1314.1 696.6 1314.2 697.4 1313.9 698.2 1314 699 1314.5 699.8 1314 700.6 1314.3 701.4 1313.8 702.2 1314.2 703 1314 703.8 1314.1 704.6 1313.9 705.4 1313.7 706.2 1313.9 707 1313.8 707.8 1313.7 708.6 1314.2 709.4 1313.8 710.2 1313.9 711 1314.3 711.8 1314.2 712.6 1314.3 713.4 1314.3 714.2 1313.7 715 1313.8 715.8 1313.6 716.6 1314.2 717.4 1314.2 718.2 1314 719 1314 719.8 1314.2 720.6 1314.3 721.4 1313.9 722.2 1314.4 723 1314 723.8 1314.3 724.6 1313.9 725.4 1313.9 726.2 1314.5 727 1314.4 727.8 1314.3 728.6 1313.8 729.4 1313.8 730.2 1313.8 731 1313.8 731.8 1313.9 732.6 1313.9 733.4 1313.6 734.2 1313.8 735 1314 735.8 1313.6 736.6 1314.1 737.4 1313.9 738.2 1313.9 739 1313.5 739.8 1313.6 740.6 1313.8 741.4 1313.5 742.2 1313.2 743 1313.8 743.8 1313.7 744.6 1313.3 745.4 1313.1 746.2 1313.7 747 1313.5 747.8 1313 748.6 1313.2 749.4 1313.1 750.2 1313.6 751 1313.1 751.8 1313.7 752.6 1313.6 753.4 1313.1 754.2 1313.6 755 1313.4 755.8 1313.7 756.6 1313.8 757.4 1313.4 758.2 1313.2 759 1314 759.8 1313.6 760.6 1314 761.4 1313.9 762.2 1313.9 763 1314 763.8 1313.9 764.6 1313.8 765.4 1313.5 766.2 1314 767 1313.8 767.8 1313.9 768.6 1314.2 769.4 1313.6 770.2 1314.1 771 1313.5 771.8 1314.1 772.6 1314.1 773.4 1313.7 774.2 1313.9 775 1314.2 775.8 1314 776.6 1313.9 777.4 1313.6 778.2 1313.4 779 1313.7 779.8 1313.7 780.6 1313.5 781.4 1313.6 782.2 1313.4 783 1313.9 783.8 1313.9 784.6 1313.5 785.4 1313.5 786.2 1313.7 787 1313.7 787.8 1314.1 788.6 1313.6 789.4 1313.6 790.2 1314.1 791 1313.5 791.8 1313.9 792.6 1313.8 793.4 1314.2 794.2 1314 795 1314.2 795.8 1313.8 796.6 1314.2 797.4 1314.2 798.2 1314.1 799 1314.4 799.8 1314.5 800.6 1313.9 801.4 1314.1 802.2 1314.2 803 1314.1 803.8 1314 804.6 1314.2 805.4 1314.2 806.2 1314.6 807 1314.4 807.8 1314.1 808.6 1314.3 809.4 1314.4 810.2 1314.3 811 1314.1 811.8 1314.1 812.6 1314 813.4 1314.8 814.2 1314.5 815 1314 815.8 1314.5 816.6 1314.6 817.4 1314.3 818.2 1313.8 819 1314.1 819.8 1314 820.6 1313.8 821.4 1314.1 822.2 1313.6 823 1314.3 823.8 1314.1 824.6 1314 825.4 1314.2 826.2 1314 827 1313.6 827.8 1313.6 828.6 1313.5 829.4 1313.4 830.2 1314 831 1314.1 831.8 1313.6 832.6 1313.6 833.4 1313.9 834.2 1314.1 835 1314.2 835.8 1313.6 836.6 1314.1 837.4 1314.2 838.2 1314.1 839 1313.8 839.8 1313.7 840.6 1314.2 841.4 1313.8 842.2 1313.8 843 1314 843.8 1313.9 844.6 1314.2 845.4 1313.7 846.2 1313.6 847 1314 847.8 1314 848.6 1314.2 849.4 1314.1 850.2 1314.2 851 1314.2 851.8 1313.8 852.6 1313.8 853.4 1313.5 854.2 1313.6 855 1313.8 855.8 1313.3 856.6 1313.8 857.4 1313.3 858.2 1313.5 859 1313.9 859.8 1313.2 860.6 1313.1 861.4 1313.4 862.2 1313.2 863 1313.6 863.8 1313 864.6 1313.7 865.4 1313.7 866.2 1313.6 867 1313.3 867.8 1313.2 868.6 1313.5 869.4 1313.4 870.2 1313.3 871 1313.3 871.8 1313.4 872.6 1313.6 873.4 1313.8 874.2 1313.9 875 1313.3 875.8 1313.4 876.6 1313.6 877.4 1313.7 878.2 1313.6 879 1313.5 879.8 1313.5 880.6 1313.7 881.4 1313.8 882.2 1314.3 883 1314.3 883.8 1314.3 884.6 1314.4 885.4 1314.4 886.2 1314.2 887 1314.3 887.8 1313.7 888.6 1314.2 889.4 1314.2 890.2 1313.9 891 1314.2 891.8 1314.5 892.6 1314.1 893.4 1314.2 894.2 1313.9 895 1313.9 895.8 1314.4 896.6 1313.6 897.4 1313.8 898.2 1314.1 899 1313.9 899.8 1313.6 900.6 1314.1 901.4 1313.8 902.2 1314 903 1313.9 903.8 1314 904.6 1314 905.4 1313.8 906.2 1313.6 907 1313.7 907.8 1314.3 908.6 1314 909.4 1313.7 910.2 1314.3 911 1313.8 911.8 1313.7 912.6 1314.1 913.4 1313.9 914.2 1314.1 915 1314.2 915.8 1314 916.6 1314.3 917.4 1313.9 918.2 1314.3 919 1314.4 919.8 1314 920.6 1314.3 921.4 1314 922.2 1314.3 923 1314.7 923.8 1314.4 924.6 1314.6 925.4 1314.6 926.2 1314.1 927 1314.8 927.8 1314.6 928.6 1314 929.4 1314.6 930.2 1314.2 931 1314 931.8 1314.6 932.6 1314.3 933.4 1314.4 934.2 1313.9 935 1314.3 935.8 1313.7 936.6 1313.8 937.4 1313.9 938.2 1313.5 939 1314 939.8 1313.6 940.6 1313.7 941.4 1314 942.2 1313.7 943 1314 943.8 1313.8 944.6 1314 945.4 1313.7 946.2 1314 947 1313.9 947.8 1313.3 948.6 1313.8 949.4 1313.5 950.2 1313.8 951 1313.7 951.8 1313.9 952.6 1313.3 953.4 1313.5 954.2 1313.8 955 1314 955.8 1313.9 956.6 1313.3 957.4 1313.8 958.2 1313.4 959 1313.8 959.8 1314 960.6 1313.5 961.4 1314.1 962.2 1313.9 963 1313.6 963.8 1313.6 964.6 1313.8 965.4 1314.1 966.2 1313.9 967 1313.5 967.8 1313.4 968.6 1313.5 969.4 1314 970.2 1313.5 971 1313.8 971.8 1313.6 972.6 1313.9 973.4 1313.6 974.2 1313.4 975 1313.9 975.8 1313.6 976.6 1313.7 977.4 1313.8 978.2 1313.9 979 1313.1 979.8 1313.4 980.6 1313.2 981.4 1313.5 982.2 1313.8 983 1313.7 983.8 1313.1 984.6 1313.2 985.4 1313.7 986.2 1313.6 987 1313.4 987.8 1313.5 988.6 1313.3 989.4 1313.8 990.2 1313.5 991 1313.9 991.8 1313.8 992.6 1313.3 993.4 1313.6 994.2 1313.5 995 1314.2 995.8 1313.9 996.6 1313.5 997.4 1313.7 998.2 1313.9 999 1314 999.8 1314.1 1000.6 1314 1001.4 1314 1002.2 1313.8 1003 1314.3 1003.8 1314.1 1004.6 1313.9 1005.4 1314.2 1006.2 1314.7 1007 1313.9 1007.8 1314 1008.6 1314.5 1009.4 1314.1 1010.2 1314.1 1011 1314.3 1011.8 1314.1 1012.6 1314.3 1013.4 1314.3 1014.2 1314.6 1015 1314.6 1015.8 1313.8 1016.6 1314.2 1017.4 1314.4 1018.2 1314.4 1019 1314.3 1019.8 1314.2 1020.6 1314.2 1021.4 1313.9 1022.2 1313.8 1023 1314.3 1023.8 1314.3 1024.6 1314.4 1025.4 1314.1 1026.2 1313.8 1027 1314.2 1027.8 1314.2 1028.6 1314 1029.4 1314.1 1030.2 1313.9 1031 1314.1 1031.8 1314 1032.6 1313.7 1033.4 1314 1034.2 1314 1035 1314.5 1035.8 1314.1 1036.6 1314.1 1037.4 1314 1038.2 1314 1039 1314.1 1039.8 1313.9 1040.6 1313.8 1041.4 1314.6 1042.2 1314.2 1043 1314.2 1043.8 1314.3 1044.6 1314.1 1045.4 1314 1046.2 1313.9 1047 1314 1047.8 1314 1048.6 1314.3 1049.4 1314.1 1050.2 1314.4 1051 1313.9 1051.8 1314.3 1052.6 1314 1053.4 1313.6 1054.2 1313.6 1055 1313.9 1055.8 1314.2 1056.6 1313.6 1057.4 1313.9 1058.2 1313.6 1059 1313.9 1059.8 1313.2 1060.6 1313.5 1061.4 1313.8 1062.2 1313.3 1063 1313.3 1063.8 1313.1 1064.6 1313.2 1065.4 1313.2 1066.2 1313.6 1067 1313.2 1067.8 1313.3 1068.6 1313.2 1069.4 1313.5 1070.2 1313.7 1071 1313.6 1071.8 1313.2 1072.6 1313.7 1073.4 1313.9 1074.2 1313.6 1075 1313.2 1075.8 1313.9 1076.6 1313.9 1077.4 1313.5 1078.2 1313.4 1079 1313.5 1079.8 1313.8 1080.6 1314.1 1081.4 1313.9 1082.2 1314.1 1083 1313.6 1083.8 1313.7 1084.6 1314 1085.4 1314 1086.2 1313.8 1087 1314 1087.8 1313.7 1088.6 1313.5 1089.4 1313.8 1090.2 1313.4 1091 1313.9 1091.8 1313.7 1092.6 1313.8 1093.4 1313.8 1094.2 1313.5 1095 1313.7 1095.8 1313.3 1096.6 1314.1 1097.4 1313.7 1098.2 1314.1 1099 1313.3 1099.8 1313.8 1100.6 1313.8 1101.4 1313.5 1102.2 1313.3 1103 1313.4 1103.8 1313.4 1104.6 1313.9 1105.4 1313.4 1106.2 1314 1107 1313.7 1107.8 1313.8 1108.6 1313.9 1109.4 1313.9 1110.2 1314 1111 1314 1111.8 1313.8 1112.6 1314.2 1113.4 1313.8 1114.2 1314.2 1115 1314.3 1115.8 1314.4 1116.6 1314 1117.4 1314.5 1118.2 1314.7 1119 1314.3 1119.8 1314.1 1120.6 1314.4 1121.4 1314.7 1122.2 1314.1 1123 1314 1123.8 1314.4 1124.6 1314.6 1125.4 1314.7 1126.2 1314.3 1127 1314.8 1127.8 1314.2 1128.6 1314.6" fill="none" stroke="#0033ff" stroke-width="5.3" stroke-linejoin="round"/>
<path d="M140.4 1301.3H146V1314.1H140.4zM145.5 1307.2H147.4V1312.2H145.5zM226 1314.1H229.6V1322.3H226zM229 1314.1H234.9V1338.6H229zM230.8 1305.8H236.7V1314.1H230.8zM352.6 1314.1H358.1V1322.2H352.6zM354 1303.9H359.7V1314.1H354zM452 1314.1H456V1320.2H452zM452.5 1309.7H457V1314.1H452.5z" fill="#0033ff"/>
<text class="lab"><tspan x="967.83" y="183.35" font-size="102.33" textLength="40.63" lengthAdjust="spacingAndGlyphs">(</tspan><tspan x="1006.79" y="185.24" font-size="96.34" textLength="49.09" lengthAdjust="spacingAndGlyphs">a</tspan><tspan x="1056.05" y="183.35" font-size="102.33" textLength="40.48" lengthAdjust="spacingAndGlyphs">)</tspan></text>
<text class="lab"><tspan x="969.25" y="957.85" font-size="102.91" textLength="40.48" lengthAdjust="spacingAndGlyphs">(</tspan><tspan x="1008.07" y="959.47" font-size="103.23" textLength="55.94" lengthAdjust="spacingAndGlyphs">b</tspan><tspan x="1063.25" y="957.85" font-size="102.91" textLength="40.48" lengthAdjust="spacingAndGlyphs">)</tspan></text>
<text class="th"><tspan x="574.92" y="778.16" font-size="64.37" textLength="38.01" lengthAdjust="spacingAndGlyphs">θ</tspan></text>
<text class="th"><tspan x="601.32" y="1556.45" font-size="65.07" textLength="38.01" lengthAdjust="spacingAndGlyphs">θ</tspan></text>
</svg>
</body></html>
